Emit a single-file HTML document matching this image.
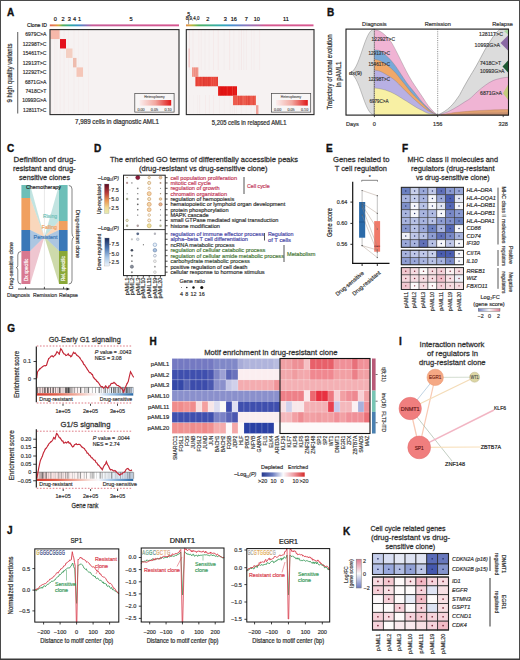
<!DOCTYPE html>
<html><head><meta charset="utf-8"><title>Figure</title>
<style>
html,body{margin:0;padding:0;background:#fff;}
body{width:520px;height:660px;overflow:hidden;}
svg{display:block;font-family:"Liberation Sans",sans-serif;}
</style></head><body>
<svg width="520" height="660" viewBox="0 0 520 660">
<rect x="0.00" y="0.00" width="520.00" height="660.00" fill="#ffffff" />
<text x="7.00" y="16.20" font-size="10" fill="#111" stroke="#111" stroke-width="0.35" font-weight="bold" >A</text>
<text x="55.40" y="20.76" font-size="5.6" text-anchor="middle" stroke="#2a2a2a" stroke-width="0.187" >0</text>
<text x="63.00" y="20.76" font-size="5.6" text-anchor="middle" stroke="#2a2a2a" stroke-width="0.187" >2</text>
<text x="69.20" y="20.76" font-size="5.6" text-anchor="middle" stroke="#2a2a2a" stroke-width="0.187" >3</text>
<text x="74.60" y="20.76" font-size="5.6" text-anchor="middle" stroke="#2a2a2a" stroke-width="0.187" >4</text>
<text x="79.50" y="20.76" font-size="5.6" text-anchor="middle" stroke="#2a2a2a" stroke-width="0.187" >1</text>
<text x="131.00" y="20.76" font-size="5.6" text-anchor="middle" stroke="#2a2a2a" stroke-width="0.187" >5</text>
<text x="47.00" y="27.20" font-size="5.8" text-anchor="end" stroke="#2a2a2a" stroke-width="0.193" textLength="20.00" lengthAdjust="spacingAndGlyphs" >Clone ID</text>
<text x="188.80" y="15.62" font-size="5.2" text-anchor="middle" stroke="#2a2a2a" stroke-width="0.173" >5</text>
<line x1="188.60" y1="15.50" x2="188.60" y2="24.50" stroke="#333" stroke-width="0.5" />
<text x="185.80" y="20.42" font-size="5.2" stroke="#2a2a2a" stroke-width="0.173" textLength="13.60" lengthAdjust="spacingAndGlyphs" >8,9,4,0</text>
<text x="207.80" y="20.76" font-size="5.6" text-anchor="middle" stroke="#2a2a2a" stroke-width="0.187" >2</text>
<text x="225.30" y="20.76" font-size="5.6" text-anchor="middle" stroke="#2a2a2a" stroke-width="0.187" >3</text>
<text x="233.80" y="20.76" font-size="5.6" text-anchor="middle" stroke="#2a2a2a" stroke-width="0.187" textLength="6.23" lengthAdjust="spacingAndGlyphs" >16</text>
<text x="246.30" y="20.76" font-size="5.6" text-anchor="middle" stroke="#2a2a2a" stroke-width="0.187" >7</text>
<text x="256.80" y="20.76" font-size="5.6" text-anchor="middle" stroke="#2a2a2a" stroke-width="0.187" textLength="6.23" lengthAdjust="spacingAndGlyphs" >10</text>
<text x="286.00" y="20.76" font-size="5.6" text-anchor="middle" stroke="#2a2a2a" stroke-width="0.187" textLength="5.81" lengthAdjust="spacingAndGlyphs" >11</text>
<defs>
<linearGradient id="cb1" x1="49.8" x2="179" y1="0" y2="0" gradientUnits="userSpaceOnUse">
<stop offset="0" stop-color="#e06858"/><stop offset="0.045" stop-color="#e88a48"/>
<stop offset="0.07" stop-color="#c8b040"/><stop offset="0.1" stop-color="#58b058"/>
<stop offset="0.16" stop-color="#30a8a0"/><stop offset="0.22" stop-color="#3a90c8"/>
<stop offset="0.28" stop-color="#8870b8"/><stop offset="0.33" stop-color="#c85c98"/>
<stop offset="1" stop-color="#d65690"/></linearGradient>
<linearGradient id="cb2" x1="186" x2="313.5" y1="0" y2="0" gradientUnits="userSpaceOnUse">
<stop offset="0" stop-color="#e08848"/><stop offset="0.03" stop-color="#d8a840"/>
<stop offset="0.06" stop-color="#a0b840"/><stop offset="0.1" stop-color="#50b060"/>
<stop offset="0.2" stop-color="#40b090"/><stop offset="0.29" stop-color="#30a8b8"/>
<stop offset="0.36" stop-color="#4890d0"/><stop offset="0.47" stop-color="#8878c0"/>
<stop offset="0.56" stop-color="#b068a8"/><stop offset="0.62" stop-color="#d65890"/>
<stop offset="1" stop-color="#d85890"/></linearGradient>
<linearGradient id="het" x1="0" x2="1" y1="0" y2="0">
<stop offset="0" stop-color="#fbeeee"/><stop offset="0.5" stop-color="#f2a8a0"/>
<stop offset="1" stop-color="#e01818"/></linearGradient>
</defs>
<rect x="49.80" y="24.40" width="129.20" height="1.90" fill="url(#cb1)" />
<rect x="186.00" y="24.40" width="127.50" height="1.90" fill="url(#cb2)" />
<rect x="50.00" y="29.60" width="129.00" height="85.00" fill="#f6f2f2" />
<rect x="186.30" y="29.60" width="127.70" height="85.00" fill="#f6f2f2" />
<rect x="51.00" y="29.60" width="0.54" height="85.00" fill="#f2dada" opacity="0.31"/>
<rect x="54.48" y="29.60" width="0.76" height="85.00" fill="#f2dada" opacity="0.34"/>
<rect x="56.74" y="29.60" width="0.41" height="85.00" fill="#f2dada" opacity="0.40"/>
<rect x="59.78" y="29.60" width="0.54" height="85.00" fill="#f2dada" opacity="0.45"/>
<rect x="63.66" y="29.60" width="0.90" height="85.00" fill="#f2dada" opacity="0.29"/>
<rect x="68.22" y="29.60" width="0.49" height="85.00" fill="#f2dada" opacity="0.34"/>
<rect x="73.69" y="29.60" width="0.71" height="85.00" fill="#f2dada" opacity="0.37"/>
<rect x="78.37" y="29.60" width="0.44" height="85.00" fill="#f2dada" opacity="0.38"/>
<rect x="82.74" y="29.60" width="0.58" height="85.00" fill="#f2dada" opacity="0.16"/>
<rect x="88.20" y="29.60" width="0.68" height="85.00" fill="#f2dada" opacity="0.37"/>
<rect x="189.00" y="29.60" width="0.83" height="40.40" fill="#f2dada" opacity="0.43"/>
<rect x="192.58" y="29.60" width="0.88" height="40.40" fill="#f2dada" opacity="0.28"/>
<rect x="198.32" y="29.60" width="0.93" height="40.40" fill="#f2dada" opacity="0.18"/>
<rect x="200.87" y="29.60" width="0.53" height="40.40" fill="#f2dada" opacity="0.44"/>
<rect x="204.61" y="29.60" width="0.78" height="40.40" fill="#f2dada" opacity="0.24"/>
<rect x="208.64" y="29.60" width="0.63" height="40.40" fill="#f2dada" opacity="0.26"/>
<rect x="212.98" y="29.60" width="0.75" height="40.40" fill="#f2dada" opacity="0.42"/>
<rect x="217.71" y="29.60" width="0.96" height="40.40" fill="#f2dada" opacity="0.41"/>
<rect x="223.67" y="29.60" width="0.80" height="40.40" fill="#f2dada" opacity="0.20"/>
<rect x="229.11" y="29.60" width="0.98" height="40.40" fill="#f2dada" opacity="0.42"/>
<rect x="233.39" y="29.60" width="0.83" height="40.40" fill="#f2dada" opacity="0.21"/>
<rect x="238.72" y="29.60" width="0.74" height="40.40" fill="#f2dada" opacity="0.24"/>
<rect x="240.97" y="29.60" width="0.91" height="40.40" fill="#f2dada" opacity="0.45"/>
<rect x="243.33" y="29.60" width="0.88" height="40.40" fill="#f2dada" opacity="0.27"/>
<rect x="245.93" y="29.60" width="0.58" height="40.40" fill="#f2dada" opacity="0.38"/>
<rect x="251.42" y="29.60" width="0.43" height="40.40" fill="#f2dada" opacity="0.33"/>
<rect x="253.60" y="29.60" width="0.83" height="40.40" fill="#f2dada" opacity="0.25"/>
<rect x="259.12" y="29.60" width="0.99" height="40.40" fill="#f2dada" opacity="0.30"/>
<rect x="189.00" y="95.00" width="0.59" height="19.60" fill="#f2dada" opacity="0.17"/>
<rect x="193.40" y="95.00" width="0.42" height="19.60" fill="#f2dada" opacity="0.21"/>
<rect x="197.03" y="95.00" width="0.77" height="19.60" fill="#f2dada" opacity="0.20"/>
<rect x="199.20" y="95.00" width="0.92" height="19.60" fill="#f2dada" opacity="0.24"/>
<rect x="205.04" y="95.00" width="0.94" height="19.60" fill="#f2dada" opacity="0.26"/>
<rect x="208.88" y="95.00" width="0.71" height="19.60" fill="#f2dada" opacity="0.34"/>
<rect x="213.26" y="95.00" width="0.74" height="19.60" fill="#f2dada" opacity="0.34"/>
<rect x="219.02" y="95.00" width="0.70" height="19.60" fill="#f2dada" opacity="0.28"/>
<rect x="223.90" y="95.00" width="0.54" height="19.60" fill="#f2dada" opacity="0.24"/>
<rect x="229.81" y="95.00" width="0.71" height="19.60" fill="#f2dada" opacity="0.31"/>
<rect x="231.86" y="95.00" width="0.65" height="19.60" fill="#f2dada" opacity="0.32"/>
<rect x="233.94" y="95.00" width="0.77" height="19.60" fill="#f2dada" opacity="0.34"/>
<rect x="236.18" y="95.00" width="0.78" height="19.60" fill="#f2dada" opacity="0.29"/>
<rect x="240.90" y="95.00" width="0.61" height="19.60" fill="#f2dada" opacity="0.36"/>
<rect x="245.85" y="95.00" width="0.41" height="19.60" fill="#f2dada" opacity="0.17"/>
<rect x="250.55" y="95.00" width="0.98" height="19.60" fill="#f2dada" opacity="0.23"/>
<rect x="254.38" y="95.00" width="0.76" height="19.60" fill="#f2dada" opacity="0.25"/>
<rect x="257.84" y="95.00" width="0.59" height="19.60" fill="#f2dada" opacity="0.26"/>
<rect x="50.30" y="29.60" width="9.30" height="9.44" fill="#f7b8aa" />
<rect x="60.00" y="39.04" width="6.00" height="9.44" fill="#e4101c" />
<rect x="66.00" y="48.49" width="6.50" height="9.44" fill="#f4cfc2" />
<rect x="73.00" y="57.93" width="3.50" height="9.44" fill="#eebcae" />
<rect x="76.50" y="67.38" width="6.50" height="9.44" fill="#f5c6b8" />
<rect x="188.40" y="48.49" width="1.60" height="9.44" fill="#f4cccc" />
<rect x="188.40" y="57.93" width="1.60" height="9.44" fill="#f4cccc" />
<rect x="192.00" y="67.38" width="6.40" height="9.44" fill="#f2a094" />
<rect x="195.40" y="76.82" width="22.60" height="9.44" fill="#e9473c" />
<rect x="218.00" y="86.27" width="19.00" height="9.44" fill="#e41414" />
<rect x="233.00" y="95.71" width="23.00" height="9.44" fill="#ec5a4c" />
<rect x="256.00" y="105.16" width="2.40" height="9.44" fill="#f0a098" />
<rect x="192.50" y="67.38" width="0.43" height="9.44" fill="#f07060" opacity="0.45"/>
<rect x="194.09" y="67.38" width="0.32" height="9.44" fill="#d82820" opacity="0.45"/>
<rect x="195.64" y="67.38" width="0.32" height="9.44" fill="#f07060" opacity="0.45"/>
<rect x="196.70" y="67.38" width="0.47" height="9.44" fill="#d82820" opacity="0.45"/>
<rect x="195.90" y="76.82" width="0.52" height="9.44" fill="#d82820" opacity="0.45"/>
<rect x="198.14" y="76.82" width="0.35" height="9.44" fill="#f07060" opacity="0.45"/>
<rect x="200.09" y="76.82" width="0.53" height="9.44" fill="#d82820" opacity="0.45"/>
<rect x="201.95" y="76.82" width="0.46" height="9.44" fill="#f07060" opacity="0.45"/>
<rect x="203.02" y="76.82" width="0.64" height="9.44" fill="#c81818" opacity="0.45"/>
<rect x="204.65" y="76.82" width="0.52" height="9.44" fill="#c81818" opacity="0.45"/>
<rect x="206.49" y="76.82" width="0.57" height="9.44" fill="#d82820" opacity="0.45"/>
<rect x="208.36" y="76.82" width="0.56" height="9.44" fill="#c81818" opacity="0.45"/>
<rect x="209.51" y="76.82" width="0.58" height="9.44" fill="#d82820" opacity="0.45"/>
<rect x="211.44" y="76.82" width="0.50" height="9.44" fill="#f49080" opacity="0.45"/>
<rect x="213.60" y="76.82" width="0.49" height="9.44" fill="#f49080" opacity="0.45"/>
<rect x="215.15" y="76.82" width="0.40" height="9.44" fill="#f07060" opacity="0.45"/>
<rect x="217.19" y="76.82" width="0.40" height="9.44" fill="#c81818" opacity="0.45"/>
<rect x="218.50" y="86.27" width="0.65" height="9.44" fill="#f49080" opacity="0.45"/>
<rect x="219.93" y="86.27" width="0.69" height="9.44" fill="#d82820" opacity="0.45"/>
<rect x="221.70" y="86.27" width="0.37" height="9.44" fill="#c81818" opacity="0.45"/>
<rect x="222.93" y="86.27" width="0.50" height="9.44" fill="#d82820" opacity="0.45"/>
<rect x="225.37" y="86.27" width="0.33" height="9.44" fill="#c81818" opacity="0.45"/>
<rect x="226.88" y="86.27" width="0.44" height="9.44" fill="#f49080" opacity="0.45"/>
<rect x="228.75" y="86.27" width="0.48" height="9.44" fill="#d82820" opacity="0.45"/>
<rect x="231.17" y="86.27" width="0.49" height="9.44" fill="#d82820" opacity="0.45"/>
<rect x="232.26" y="86.27" width="0.58" height="9.44" fill="#f49080" opacity="0.45"/>
<rect x="233.69" y="86.27" width="0.45" height="9.44" fill="#c81818" opacity="0.45"/>
<rect x="234.72" y="86.27" width="0.48" height="9.44" fill="#f07060" opacity="0.45"/>
<rect x="233.50" y="95.71" width="0.50" height="9.44" fill="#f07060" opacity="0.45"/>
<rect x="235.65" y="95.71" width="0.35" height="9.44" fill="#f07060" opacity="0.45"/>
<rect x="237.25" y="95.71" width="0.67" height="9.44" fill="#f49080" opacity="0.45"/>
<rect x="238.37" y="95.71" width="0.48" height="9.44" fill="#c81818" opacity="0.45"/>
<rect x="240.70" y="95.71" width="0.63" height="9.44" fill="#c81818" opacity="0.45"/>
<rect x="242.75" y="95.71" width="0.69" height="9.44" fill="#f49080" opacity="0.45"/>
<rect x="245.19" y="95.71" width="0.36" height="9.44" fill="#f07060" opacity="0.45"/>
<rect x="246.42" y="95.71" width="0.56" height="9.44" fill="#d82820" opacity="0.45"/>
<rect x="248.15" y="95.71" width="0.54" height="9.44" fill="#c81818" opacity="0.45"/>
<rect x="249.57" y="95.71" width="0.36" height="9.44" fill="#c81818" opacity="0.45"/>
<rect x="251.48" y="95.71" width="0.43" height="9.44" fill="#f07060" opacity="0.45"/>
<rect x="253.52" y="95.71" width="0.51" height="9.44" fill="#d82820" opacity="0.45"/>
<rect x="255.20" y="95.71" width="0.65" height="9.44" fill="#f49080" opacity="0.45"/>
<rect x="50.00" y="29.60" width="129.00" height="85.00" fill="none" stroke="#2a2a2a" stroke-width="1.1" />
<rect x="186.30" y="29.60" width="127.70" height="85.00" fill="none" stroke="#2a2a2a" stroke-width="1.1" />
<rect x="134.80" y="93.50" width="39.30" height="18.60" fill="#f8f6f6" stroke="#444" stroke-width="0.7" />
<rect x="139.40" y="100.00" width="31.80" height="5.60" fill="url(#het)" />
<text x="154.40" y="98.16" font-size="3.3" text-anchor="middle" fill="#555" stroke="#555" stroke-width="0.110" textLength="20.36" lengthAdjust="spacingAndGlyphs" >Heteroplasmy</text>
<text x="141.00" y="110.59" font-size="3.7" text-anchor="middle" fill="#555" stroke="#555" stroke-width="0.123" textLength="7.20" lengthAdjust="spacingAndGlyphs" >0.00</text>
<text x="154.40" y="110.59" font-size="3.7" text-anchor="middle" fill="#555" stroke="#555" stroke-width="0.123" textLength="7.20" lengthAdjust="spacingAndGlyphs" >0.05</text>
<text x="168.00" y="110.59" font-size="3.7" text-anchor="middle" fill="#555" stroke="#555" stroke-width="0.123" textLength="7.20" lengthAdjust="spacingAndGlyphs" >0.10</text>
<rect x="271.40" y="93.50" width="39.30" height="18.60" fill="#f8f6f6" stroke="#444" stroke-width="0.7" />
<rect x="276.00" y="100.00" width="31.80" height="5.60" fill="url(#het)" />
<text x="291.00" y="98.16" font-size="3.3" text-anchor="middle" fill="#555" stroke="#555" stroke-width="0.110" textLength="20.36" lengthAdjust="spacingAndGlyphs" >Heteroplasmy</text>
<text x="277.60" y="110.59" font-size="3.7" text-anchor="middle" fill="#555" stroke="#555" stroke-width="0.123" textLength="7.20" lengthAdjust="spacingAndGlyphs" >0.00</text>
<text x="291.00" y="110.59" font-size="3.7" text-anchor="middle" fill="#555" stroke="#555" stroke-width="0.123" textLength="7.20" lengthAdjust="spacingAndGlyphs" >0.05</text>
<text x="304.60" y="110.59" font-size="3.7" text-anchor="middle" fill="#555" stroke="#555" stroke-width="0.123" textLength="7.20" lengthAdjust="spacingAndGlyphs" >0.10</text>
<text x="46.40" y="36.32" font-size="5.6" text-anchor="end" fill="#333" stroke="#333" stroke-width="0.187" textLength="21.16" lengthAdjust="spacingAndGlyphs" >6979C&gt;A</text>
<text x="46.40" y="45.77" font-size="5.6" text-anchor="end" fill="#333" stroke="#333" stroke-width="0.187" textLength="23.68" lengthAdjust="spacingAndGlyphs" >12298T&gt;C</text>
<text x="46.40" y="55.21" font-size="5.6" text-anchor="end" fill="#333" stroke="#333" stroke-width="0.187" textLength="23.68" lengthAdjust="spacingAndGlyphs" >15461T&gt;C</text>
<text x="46.40" y="64.66" font-size="5.6" text-anchor="end" fill="#333" stroke="#333" stroke-width="0.187" textLength="23.68" lengthAdjust="spacingAndGlyphs" >12913T&gt;C</text>
<text x="46.40" y="74.10" font-size="5.6" text-anchor="end" fill="#333" stroke="#333" stroke-width="0.187" textLength="23.68" lengthAdjust="spacingAndGlyphs" >12292T&gt;C</text>
<text x="46.40" y="83.54" font-size="5.6" text-anchor="end" fill="#333" stroke="#333" stroke-width="0.187" textLength="21.44" lengthAdjust="spacingAndGlyphs" >6871G&gt;A</text>
<text x="46.40" y="92.99" font-size="5.6" text-anchor="end" fill="#333" stroke="#333" stroke-width="0.187" textLength="20.87" lengthAdjust="spacingAndGlyphs" >7418C&gt;T</text>
<text x="46.40" y="102.43" font-size="5.6" text-anchor="end" fill="#333" stroke="#333" stroke-width="0.187" textLength="24.24" lengthAdjust="spacingAndGlyphs" >10993G&gt;A</text>
<text x="46.40" y="111.88" font-size="5.6" text-anchor="end" fill="#333" stroke="#333" stroke-width="0.187" textLength="23.30" lengthAdjust="spacingAndGlyphs" >12811T&gt;C</text>
<line x1="17.70" y1="32.00" x2="17.70" y2="113.50" stroke="#6a6a6a" stroke-width="1.1" />
<text x="12.40" y="73.00" font-size="7.13" text-anchor="middle" fill="#333" stroke="#333" stroke-width="0.238" textLength="59.00" lengthAdjust="spacingAndGlyphs" transform="rotate(-90 12.40 73.00)" >9 high quality variants</text>
<text x="75.00" y="124.41" font-size="7.24" fill="#333" stroke="#333" stroke-width="0.241" textLength="84.00" lengthAdjust="spacingAndGlyphs" >7,989 cells in diagnostic AML1</text>
<text x="211.80" y="124.61" font-size="7.24" fill="#333" stroke="#333" stroke-width="0.241" textLength="74.60" lengthAdjust="spacingAndGlyphs" >5,205 cells in relapsed AML1</text>
<text x="327.00" y="16.20" font-size="10" fill="#111" stroke="#111" stroke-width="0.35" font-weight="bold" >B</text>
<path d="M349,73 C360,73 364,29.1 374.4,29.1 L374.4,115.1 C364,115.1 360,73 349,73 Z" fill="#dcdcdc" stroke="#8a8a8a" stroke-width="0.5" />
<path d="M374.40,29.60 C375.33,29.88 378.18,30.35 380.00,31.30 C381.82,32.25 383.52,33.63 385.30,35.30 C387.08,36.97 388.92,38.73 390.70,41.30 C392.48,43.87 394.23,47.37 396.00,50.70 C397.77,54.03 399.52,57.75 401.30,61.30 C403.08,64.85 404.92,68.67 406.70,72.00 C408.48,75.33 410.23,78.42 412.00,81.30 C413.77,84.18 415.52,86.63 417.30,89.30 C419.08,91.97 420.92,94.63 422.70,97.30 C424.48,99.97 426.23,102.97 428.00,105.30 C429.77,107.63 431.68,109.67 433.30,111.30 C434.92,112.93 436.97,114.47 437.70,115.10 L374.4,115.1 Z" fill="#f0b4d4" stroke="#7a7a7a" stroke-width="0.35" />
<path d="M374.40,50.00 C375.33,50.12 378.18,49.92 380.00,50.70 C381.82,51.48 383.52,53.15 385.30,54.70 C387.08,56.25 388.92,58.00 390.70,60.00 C392.48,62.00 394.23,64.25 396.00,66.70 C397.77,69.15 399.52,72.03 401.30,74.70 C403.08,77.37 404.92,80.27 406.70,82.70 C408.48,85.13 410.23,87.08 412.00,89.30 C413.77,91.52 415.52,93.77 417.30,96.00 C419.08,98.23 420.92,100.70 422.70,102.70 C424.48,104.70 426.23,106.33 428.00,108.00 C429.77,109.67 431.68,111.52 433.30,112.70 C434.92,113.88 436.97,114.70 437.70,115.10 L374.4,115.1 Z" fill="#78a8d8" stroke="#7a7a7a" stroke-width="0.35" />
<path d="M374.40,59.30 C375.33,59.53 378.18,59.92 380.00,60.70 C381.82,61.48 383.52,62.78 385.30,64.00 C387.08,65.22 388.92,66.45 390.70,68.00 C392.48,69.55 394.23,71.30 396.00,73.30 C397.77,75.30 399.52,77.77 401.30,80.00 C403.08,82.23 404.92,84.48 406.70,86.70 C408.48,88.92 410.23,91.30 412.00,93.30 C413.77,95.30 415.52,96.92 417.30,98.70 C419.08,100.48 420.92,102.23 422.70,104.00 C424.48,105.77 426.23,107.80 428.00,109.30 C429.77,110.80 431.68,112.03 433.30,113.00 C434.92,113.97 436.97,114.75 437.70,115.10 L374.4,115.1 Z" fill="#f0a868" stroke="#7a7a7a" stroke-width="0.35" />
<path d="M374.40,70.00 C375.33,70.22 378.18,70.63 380.00,71.30 C381.82,71.97 383.52,73.00 385.30,74.00 C387.08,75.00 388.92,76.08 390.70,77.30 C392.48,78.52 394.23,79.73 396.00,81.30 C397.77,82.87 399.52,84.92 401.30,86.70 C403.08,88.48 404.92,90.23 406.70,92.00 C408.48,93.77 410.23,95.63 412.00,97.30 C413.77,98.97 415.52,100.43 417.30,102.00 C419.08,103.57 420.92,105.25 422.70,106.70 C424.48,108.15 426.23,109.57 428.00,110.70 C429.77,111.83 431.68,112.77 433.30,113.50 C434.92,114.23 436.97,114.83 437.70,115.10 L374.4,115.1 Z" fill="#b8b0e4" stroke="#7a7a7a" stroke-width="0.35" />
<path d="M374.40,88.00 C375.33,88.12 378.18,88.37 380.00,88.70 C381.82,89.03 383.52,89.45 385.30,90.00 C387.08,90.55 388.92,91.22 390.70,92.00 C392.48,92.78 394.23,93.70 396.00,94.70 C397.77,95.70 399.52,96.90 401.30,98.00 C403.08,99.10 404.92,100.18 406.70,101.30 C408.48,102.42 410.23,103.58 412.00,104.70 C413.77,105.82 415.52,107.00 417.30,108.00 C419.08,109.00 420.92,109.82 422.70,110.70 C424.48,111.58 425.50,112.57 428.00,113.30 C430.50,114.03 436.08,114.80 437.70,115.10 L374.4,115.1 Z" fill="#f8f0a4" stroke="#7a7a7a" stroke-width="0.35" />
<path d="M437.70,115.10 C438.87,114.47 442.58,112.70 444.70,111.30 C446.82,109.90 448.68,108.33 450.40,106.70 C452.12,105.07 453.55,103.32 455.00,101.50 C456.45,99.68 457.85,97.80 459.10,95.80 C460.35,93.80 460.85,92.47 462.50,89.50 C464.15,86.53 466.72,81.92 469.00,78.00 C471.28,74.08 473.47,70.83 476.20,66.00 C478.93,61.17 482.93,53.33 485.40,49.00 C487.87,44.67 489.33,42.55 491.00,40.00 C492.67,37.45 493.98,35.47 495.40,33.70 C496.82,31.93 498.82,30.12 499.50,29.40 L508.5,29.1 L508.5,115.1 Z" fill="#dcdcdc" stroke="#7a7a7a" stroke-width="0.5" />
<path d="M439.00,114.80 C440.42,114.32 445.12,112.87 447.50,111.90 C449.88,110.93 451.37,110.05 453.30,109.00 C455.23,107.95 457.17,106.80 459.10,105.60 C461.03,104.40 463.08,102.97 464.90,101.80 C466.72,100.63 467.87,100.33 470.00,98.60 C472.13,96.87 475.13,93.63 477.70,91.40 C480.27,89.17 482.85,87.00 485.40,85.20 C487.95,83.40 490.43,81.75 493.00,80.60 C495.57,79.45 498.73,78.82 500.80,78.30 C502.87,77.78 504.12,77.67 505.40,77.50 C506.68,77.33 507.98,77.33 508.50,77.30 L508.5,115.1 Z" fill="#f0b4d4" stroke="#8a6a8a" stroke-width="0.4" />
<path d="M441.00,115.00 C443.33,114.58 449.33,113.20 455.00,112.50 C460.67,111.80 468.33,111.25 475.00,110.80 C481.67,110.35 489.42,110.02 495.00,109.80 C500.58,109.58 506.25,109.55 508.50,109.50 L508.5,115.1 Z" fill="#e0a070" stroke="#a07050" stroke-width="0.3" />
<path d="M441.00,115.00 C444.17,114.77 452.67,114.00 460.00,113.60 C467.33,113.20 476.92,112.83 485.00,112.60 C493.08,112.37 504.58,112.27 508.50,112.20 L508.5,115.1 Z" fill="#c89070" />
<path d="M500.5,43 L508.5,35 L508.5,51 Z" fill="#8a68a4" />
<path d="M502.5,66.5 L508.5,60 L508.5,73 Z" fill="#1e5a34" />
<path d="M503,93.2 L508.5,83.7 L508.5,100.6 Z" fill="#c4cc7c" />
<path d="M504,31 L508.5,29.3 L508.5,35 Z" fill="#a8d8a0" />
<line x1="374.40" y1="29.10" x2="374.40" y2="115.10" stroke="#333" stroke-width="0.6" stroke-dasharray="1,1.2"/>
<line x1="437.70" y1="29.10" x2="437.70" y2="115.10" stroke="#333" stroke-width="0.6" stroke-dasharray="1,1.2"/>
<rect x="346.00" y="29.10" width="162.50" height="86.00" fill="none" stroke="#1a1a1a" stroke-width="1.1" />
<line x1="374.40" y1="115.10" x2="374.40" y2="117.10" stroke="#222" stroke-width="0.8" />
<line x1="437.70" y1="115.10" x2="437.70" y2="117.10" stroke="#222" stroke-width="0.8" />
<line x1="503.20" y1="115.10" x2="503.20" y2="117.10" stroke="#222" stroke-width="0.8" />
<text x="374.40" y="26.36" font-size="5.6" text-anchor="middle" fill="#333" stroke="#333" stroke-width="0.187" textLength="24.59" lengthAdjust="spacingAndGlyphs" >Diagnosis</text>
<text x="437.70" y="26.16" font-size="5.6" text-anchor="middle" fill="#333" stroke="#333" stroke-width="0.187" textLength="26.14" lengthAdjust="spacingAndGlyphs" >Remission</text>
<text x="502.60" y="26.16" font-size="5.6" text-anchor="middle" fill="#333" stroke="#333" stroke-width="0.187" textLength="20.54" lengthAdjust="spacingAndGlyphs" >Relapse</text>
<text x="346.00" y="126.20" font-size="5.6" fill="#333" stroke="#333" stroke-width="0.187" textLength="12.76" lengthAdjust="spacingAndGlyphs" >Days</text>
<text x="374.40" y="126.16" font-size="5.6" text-anchor="middle" fill="#333" stroke="#333" stroke-width="0.187" >0</text>
<text x="437.70" y="126.16" font-size="5.6" text-anchor="middle" fill="#333" stroke="#333" stroke-width="0.187" textLength="9.34" lengthAdjust="spacingAndGlyphs" >156</text>
<text x="503.20" y="126.16" font-size="5.6" text-anchor="middle" fill="#333" stroke="#333" stroke-width="0.187" textLength="9.34" lengthAdjust="spacingAndGlyphs" >328</text>
<text x="331.80" y="72.00" font-size="6.9" text-anchor="middle" fill="#333" stroke="#333" stroke-width="0.230" textLength="75.00" lengthAdjust="spacingAndGlyphs" transform="rotate(-90 331.80 72.00)" >Trajectory of clonal evolution</text>
<text x="340.80" y="74.30" font-size="6.9" text-anchor="middle" fill="#333" stroke="#333" stroke-width="0.230" textLength="25.50" lengthAdjust="spacingAndGlyphs" transform="rotate(-90 340.80 74.30)" >in pAML1</text>
<text x="371.60" y="40.50" font-size="6.0" fill="#3a3a3a" stroke="#3a3a3a" stroke-width="0.200" textLength="23.40" lengthAdjust="spacingAndGlyphs" >12292T&gt;C</text>
<text x="368.50" y="54.50" font-size="6.0" fill="#3a3a3a" stroke="#3a3a3a" stroke-width="0.200" textLength="21.50" lengthAdjust="spacingAndGlyphs" >12913T&gt;C</text>
<text x="368.50" y="66.30" font-size="6.0" fill="#3a3a3a" stroke="#3a3a3a" stroke-width="0.200" textLength="21.50" lengthAdjust="spacingAndGlyphs" >15461T&gt;C</text>
<text x="368.50" y="80.50" font-size="6.0" fill="#3a3a3a" stroke="#3a3a3a" stroke-width="0.200" textLength="21.50" lengthAdjust="spacingAndGlyphs" >12298T&gt;C</text>
<text x="369.50" y="103.10" font-size="6.0" fill="#3a3a3a" stroke="#3a3a3a" stroke-width="0.200" textLength="19.00" lengthAdjust="spacingAndGlyphs" >6979C&gt;A</text>
<text x="349.00" y="75.10" font-size="6.0" fill="#3a3a3a" stroke="#3a3a3a" stroke-width="0.200" textLength="13.00" lengthAdjust="spacingAndGlyphs" >dx(9)</text>
<text x="479.00" y="36.30" font-size="6.0" fill="#3a3a3a" stroke="#3a3a3a" stroke-width="0.200" textLength="24.00" lengthAdjust="spacingAndGlyphs" >12811T&gt;C</text>
<text x="474.60" y="46.50" font-size="6.0" fill="#3a3a3a" stroke="#3a3a3a" stroke-width="0.200" textLength="25.40" lengthAdjust="spacingAndGlyphs" >10993G&gt;A</text>
<text x="480.00" y="65.10" font-size="6.0" fill="#3a3a3a" stroke="#3a3a3a" stroke-width="0.200" textLength="21.00" lengthAdjust="spacingAndGlyphs" >7418C&gt;T</text>
<text x="480.00" y="72.50" font-size="6.0" fill="#3a3a3a" stroke="#3a3a3a" stroke-width="0.200" textLength="24.50" lengthAdjust="spacingAndGlyphs" >10993G&gt;A</text>
<text x="480.00" y="94.50" font-size="6.0" fill="#3a3a3a" stroke="#3a3a3a" stroke-width="0.200" textLength="22.00" lengthAdjust="spacingAndGlyphs" >6871G&gt;A</text>
<text x="7.00" y="152.20" font-size="10" fill="#111" stroke="#111" stroke-width="0.35" font-weight="bold" >C</text>
<text x="13.60" y="162.36" font-size="7.9" fill="#333" stroke="#333" stroke-width="0.263" textLength="62.40" lengthAdjust="spacingAndGlyphs" >Definition of drug-</text>
<text x="13.00" y="170.96" font-size="7.9" fill="#333" stroke="#333" stroke-width="0.263" textLength="62.60" lengthAdjust="spacingAndGlyphs" >resistant and drug-</text>
<text x="19.00" y="180.16" font-size="7.9" fill="#333" stroke="#333" stroke-width="0.263" textLength="51.00" lengthAdjust="spacingAndGlyphs" >sensitive clones</text>
<path d="M30.2,185 L44.4,237 L30.2,198 Z" fill="#6dbfb8" opacity="0.42"/>
<path d="M30.2,198 L44.4,237 L30.2,230 Z" fill="#f0a060" opacity="0.42"/>
<path d="M30.2,230 L44.4,237 L30.2,251 Z" fill="#3a78b8" opacity="0.42"/>
<path d="M30.2,251 L44.4,237 L30.2,284 Z" fill="#d87890" opacity="0.42"/>
<path d="M59,185 L44.4,237 L59,221 Z" fill="#6dbfb8" opacity="0.42"/>
<path d="M59,221 L44.4,237 L59,230 Z" fill="#f0a060" opacity="0.42"/>
<path d="M59,230 L44.4,237 L59,251 Z" fill="#3a78b8" opacity="0.42"/>
<path d="M59,251 L44.4,237 L59,284 Z" fill="#8aa838" opacity="0.42"/>
<line x1="44.40" y1="185.00" x2="44.40" y2="285.00" stroke="#cfcfcf" stroke-width="0.5" />
<rect x="21.40" y="185.00" width="8.80" height="13.00" fill="#6dbfb8" />
<rect x="21.40" y="198.00" width="8.80" height="32.00" fill="#f0a060" />
<rect x="21.40" y="230.00" width="8.80" height="21.00" fill="#3a78b8" />
<rect x="21.40" y="251.00" width="8.80" height="33.00" fill="#d87890" />
<rect x="59.00" y="185.00" width="8.60" height="36.00" fill="#6dbfb8" />
<rect x="59.00" y="221.00" width="8.60" height="9.00" fill="#f0a060" />
<rect x="59.00" y="230.00" width="8.60" height="21.00" fill="#3a78b8" />
<rect x="59.00" y="251.00" width="8.60" height="33.00" fill="#8aa838" />
<text x="26.00" y="189.29" font-size="5.4" fill="#222" stroke="#222" stroke-width="0.180" textLength="35.00" lengthAdjust="spacingAndGlyphs" >Chemotherapy</text>
<text x="43.00" y="218.10" font-size="6.0" fill="#6dbfb8" stroke="#6dbfb8" stroke-width="0.200" textLength="14.00" lengthAdjust="spacingAndGlyphs" >Rising</text>
<text x="41.80" y="228.60" font-size="6.0" fill="#f0a060" stroke="#f0a060" stroke-width="0.200" textLength="15.00" lengthAdjust="spacingAndGlyphs" >Falling</text>
<text x="33.60" y="238.50" font-size="6.0" fill="#3a78b8" stroke="#3a78b8" stroke-width="0.200" textLength="23.90" lengthAdjust="spacingAndGlyphs" >Persistent</text>
<text x="27.60" y="281.00" font-size="4.6" fill="#fff" stroke="#fff" stroke-width="0.153" textLength="22.24" lengthAdjust="spacingAndGlyphs" transform="rotate(-90 27.60 281.00)" >Dx specific</text>
<text x="65.20" y="281.00" font-size="4.6" fill="#fff" stroke="#fff" stroke-width="0.153" textLength="24.80" lengthAdjust="spacingAndGlyphs" transform="rotate(-90 65.20 281.00)" >Rel. specific</text>
<path d="M21,251.5 Q17.8,251.5 17.8,255 L17.8,265.5 Q17.8,267.5 16.2,267.7 Q17.8,268 17.8,270 L17.8,280.5 Q17.8,284 21,284" fill="none" stroke="#333" stroke-width="0.6" />
<path d="M68.8,185.5 Q72,185.5 72,189 L72,233 Q72,237 73.8,237.3 Q72,237.6 72,241.5 L72,280.5 Q72,284 68.8,284" fill="none" stroke="#333" stroke-width="0.6" />
<text x="12.60" y="265.50" font-size="5.9" text-anchor="middle" fill="#333" stroke="#333" stroke-width="0.197" textLength="47.00" lengthAdjust="spacingAndGlyphs" transform="rotate(-90 12.60 265.50)" >Drug-sensitive clone</text>
<text x="76.20" y="234.00" font-size="5.6" text-anchor="middle" fill="#333" stroke="#333" stroke-width="0.187" textLength="48.00" lengthAdjust="spacingAndGlyphs" transform="rotate(90 76.20 234.00)" >Drug-resistant clone</text>
<line x1="18.00" y1="289.00" x2="68.00" y2="289.00" stroke="#222" stroke-width="0.8" />
<path d="M70,289 L66.5,287.4 L66.5,290.6 Z" fill="#222" />
<line x1="25.60" y1="286.80" x2="25.60" y2="289.00" stroke="#222" stroke-width="0.8" />
<line x1="44.40" y1="286.80" x2="44.40" y2="289.00" stroke="#222" stroke-width="0.8" />
<line x1="63.60" y1="286.80" x2="63.60" y2="289.00" stroke="#222" stroke-width="0.8" />
<text x="7.00" y="297.26" font-size="5.6" fill="#333" stroke="#333" stroke-width="0.187" textLength="23.00" lengthAdjust="spacingAndGlyphs" >Diagnosis</text>
<text x="33.00" y="297.26" font-size="5.6" fill="#333" stroke="#333" stroke-width="0.187" textLength="24.00" lengthAdjust="spacingAndGlyphs" >Remission</text>
<text x="59.00" y="297.26" font-size="5.6" fill="#333" stroke="#333" stroke-width="0.187" textLength="19.00" lengthAdjust="spacingAndGlyphs" >Relapse</text>
<text x="94.00" y="152.20" font-size="10" fill="#111" stroke="#111" stroke-width="0.35" font-weight="bold" >D</text>
<text x="110.00" y="161.76" font-size="7.9" fill="#333" stroke="#333" stroke-width="0.263" textLength="188.00" lengthAdjust="spacingAndGlyphs" >The enriched GO terms of differentially accessible peaks</text>
<text x="139.00" y="170.96" font-size="7.9" fill="#333" stroke="#333" stroke-width="0.263" textLength="128.50" lengthAdjust="spacingAndGlyphs" >(drug-resistant vs drug-sensitive clone)</text>
<circle cx="127.10" cy="177.60" r="0.70" fill="#a08060" />
<circle cx="137.75" cy="177.60" r="2.00" fill="#8e1a3a" stroke="#6a1028" stroke-width="0.6" />
<circle cx="149.20" cy="177.60" r="1.20" fill="#f4e6cc" stroke="#c49658" stroke-width="0.6" />
<circle cx="160.50" cy="177.60" r="1.40" fill="#eccaa0" stroke="#c89060" stroke-width="0.6" />
<circle cx="127.10" cy="182.95" r="1.10" fill="#b89898" />
<circle cx="131.90" cy="182.95" r="0.60" fill="#555" />
<circle cx="149.20" cy="182.95" r="1.60" fill="#f4e6cc" stroke="#c49658" stroke-width="0.6" />
<circle cx="160.50" cy="182.95" r="0.90" fill="#b08870" />
<circle cx="137.75" cy="188.30" r="0.90" fill="#8c8c8c" />
<circle cx="149.20" cy="188.30" r="1.20" fill="#fff" stroke="#c49658" stroke-width="0.6" />
<circle cx="160.50" cy="188.30" r="0.60" fill="#8c8c8c" />
<circle cx="127.10" cy="193.65" r="0.50" fill="#777" />
<circle cx="137.75" cy="193.65" r="0.70" fill="#777" />
<circle cx="149.20" cy="193.65" r="2.00" fill="#f4d6ac" stroke="#d49050" stroke-width="0.6" />
<circle cx="160.50" cy="193.65" r="0.70" fill="#a08868" />
<circle cx="127.10" cy="199.00" r="1.20" fill="#a8b098" />
<circle cx="137.75" cy="199.00" r="1.00" fill="#8c8c8c" />
<circle cx="149.20" cy="199.00" r="1.60" fill="#f4e6cc" stroke="#c49658" stroke-width="0.6" />
<circle cx="160.50" cy="199.00" r="1.30" fill="#ecd0a8" stroke="#c89a68" stroke-width="0.6" />
<circle cx="137.75" cy="204.35" r="0.90" fill="#666" />
<circle cx="149.20" cy="204.35" r="2.00" fill="#f4d6ac" stroke="#d09050" stroke-width="0.6" />
<circle cx="160.50" cy="204.35" r="1.60" fill="#e8b890" stroke="#b07050" stroke-width="0.6" />
<circle cx="137.75" cy="209.70" r="0.80" fill="#666" />
<circle cx="149.20" cy="209.70" r="1.90" fill="#f4d6ac" stroke="#d09050" stroke-width="0.6" />
<circle cx="160.50" cy="209.70" r="0.60" fill="#8c8c8c" />
<circle cx="137.75" cy="215.05" r="0.60" fill="#555" />
<circle cx="149.20" cy="215.05" r="1.30" fill="#fff" stroke="#c49658" stroke-width="0.6" />
<circle cx="160.50" cy="215.05" r="0.60" fill="#8c8c8c" />
<circle cx="127.10" cy="220.40" r="1.20" fill="#f4f0d8" stroke="#a8a070" stroke-width="0.6" />
<circle cx="149.20" cy="220.40" r="1.50" fill="#faf0e0" stroke="#c49658" stroke-width="0.6" />
<circle cx="160.50" cy="220.40" r="0.80" fill="#8c8c8c" />
<circle cx="127.10" cy="225.75" r="1.20" fill="#b0b098" />
<circle cx="137.75" cy="225.75" r="1.20" fill="#b0a0a0" />
<circle cx="149.20" cy="225.75" r="2.00" fill="#f0e0a0" stroke="#c8b060" stroke-width="0.6" />
<circle cx="160.50" cy="225.75" r="1.20" fill="#b8b898" />
<circle cx="137.75" cy="233.80" r="1.40" fill="#5a6a88" />
<circle cx="154.90" cy="233.80" r="1.20" fill="#b4b4bc" />
<circle cx="131.90" cy="239.28" r="1.10" fill="#c4c4c4" />
<circle cx="137.75" cy="239.28" r="1.30" fill="#e0e4ec" stroke="#909aa8" stroke-width="0.45" />
<circle cx="143.40" cy="244.76" r="0.60" fill="#444" />
<circle cx="154.90" cy="244.76" r="1.80" fill="#e8f0f8" stroke="#5a80b0" stroke-width="0.45" />
<circle cx="131.90" cy="250.24" r="1.30" fill="#404858" />
<circle cx="154.90" cy="250.24" r="1.80" fill="#a8c0e0" stroke="#4a6890" stroke-width="0.45" />
<circle cx="131.90" cy="255.72" r="0.90" fill="#666" />
<circle cx="154.90" cy="255.72" r="1.40" fill="#f4f6fa" stroke="#6a7a98" stroke-width="0.45" />
<circle cx="131.90" cy="261.20" r="0.90" fill="#888" />
<circle cx="154.90" cy="261.20" r="1.40" fill="#f0f0f0" stroke="#a0a0a0" stroke-width="0.45" />
<circle cx="131.90" cy="266.68" r="1.60" fill="#8a909c" stroke="#4a5060" stroke-width="0.45" />
<circle cx="154.90" cy="266.68" r="0.90" fill="#999" />
<circle cx="131.90" cy="272.16" r="1.00" fill="#888" />
<circle cx="154.90" cy="272.16" r="1.30" fill="#fafafa" stroke="#909090" stroke-width="0.45" />
<rect x="123.50" y="175.20" width="41.70" height="100.40" fill="none" stroke="#222" stroke-width="1.0" />
<line x1="123.50" y1="229.60" x2="165.20" y2="229.60" stroke="#222" stroke-width="0.9" />
<line x1="165.20" y1="177.60" x2="167.60" y2="177.60" stroke="#222" stroke-width="0.8" />
<line x1="165.20" y1="182.95" x2="167.60" y2="182.95" stroke="#222" stroke-width="0.8" />
<line x1="165.20" y1="188.30" x2="167.60" y2="188.30" stroke="#222" stroke-width="0.8" />
<line x1="165.20" y1="193.65" x2="167.60" y2="193.65" stroke="#222" stroke-width="0.8" />
<line x1="165.20" y1="199.00" x2="167.60" y2="199.00" stroke="#222" stroke-width="0.8" />
<line x1="165.20" y1="204.35" x2="167.60" y2="204.35" stroke="#222" stroke-width="0.8" />
<line x1="165.20" y1="209.70" x2="167.60" y2="209.70" stroke="#222" stroke-width="0.8" />
<line x1="165.20" y1="215.05" x2="167.60" y2="215.05" stroke="#222" stroke-width="0.8" />
<line x1="165.20" y1="220.40" x2="167.60" y2="220.40" stroke="#222" stroke-width="0.8" />
<line x1="165.20" y1="225.75" x2="167.60" y2="225.75" stroke="#222" stroke-width="0.8" />
<line x1="165.20" y1="233.80" x2="167.60" y2="233.80" stroke="#222" stroke-width="0.8" />
<line x1="165.20" y1="239.28" x2="167.60" y2="239.28" stroke="#222" stroke-width="0.8" />
<line x1="165.20" y1="244.76" x2="167.60" y2="244.76" stroke="#222" stroke-width="0.8" />
<line x1="165.20" y1="250.24" x2="167.60" y2="250.24" stroke="#222" stroke-width="0.8" />
<line x1="165.20" y1="255.72" x2="167.60" y2="255.72" stroke="#222" stroke-width="0.8" />
<line x1="165.20" y1="261.20" x2="167.60" y2="261.20" stroke="#222" stroke-width="0.8" />
<line x1="165.20" y1="266.68" x2="167.60" y2="266.68" stroke="#222" stroke-width="0.8" />
<line x1="165.20" y1="272.16" x2="167.60" y2="272.16" stroke="#222" stroke-width="0.8" />
<line x1="127.10" y1="275.60" x2="127.10" y2="277.60" stroke="#222" stroke-width="0.8" />
<text x="129.00" y="277.60" font-size="5.6" text-anchor="end" fill="#333" stroke="#333" stroke-width="0.187" textLength="17.74" lengthAdjust="spacingAndGlyphs" transform="rotate(-90 129.00 277.60)" >pAML1</text>
<line x1="131.90" y1="275.60" x2="131.90" y2="277.60" stroke="#222" stroke-width="0.8" />
<text x="133.80" y="277.60" font-size="5.6" text-anchor="end" fill="#333" stroke="#333" stroke-width="0.187" textLength="17.74" lengthAdjust="spacingAndGlyphs" transform="rotate(-90 133.80 277.60)" >pAML2</text>
<line x1="137.75" y1="275.60" x2="137.75" y2="277.60" stroke="#222" stroke-width="0.8" />
<text x="139.65" y="277.60" font-size="5.6" text-anchor="end" fill="#333" stroke="#333" stroke-width="0.187" textLength="17.74" lengthAdjust="spacingAndGlyphs" transform="rotate(-90 139.65 277.60)" >pAML3</text>
<line x1="143.40" y1="275.60" x2="143.40" y2="277.60" stroke="#222" stroke-width="0.8" />
<text x="145.30" y="277.60" font-size="5.6" text-anchor="end" fill="#333" stroke="#333" stroke-width="0.187" textLength="20.86" lengthAdjust="spacingAndGlyphs" transform="rotate(-90 145.30 277.60)" >pAML10</text>
<line x1="149.20" y1="275.60" x2="149.20" y2="277.60" stroke="#222" stroke-width="0.8" />
<text x="151.10" y="277.60" font-size="5.6" text-anchor="end" fill="#333" stroke="#333" stroke-width="0.187" textLength="20.44" lengthAdjust="spacingAndGlyphs" transform="rotate(-90 151.10 277.60)" >pAML11</text>
<line x1="154.90" y1="275.60" x2="154.90" y2="277.60" stroke="#222" stroke-width="0.8" />
<text x="156.80" y="277.60" font-size="5.6" text-anchor="end" fill="#333" stroke="#333" stroke-width="0.187" textLength="20.86" lengthAdjust="spacingAndGlyphs" transform="rotate(-90 156.80 277.60)" >pAML19</text>
<line x1="160.50" y1="275.60" x2="160.50" y2="277.60" stroke="#222" stroke-width="0.8" />
<text x="162.40" y="277.60" font-size="5.6" text-anchor="end" fill="#333" stroke="#333" stroke-width="0.187" textLength="20.86" lengthAdjust="spacingAndGlyphs" transform="rotate(-90 162.40 277.60)" >pAML20</text>
<text x="170.40" y="179.50" font-size="5.6" fill="#c43c5c" stroke="#c43c5c" stroke-width="0.187" textLength="66.60" lengthAdjust="spacingAndGlyphs" >cell population proliferation</text>
<text x="170.40" y="184.85" font-size="5.6" fill="#c43c5c" stroke="#c43c5c" stroke-width="0.187" textLength="40.44" lengthAdjust="spacingAndGlyphs" >mitotic cell cycle</text>
<text x="170.40" y="190.20" font-size="5.6" fill="#c43c5c" stroke="#c43c5c" stroke-width="0.187" textLength="49.17" lengthAdjust="spacingAndGlyphs" >regulation of growth</text>
<text x="170.40" y="195.55" font-size="5.6" fill="#c43c5c" stroke="#c43c5c" stroke-width="0.187" textLength="56.64" lengthAdjust="spacingAndGlyphs" >chromatin organization</text>
<text x="170.40" y="200.90" font-size="5.6" fill="#333" stroke="#333" stroke-width="0.187" textLength="63.80" lengthAdjust="spacingAndGlyphs" >regulation of hemopoiesis</text>
<text x="170.40" y="206.25" font-size="5.6" fill="#333" stroke="#333" stroke-width="0.187" textLength="114.83" lengthAdjust="spacingAndGlyphs" >hematopoietic or lymphoid organ development</text>
<text x="170.40" y="211.60" font-size="5.6" fill="#333" stroke="#333" stroke-width="0.187" textLength="58.20" lengthAdjust="spacingAndGlyphs" >protein phosphorylation</text>
<text x="170.40" y="216.95" font-size="5.6" fill="#333" stroke="#333" stroke-width="0.187" textLength="38.27" lengthAdjust="spacingAndGlyphs" >MAPK cascade</text>
<text x="170.40" y="222.30" font-size="5.6" fill="#333" stroke="#333" stroke-width="0.187" textLength="107.98" lengthAdjust="spacingAndGlyphs" >small GTPase mediated signal transduction</text>
<text x="170.40" y="227.65" font-size="5.6" fill="#333" stroke="#333" stroke-width="0.187" textLength="49.48" lengthAdjust="spacingAndGlyphs" >histone modification</text>
<text x="170.40" y="235.70" font-size="5.6" fill="#4a4aa8" stroke="#4a4aa8" stroke-width="0.187" textLength="93.56" lengthAdjust="spacingAndGlyphs" >regulation of immune effector process</text>
<text x="170.40" y="241.18" font-size="5.6" fill="#4a4aa8" stroke="#4a4aa8" stroke-width="0.187" textLength="77.50" lengthAdjust="spacingAndGlyphs" >alpha–beta T cell differentiation</text>
<text x="170.40" y="246.66" font-size="5.6" fill="#34403a" stroke="#34403a" stroke-width="0.187" textLength="64.10" lengthAdjust="spacingAndGlyphs" >ncRNA metabolic process</text>
<text x="170.40" y="252.14" font-size="5.6" fill="#4a7a3a" stroke="#4a7a3a" stroke-width="0.187" textLength="94.91" lengthAdjust="spacingAndGlyphs" >regulation of cellular catabolic process</text>
<text x="170.40" y="257.62" font-size="5.6" fill="#4a7a3a" stroke="#4a7a3a" stroke-width="0.187" textLength="113.58" lengthAdjust="spacingAndGlyphs" >regulation of cellular amide metabolic process</text>
<text x="170.40" y="263.10" font-size="5.6" fill="#3a4a3a" stroke="#3a4a3a" stroke-width="0.187" textLength="79.35" lengthAdjust="spacingAndGlyphs" >carbohydrate metabolic process</text>
<text x="170.40" y="268.58" font-size="5.6" fill="#333" stroke="#333" stroke-width="0.187" textLength="76.87" lengthAdjust="spacingAndGlyphs" >positive regulation of cell death</text>
<text x="170.40" y="274.06" font-size="5.6" fill="#333" stroke="#333" stroke-width="0.187" textLength="94.28" lengthAdjust="spacingAndGlyphs" >cellular response to hormone stimulus</text>
<line x1="244.00" y1="177.00" x2="244.00" y2="194.00" stroke="#555" stroke-width="1.0" />
<text x="247.00" y="187.70" font-size="6.0" fill="#c43c5c" stroke="#c43c5c" stroke-width="0.200" textLength="22.60" lengthAdjust="spacingAndGlyphs" >Cell cycle</text>
<line x1="264.50" y1="233.00" x2="264.50" y2="240.50" stroke="#555" stroke-width="1.0" />
<text x="268.00" y="236.10" font-size="6.0" fill="#4a4aa8" stroke="#4a4aa8" stroke-width="0.200" textLength="25.50" lengthAdjust="spacingAndGlyphs" >Regulation</text>
<text x="268.00" y="242.30" font-size="6.0" fill="#4a4aa8" stroke="#4a4aa8" stroke-width="0.200" textLength="23.00" lengthAdjust="spacingAndGlyphs" >of T cells</text>
<line x1="284.00" y1="245.00" x2="284.00" y2="262.00" stroke="#555" stroke-width="1.0" />
<text x="287.00" y="255.80" font-size="6.0" fill="#4a7a3a" stroke="#4a7a3a" stroke-width="0.200" textLength="28.50" lengthAdjust="spacingAndGlyphs" >Metabolism</text>
<defs>
<linearGradient id="dup" x1="0" x2="0" y1="0" y2="1">
<stop offset="0" stop-color="#5a0a22"/><stop offset="0.3" stop-color="#b83a3a"/>
<stop offset="0.55" stop-color="#e89450"/><stop offset="0.8" stop-color="#f2d890"/>
<stop offset="1" stop-color="#e4ecb4"/></linearGradient>
<linearGradient id="ddn" x1="0" x2="0" y1="0" y2="1">
<stop offset="0" stop-color="#1a2a58"/><stop offset="0.35" stop-color="#4a74b0"/>
<stop offset="0.7" stop-color="#a8c8e8"/><stop offset="1" stop-color="#eef4fa"/></linearGradient>
</defs>
<text x="98.00" y="180.00" font-size="5.2" fill="#333" stroke="#333" stroke-width="0.173" textLength="11.57" lengthAdjust="spacingAndGlyphs" >–Log</text>
<text x="108.30" y="181.20" font-size="3.2" fill="#333" stroke="#333" stroke-width="0.107" textLength="3.56" lengthAdjust="spacingAndGlyphs" >10</text>
<text x="112.00" y="180.00" font-size="5.2" fill="#333" stroke="#333" stroke-width="0.173" font-style="italic" textLength="6.93" lengthAdjust="spacingAndGlyphs" >(P)</text>
<rect x="104.40" y="184.00" width="4.60" height="29.60" fill="url(#dup)" stroke="#999" stroke-width="0.3" />
<line x1="109.00" y1="190.00" x2="110.60" y2="190.00" stroke="#333" stroke-width="0.6" />
<text x="111.20" y="191.90" font-size="5.4" fill="#333" stroke="#333" stroke-width="0.180" textLength="7.51" lengthAdjust="spacingAndGlyphs" >7.5</text>
<line x1="109.00" y1="198.60" x2="110.60" y2="198.60" stroke="#333" stroke-width="0.6" />
<text x="111.20" y="200.50" font-size="5.4" fill="#333" stroke="#333" stroke-width="0.180" textLength="7.51" lengthAdjust="spacingAndGlyphs" >5.0</text>
<line x1="109.00" y1="208.00" x2="110.60" y2="208.00" stroke="#333" stroke-width="0.6" />
<text x="111.20" y="209.90" font-size="5.4" fill="#333" stroke="#333" stroke-width="0.180" textLength="7.51" lengthAdjust="spacingAndGlyphs" >2.5</text>
<text x="100.80" y="199.00" font-size="5.2" text-anchor="middle" fill="#333" stroke="#333" stroke-width="0.173" textLength="30.06" lengthAdjust="spacingAndGlyphs" transform="rotate(-90 100.80 199.00)" >Up-regulated</text>
<text x="98.00" y="230.00" font-size="5.2" fill="#333" stroke="#333" stroke-width="0.173" textLength="11.57" lengthAdjust="spacingAndGlyphs" >–Log</text>
<text x="108.30" y="231.20" font-size="3.2" fill="#333" stroke="#333" stroke-width="0.107" textLength="3.56" lengthAdjust="spacingAndGlyphs" >10</text>
<text x="112.00" y="230.00" font-size="5.2" fill="#333" stroke="#333" stroke-width="0.173" font-style="italic" textLength="6.93" lengthAdjust="spacingAndGlyphs" >(P)</text>
<rect x="104.80" y="238.00" width="4.40" height="28.00" fill="url(#ddn)" stroke="#999" stroke-width="0.3" />
<line x1="109.20" y1="244.40" x2="110.80" y2="244.40" stroke="#333" stroke-width="0.6" />
<text x="111.40" y="246.30" font-size="5.4" fill="#333" stroke="#333" stroke-width="0.180" textLength="7.51" lengthAdjust="spacingAndGlyphs" >7.5</text>
<line x1="109.20" y1="253.60" x2="110.80" y2="253.60" stroke="#333" stroke-width="0.6" />
<text x="111.40" y="255.50" font-size="5.4" fill="#333" stroke="#333" stroke-width="0.180" textLength="7.51" lengthAdjust="spacingAndGlyphs" >5.0</text>
<line x1="109.20" y1="262.40" x2="110.80" y2="262.40" stroke="#333" stroke-width="0.6" />
<text x="111.40" y="264.30" font-size="5.4" fill="#333" stroke="#333" stroke-width="0.180" textLength="7.51" lengthAdjust="spacingAndGlyphs" >2.5</text>
<text x="100.80" y="252.00" font-size="5.2" text-anchor="middle" fill="#333" stroke="#333" stroke-width="0.173" textLength="36.71" lengthAdjust="spacingAndGlyphs" transform="rotate(-90 100.80 252.00)" >Down-regulated</text>
<text x="179.60" y="283.16" font-size="5.6" fill="#333" stroke="#333" stroke-width="0.187" textLength="25.40" lengthAdjust="spacingAndGlyphs" >Gene ratio</text>
<circle cx="181.60" cy="287.50" r="0.45" fill="#111" />
<text x="181.60" y="295.79" font-size="5.4" text-anchor="middle" fill="#333" stroke="#333" stroke-width="0.180" >4</text>
<circle cx="186.80" cy="287.50" r="0.80" fill="#111" />
<text x="186.80" y="295.79" font-size="5.4" text-anchor="middle" fill="#333" stroke="#333" stroke-width="0.180" >8</text>
<circle cx="193.50" cy="287.50" r="1.20" fill="#111" />
<text x="193.50" y="295.79" font-size="5.4" text-anchor="middle" fill="#333" stroke="#333" stroke-width="0.180" textLength="6.01" lengthAdjust="spacingAndGlyphs" >12</text>
<circle cx="201.80" cy="287.50" r="1.55" fill="#111" />
<text x="201.80" y="295.79" font-size="5.4" text-anchor="middle" fill="#333" stroke="#333" stroke-width="0.180" textLength="6.01" lengthAdjust="spacingAndGlyphs" >16</text>
<text x="326.00" y="151.80" font-size="10" fill="#111" stroke="#111" stroke-width="0.35" font-weight="bold" >E</text>
<text x="333.00" y="162.06" font-size="7.9" fill="#333" stroke="#333" stroke-width="0.263" textLength="56.50" lengthAdjust="spacingAndGlyphs" >Genes related to</text>
<text x="334.70" y="170.96" font-size="7.9" fill="#333" stroke="#333" stroke-width="0.263" textLength="52.30" lengthAdjust="spacingAndGlyphs" >T cell regulation</text>
<line x1="352.70" y1="181.70" x2="352.70" y2="263.60" stroke="#111" stroke-width="1.2" />
<line x1="352.10" y1="263.30" x2="389.50" y2="263.30" stroke="#111" stroke-width="1.2" />
<line x1="350.40" y1="202.10" x2="352.70" y2="202.10" stroke="#111" stroke-width="0.9" />
<text x="347.20" y="204.00" font-size="5.4" text-anchor="end" fill="#333" stroke="#333" stroke-width="0.180" textLength="10.51" lengthAdjust="spacingAndGlyphs" >0.64</text>
<line x1="350.40" y1="223.40" x2="352.70" y2="223.40" stroke="#111" stroke-width="0.9" />
<text x="347.20" y="225.30" font-size="5.4" text-anchor="end" fill="#333" stroke="#333" stroke-width="0.180" textLength="10.51" lengthAdjust="spacingAndGlyphs" >0.60</text>
<line x1="350.40" y1="244.30" x2="352.70" y2="244.30" stroke="#111" stroke-width="0.9" />
<text x="347.20" y="246.20" font-size="5.4" text-anchor="end" fill="#333" stroke="#333" stroke-width="0.180" textLength="10.51" lengthAdjust="spacingAndGlyphs" >0.56</text>
<line x1="362.10" y1="263.30" x2="362.10" y2="266.00" stroke="#111" stroke-width="0.9" />
<line x1="377.30" y1="263.30" x2="377.30" y2="266.00" stroke="#111" stroke-width="0.9" />
<text x="331.60" y="222.50" font-size="7.2" text-anchor="middle" fill="#333" stroke="#333" stroke-width="0.240" textLength="29.00" lengthAdjust="spacingAndGlyphs" transform="rotate(-90 331.60 222.50)" >Gene score</text>
<path d="M361.7,181.6 L361.7,180.3 L377.5,180.3 L377.5,181.6" fill="none" stroke="#333" stroke-width="0.6" />
<text x="369.70" y="179.35" font-size="5.0" text-anchor="middle" fill="#333" stroke="#333" stroke-width="0.167" >*</text>
<line x1="362.10" y1="190.50" x2="362.10" y2="245.60" stroke="#999" stroke-width="0.6" />
<line x1="377.30" y1="195.70" x2="377.30" y2="258.30" stroke="#999" stroke-width="0.6" />
<rect x="359.10" y="202.00" width="6.10" height="35.70" fill="#2b6aa8" />
<rect x="374.20" y="221.10" width="5.90" height="30.60" fill="#f07a6a" />
<line x1="374.20" y1="246.20" x2="380.10" y2="246.20" stroke="#a02020" stroke-width="0.8" />
<line x1="359.10" y1="222.00" x2="365.20" y2="222.00" stroke="#1a4a80" stroke-width="0.6" />
<line x1="362.10" y1="190.50" x2="377.30" y2="195.70" stroke="#a08878" stroke-width="0.4" />
<circle cx="362.10" cy="190.50" r="0.60" fill="#555" />
<circle cx="377.30" cy="195.70" r="0.60" fill="#555" />
<line x1="362.10" y1="203.00" x2="377.30" y2="213.30" stroke="#a08878" stroke-width="0.4" />
<circle cx="362.10" cy="203.00" r="0.60" fill="#555" />
<circle cx="377.30" cy="213.30" r="0.60" fill="#555" />
<line x1="362.10" y1="205.00" x2="377.30" y2="229.00" stroke="#a08878" stroke-width="0.4" />
<circle cx="362.10" cy="205.00" r="0.60" fill="#555" />
<circle cx="377.30" cy="229.00" r="0.60" fill="#555" />
<line x1="362.10" y1="207.00" x2="377.30" y2="246.50" stroke="#a08878" stroke-width="0.4" />
<circle cx="362.10" cy="207.00" r="0.60" fill="#555" />
<circle cx="377.30" cy="246.50" r="0.60" fill="#555" />
<line x1="362.10" y1="215.00" x2="377.30" y2="252.00" stroke="#a08878" stroke-width="0.4" />
<circle cx="362.10" cy="215.00" r="0.60" fill="#555" />
<circle cx="377.30" cy="252.00" r="0.60" fill="#555" />
<line x1="362.10" y1="245.60" x2="377.30" y2="250.00" stroke="#a08878" stroke-width="0.4" />
<circle cx="362.10" cy="245.60" r="0.60" fill="#555" />
<circle cx="377.30" cy="250.00" r="0.60" fill="#555" />
<line x1="362.10" y1="245.60" x2="377.30" y2="257.50" stroke="#a08878" stroke-width="0.4" />
<circle cx="362.10" cy="245.60" r="0.60" fill="#555" />
<circle cx="377.30" cy="257.50" r="0.60" fill="#555" />
<text x="364.30" y="273.80" font-size="5.7" text-anchor="end" fill="#333" stroke="#333" stroke-width="0.190" textLength="35.00" lengthAdjust="spacingAndGlyphs" transform="rotate(-40 364.30 273.80)" >Drug-sensitive</text>
<text x="381.00" y="273.40" font-size="5.7" text-anchor="end" fill="#333" stroke="#333" stroke-width="0.190" textLength="35.00" lengthAdjust="spacingAndGlyphs" transform="rotate(-40 381.00 273.40)" >Drug-resistant</text>
<text x="402.00" y="152.20" font-size="10" fill="#111" stroke="#111" stroke-width="0.35" font-weight="bold" >F</text>
<text x="407.50" y="162.06" font-size="7.9" fill="#333" stroke="#333" stroke-width="0.263" textLength="90.50" lengthAdjust="spacingAndGlyphs" >MHC class II molecules and</text>
<text x="411.00" y="171.26" font-size="7.9" fill="#333" stroke="#333" stroke-width="0.263" textLength="83.50" lengthAdjust="spacingAndGlyphs" >regulators (drug-resistant</text>
<text x="416.00" y="179.56" font-size="7.9" fill="#333" stroke="#333" stroke-width="0.263" textLength="73.50" lengthAdjust="spacingAndGlyphs" >vs drug-sensitive clone)</text>
<rect x="401.30" y="187.30" width="8.88" height="7.50" fill="#6b80c0" stroke="#3a3a3a" stroke-width="0.55" />
<circle cx="405.74" cy="191.05" r="0.72" fill="#2a3468" />
<rect x="410.19" y="187.30" width="8.88" height="7.50" fill="#c8d0ea" stroke="#3a3a3a" stroke-width="0.55" />
<circle cx="414.63" cy="191.05" r="0.72" fill="#2a3468" />
<rect x="419.07" y="187.30" width="8.88" height="7.50" fill="#9aa8d8" stroke="#3a3a3a" stroke-width="0.55" />
<circle cx="423.51" cy="191.05" r="0.72" fill="#2a3468" />
<rect x="427.96" y="187.30" width="8.88" height="7.50" fill="#c0c8e8" stroke="#3a3a3a" stroke-width="0.55" />
<circle cx="432.40" cy="191.05" r="0.72" fill="#2a3468" />
<rect x="436.84" y="187.30" width="8.88" height="7.50" fill="#6070b8" stroke="#3a3a3a" stroke-width="0.55" />
<circle cx="441.28" cy="191.05" r="0.72" fill="#2a3468" />
<rect x="445.73" y="187.30" width="8.88" height="7.50" fill="#8898d0" stroke="#3a3a3a" stroke-width="0.55" />
<circle cx="450.17" cy="191.05" r="0.72" fill="#2a3468" />
<rect x="454.61" y="187.30" width="8.88" height="7.50" fill="#97a5d6" stroke="#3a3a3a" stroke-width="0.55" />
<circle cx="459.05" cy="191.05" r="0.72" fill="#2a3468" />
<rect x="401.30" y="194.80" width="8.88" height="7.50" fill="#a8b4de" stroke="#3a3a3a" stroke-width="0.55" />
<circle cx="405.74" cy="198.55" r="0.72" fill="#2a3468" />
<rect x="410.19" y="194.80" width="8.88" height="7.50" fill="#c6cfea" stroke="#3a3a3a" stroke-width="0.55" />
<circle cx="414.63" cy="198.55" r="0.72" fill="#2a3468" />
<rect x="419.07" y="194.80" width="8.88" height="7.50" fill="#a8b4de" stroke="#3a3a3a" stroke-width="0.55" />
<circle cx="423.51" cy="198.55" r="0.72" fill="#2a3468" />
<rect x="427.96" y="194.80" width="8.88" height="7.50" fill="#f4f5fa" stroke="#3a3a3a" stroke-width="0.55" />
<circle cx="432.40" cy="198.55" r="0.72" fill="#2a3468" />
<rect x="436.84" y="194.80" width="8.88" height="7.50" fill="#9aa8d8" stroke="#3a3a3a" stroke-width="0.55" />
<circle cx="441.28" cy="198.55" r="0.72" fill="#2a3468" />
<rect x="445.73" y="194.80" width="8.88" height="7.50" fill="#4a5db0" stroke="#3a3a3a" stroke-width="0.55" />
<circle cx="450.17" cy="198.55" r="0.72" fill="#2a3468" />
<rect x="454.61" y="194.80" width="8.88" height="7.50" fill="#e4e8f4" stroke="#3a3a3a" stroke-width="0.55" />
<circle cx="459.05" cy="198.55" r="0.72" fill="#2a3468" />
<rect x="401.30" y="202.30" width="8.88" height="7.50" fill="#7f90c8" stroke="#3a3a3a" stroke-width="0.55" />
<circle cx="405.74" cy="206.05" r="0.72" fill="#2a3468" />
<rect x="410.19" y="202.30" width="8.88" height="7.50" fill="#f6f7fb" stroke="#3a3a3a" stroke-width="0.55" />
<circle cx="414.63" cy="206.05" r="0.72" fill="#2a3468" />
<rect x="419.07" y="202.30" width="8.88" height="7.50" fill="#b8c2e4" stroke="#3a3a3a" stroke-width="0.55" />
<circle cx="423.51" cy="206.05" r="0.72" fill="#2a3468" />
<rect x="427.96" y="202.30" width="8.88" height="7.50" fill="#f6f7fb" stroke="#3a3a3a" stroke-width="0.55" />
<circle cx="432.40" cy="206.05" r="0.72" fill="#2a3468" />
<rect x="436.84" y="202.30" width="8.88" height="7.50" fill="#e0e4f2" stroke="#3a3a3a" stroke-width="0.55" />
<circle cx="441.28" cy="206.05" r="0.72" fill="#2a3468" />
<rect x="445.73" y="202.30" width="8.88" height="7.50" fill="#5568b5" stroke="#3a3a3a" stroke-width="0.55" />
<circle cx="450.17" cy="206.05" r="0.72" fill="#2a3468" />
<rect x="454.61" y="202.30" width="8.88" height="7.50" fill="#f6f7fb" stroke="#3a3a3a" stroke-width="0.55" />
<circle cx="459.05" cy="206.05" r="0.72" fill="#2a3468" />
<rect x="401.30" y="209.80" width="8.88" height="7.50" fill="#a9b5de" stroke="#3a3a3a" stroke-width="0.55" />
<circle cx="405.74" cy="213.55" r="0.72" fill="#2a3468" />
<rect x="410.19" y="209.80" width="8.88" height="7.50" fill="#f6f7fb" stroke="#3a3a3a" stroke-width="0.55" />
<circle cx="414.63" cy="213.55" r="0.72" fill="#2a3468" />
<rect x="419.07" y="209.80" width="8.88" height="7.50" fill="#a8b4de" stroke="#3a3a3a" stroke-width="0.55" />
<circle cx="423.51" cy="213.55" r="0.72" fill="#2a3468" />
<rect x="427.96" y="209.80" width="8.88" height="7.50" fill="#b0bbe2" stroke="#3a3a3a" stroke-width="0.55" />
<circle cx="432.40" cy="213.55" r="0.72" fill="#2a3468" />
<rect x="436.84" y="209.80" width="8.88" height="7.50" fill="#f6f7fb" stroke="#3a3a3a" stroke-width="0.55" />
<circle cx="441.28" cy="213.55" r="0.72" fill="#2a3468" />
<rect x="445.73" y="209.80" width="8.88" height="7.50" fill="#7888c6" stroke="#3a3a3a" stroke-width="0.55" />
<circle cx="450.17" cy="213.55" r="0.72" fill="#2a3468" />
<rect x="454.61" y="209.80" width="8.88" height="7.50" fill="#8a9ad0" stroke="#3a3a3a" stroke-width="0.55" />
<circle cx="459.05" cy="213.55" r="0.72" fill="#2a3468" />
<rect x="401.30" y="217.30" width="8.88" height="7.50" fill="#a8b4de" stroke="#3a3a3a" stroke-width="0.55" />
<circle cx="405.74" cy="221.05" r="0.72" fill="#2a3468" />
<rect x="410.19" y="217.30" width="8.88" height="7.50" fill="#b8c2e4" stroke="#3a3a3a" stroke-width="0.55" />
<circle cx="414.63" cy="221.05" r="0.72" fill="#2a3468" />
<rect x="419.07" y="217.30" width="8.88" height="7.50" fill="#a8b4de" stroke="#3a3a3a" stroke-width="0.55" />
<circle cx="423.51" cy="221.05" r="0.72" fill="#2a3468" />
<rect x="427.96" y="217.30" width="8.88" height="7.50" fill="#b8c2e4" stroke="#3a3a3a" stroke-width="0.55" />
<circle cx="432.40" cy="221.05" r="0.72" fill="#2a3468" />
<rect x="436.84" y="217.30" width="8.88" height="7.50" fill="#8f9ed2" stroke="#3a3a3a" stroke-width="0.55" />
<circle cx="441.28" cy="221.05" r="0.72" fill="#2a3468" />
<rect x="445.73" y="217.30" width="8.88" height="7.50" fill="#8090ca" stroke="#3a3a3a" stroke-width="0.55" />
<circle cx="450.17" cy="221.05" r="0.72" fill="#2a3468" />
<rect x="454.61" y="217.30" width="8.88" height="7.50" fill="#6b80c0" stroke="#3a3a3a" stroke-width="0.55" />
<circle cx="459.05" cy="221.05" r="0.72" fill="#2a3468" />
<rect x="401.30" y="224.80" width="8.88" height="7.50" fill="#8595cc" stroke="#3a3a3a" stroke-width="0.55" />
<circle cx="405.74" cy="228.55" r="0.72" fill="#2a3468" />
<rect x="410.19" y="224.80" width="8.88" height="7.50" fill="#b8c2e4" stroke="#3a3a3a" stroke-width="0.55" />
<circle cx="414.63" cy="228.55" r="0.72" fill="#2a3468" />
<rect x="419.07" y="224.80" width="8.88" height="7.50" fill="#9aa8d8" stroke="#3a3a3a" stroke-width="0.55" />
<circle cx="423.51" cy="228.55" r="0.72" fill="#2a3468" />
<rect x="427.96" y="224.80" width="8.88" height="7.50" fill="#6b80c0" stroke="#3a3a3a" stroke-width="0.55" />
<circle cx="432.40" cy="228.55" r="0.72" fill="#2a3468" />
<rect x="436.84" y="224.80" width="8.88" height="7.50" fill="#a8b4de" stroke="#3a3a3a" stroke-width="0.55" />
<circle cx="441.28" cy="228.55" r="0.72" fill="#2a3468" />
<rect x="445.73" y="224.80" width="8.88" height="7.50" fill="#5568b5" stroke="#3a3a3a" stroke-width="0.55" />
<circle cx="450.17" cy="228.55" r="0.72" fill="#2a3468" />
<rect x="454.61" y="224.80" width="8.88" height="7.50" fill="#f6f7fb" stroke="#3a3a3a" stroke-width="0.55" />
<circle cx="459.05" cy="228.55" r="0.72" fill="#2a3468" />
<rect x="401.30" y="232.30" width="8.88" height="7.50" fill="#eef0f8" stroke="#3a3a3a" stroke-width="0.55" />
<circle cx="405.74" cy="236.05" r="0.72" fill="#2a3468" />
<rect x="410.19" y="232.30" width="8.88" height="7.50" fill="#c0c8e8" stroke="#3a3a3a" stroke-width="0.55" />
<circle cx="414.63" cy="236.05" r="0.72" fill="#2a3468" />
<rect x="419.07" y="232.30" width="8.88" height="7.50" fill="#b8c2e4" stroke="#3a3a3a" stroke-width="0.55" />
<circle cx="423.51" cy="236.05" r="0.72" fill="#2a3468" />
<rect x="427.96" y="232.30" width="8.88" height="7.50" fill="#8f9ed2" stroke="#3a3a3a" stroke-width="0.55" />
<circle cx="432.40" cy="236.05" r="0.72" fill="#2a3468" />
<rect x="436.84" y="232.30" width="8.88" height="7.50" fill="#6070b8" stroke="#3a3a3a" stroke-width="0.55" />
<circle cx="441.28" cy="236.05" r="0.72" fill="#2a3468" />
<rect x="445.73" y="232.30" width="8.88" height="7.50" fill="#7888c6" stroke="#3a3a3a" stroke-width="0.55" />
<circle cx="450.17" cy="236.05" r="0.72" fill="#2a3468" />
<rect x="454.61" y="232.30" width="8.88" height="7.50" fill="#a8b4de" stroke="#3a3a3a" stroke-width="0.55" />
<circle cx="459.05" cy="236.05" r="0.72" fill="#2a3468" />
<rect x="401.30" y="239.80" width="8.88" height="7.50" fill="#9aa8d8" stroke="#3a3a3a" stroke-width="0.55" />
<circle cx="405.74" cy="243.55" r="0.72" fill="#2a3468" />
<rect x="410.19" y="239.80" width="8.88" height="7.50" fill="#a8b4de" stroke="#3a3a3a" stroke-width="0.55" />
<circle cx="414.63" cy="243.55" r="0.72" fill="#2a3468" />
<rect x="419.07" y="239.80" width="8.88" height="7.50" fill="#6070b8" stroke="#3a3a3a" stroke-width="0.55" />
<circle cx="423.51" cy="243.55" r="0.72" fill="#2a3468" />
<rect x="427.96" y="239.80" width="8.88" height="7.50" fill="#b8c2e4" stroke="#3a3a3a" stroke-width="0.55" />
<circle cx="432.40" cy="243.55" r="0.72" fill="#2a3468" />
<rect x="436.84" y="239.80" width="8.88" height="7.50" fill="#f6f7fb" stroke="#3a3a3a" stroke-width="0.55" />
<circle cx="441.28" cy="243.55" r="0.72" fill="#2a3468" />
<rect x="445.73" y="239.80" width="8.88" height="7.50" fill="#c0c8e8" stroke="#3a3a3a" stroke-width="0.55" />
<circle cx="450.17" cy="243.55" r="0.72" fill="#2a3468" />
<rect x="454.61" y="239.80" width="8.88" height="7.50" fill="#f6f7fb" stroke="#3a3a3a" stroke-width="0.55" />
<circle cx="459.05" cy="243.55" r="0.72" fill="#2a3468" />
<rect x="401.30" y="187.30" width="62.20" height="60.00" fill="none" stroke="#2a2a2a" stroke-width="1.0" />
<rect x="401.30" y="250.20" width="8.88" height="7.28" fill="#a8b4de" stroke="#3a3a3a" stroke-width="0.55" />
<circle cx="405.74" cy="253.84" r="0.72" fill="#2a3468" />
<rect x="410.19" y="250.20" width="8.88" height="7.28" fill="#c0c8e8" stroke="#3a3a3a" stroke-width="0.55" />
<circle cx="414.63" cy="253.84" r="0.72" fill="#2a3468" />
<rect x="419.07" y="250.20" width="8.88" height="7.28" fill="#c0c8e8" stroke="#3a3a3a" stroke-width="0.55" />
<circle cx="423.51" cy="253.84" r="0.72" fill="#2a3468" />
<rect x="427.96" y="250.20" width="8.88" height="7.28" fill="#c8d0ea" stroke="#3a3a3a" stroke-width="0.55" />
<circle cx="432.40" cy="253.84" r="0.72" fill="#2a3468" />
<rect x="436.84" y="250.20" width="8.88" height="7.28" fill="#4a5db0" stroke="#3a3a3a" stroke-width="0.55" />
<circle cx="441.28" cy="253.84" r="0.72" fill="#2a3468" />
<rect x="445.73" y="250.20" width="8.88" height="7.28" fill="#4a5db0" stroke="#3a3a3a" stroke-width="0.55" />
<circle cx="450.17" cy="253.84" r="0.72" fill="#2a3468" />
<rect x="454.61" y="250.20" width="8.88" height="7.28" fill="#f6f7fb" stroke="#3a3a3a" stroke-width="0.55" />
<circle cx="459.05" cy="253.84" r="0.72" fill="#2a3468" />
<rect x="401.30" y="257.48" width="8.88" height="7.28" fill="#8f9ed2" stroke="#3a3a3a" stroke-width="0.55" />
<circle cx="405.74" cy="261.12" r="0.72" fill="#2a3468" />
<rect x="410.19" y="257.48" width="8.88" height="7.28" fill="#9aa8d8" stroke="#3a3a3a" stroke-width="0.55" />
<circle cx="414.63" cy="261.12" r="0.72" fill="#2a3468" />
<rect x="419.07" y="257.48" width="8.88" height="7.28" fill="#a8b4de" stroke="#3a3a3a" stroke-width="0.55" />
<circle cx="423.51" cy="261.12" r="0.72" fill="#2a3468" />
<rect x="427.96" y="257.48" width="8.88" height="7.28" fill="#b8c2e4" stroke="#3a3a3a" stroke-width="0.55" />
<circle cx="432.40" cy="261.12" r="0.72" fill="#2a3468" />
<rect x="436.84" y="257.48" width="8.88" height="7.28" fill="#a8b4de" stroke="#3a3a3a" stroke-width="0.55" />
<circle cx="441.28" cy="261.12" r="0.72" fill="#2a3468" />
<rect x="445.73" y="257.48" width="8.88" height="7.28" fill="#7888c6" stroke="#3a3a3a" stroke-width="0.55" />
<circle cx="450.17" cy="261.12" r="0.72" fill="#2a3468" />
<rect x="454.61" y="257.48" width="8.88" height="7.28" fill="#f6f7fb" stroke="#3a3a3a" stroke-width="0.55" />
<circle cx="459.05" cy="261.12" r="0.72" fill="#2a3468" />
<rect x="401.30" y="250.20" width="62.20" height="14.56" fill="none" stroke="#2a2a2a" stroke-width="1.0" />
<rect x="401.30" y="267.60" width="8.88" height="7.30" fill="#f0c8d0" stroke="#3a3a3a" stroke-width="0.55" />
<circle cx="405.74" cy="271.25" r="0.72" fill="#7a2a3a" />
<rect x="410.19" y="267.60" width="8.88" height="7.30" fill="#f5dde2" stroke="#3a3a3a" stroke-width="0.55" />
<circle cx="414.63" cy="271.25" r="0.72" fill="#7a2a3a" />
<rect x="419.07" y="267.60" width="8.88" height="7.30" fill="#fdfafa" stroke="#3a3a3a" stroke-width="0.55" />
<circle cx="423.51" cy="271.25" r="0.72" fill="#7a2a3a" />
<rect x="427.96" y="267.60" width="8.88" height="7.30" fill="#f5dde2" stroke="#3a3a3a" stroke-width="0.55" />
<circle cx="432.40" cy="271.25" r="0.72" fill="#7a2a3a" />
<rect x="436.84" y="267.60" width="8.88" height="7.30" fill="#f3d2da" stroke="#3a3a3a" stroke-width="0.55" />
<circle cx="441.28" cy="271.25" r="0.72" fill="#7a2a3a" />
<rect x="445.73" y="267.60" width="8.88" height="7.30" fill="#faf0f2" stroke="#3a3a3a" stroke-width="0.55" />
<circle cx="450.17" cy="271.25" r="0.72" fill="#7a2a3a" />
<rect x="454.61" y="267.60" width="8.88" height="7.30" fill="#f5dde2" stroke="#3a3a3a" stroke-width="0.55" />
<circle cx="459.05" cy="271.25" r="0.72" fill="#7a2a3a" />
<rect x="401.30" y="274.90" width="8.88" height="7.30" fill="#f5d8de" stroke="#3a3a3a" stroke-width="0.55" />
<circle cx="405.74" cy="278.55" r="0.72" fill="#7a2a3a" />
<rect x="410.19" y="274.90" width="8.88" height="7.30" fill="#f5dde2" stroke="#3a3a3a" stroke-width="0.55" />
<circle cx="414.63" cy="278.55" r="0.72" fill="#7a2a3a" />
<rect x="419.07" y="274.90" width="8.88" height="7.30" fill="#f5dde2" stroke="#3a3a3a" stroke-width="0.55" />
<circle cx="423.51" cy="278.55" r="0.72" fill="#7a2a3a" />
<rect x="427.96" y="274.90" width="8.88" height="7.30" fill="#f5dde2" stroke="#3a3a3a" stroke-width="0.55" />
<circle cx="432.40" cy="278.55" r="0.72" fill="#7a2a3a" />
<rect x="436.84" y="274.90" width="8.88" height="7.30" fill="#efbfca" stroke="#3a3a3a" stroke-width="0.55" />
<circle cx="441.28" cy="278.55" r="0.72" fill="#7a2a3a" />
<rect x="445.73" y="274.90" width="8.88" height="7.30" fill="#f7e0e5" stroke="#3a3a3a" stroke-width="0.55" />
<circle cx="450.17" cy="278.55" r="0.72" fill="#7a2a3a" />
<rect x="454.61" y="274.90" width="8.88" height="7.30" fill="#eef0f8" stroke="#3a3a3a" stroke-width="0.55" />
<circle cx="459.05" cy="278.55" r="0.72" fill="#7a2a3a" />
<rect x="401.30" y="282.20" width="8.88" height="7.30" fill="#f0c8d0" stroke="#3a3a3a" stroke-width="0.55" />
<circle cx="405.74" cy="285.85" r="0.72" fill="#7a2a3a" />
<rect x="410.19" y="282.20" width="8.88" height="7.30" fill="#fdfafa" stroke="#3a3a3a" stroke-width="0.55" />
<circle cx="414.63" cy="285.85" r="0.72" fill="#7a2a3a" />
<rect x="419.07" y="282.20" width="8.88" height="7.30" fill="#f5dde2" stroke="#3a3a3a" stroke-width="0.55" />
<circle cx="423.51" cy="285.85" r="0.72" fill="#7a2a3a" />
<rect x="427.96" y="282.20" width="8.88" height="7.30" fill="#fdfafa" stroke="#3a3a3a" stroke-width="0.55" />
<circle cx="432.40" cy="285.85" r="0.72" fill="#7a2a3a" />
<rect x="436.84" y="282.20" width="8.88" height="7.30" fill="#f3d2da" stroke="#3a3a3a" stroke-width="0.55" />
<circle cx="441.28" cy="285.85" r="0.72" fill="#7a2a3a" />
<rect x="445.73" y="282.20" width="8.88" height="7.30" fill="#f5dde2" stroke="#3a3a3a" stroke-width="0.55" />
<circle cx="450.17" cy="285.85" r="0.72" fill="#7a2a3a" />
<rect x="454.61" y="282.20" width="8.88" height="7.30" fill="#f5dde2" stroke="#3a3a3a" stroke-width="0.55" />
<circle cx="459.05" cy="285.85" r="0.72" fill="#7a2a3a" />
<rect x="401.30" y="267.60" width="62.20" height="21.90" fill="none" stroke="#2a2a2a" stroke-width="1.0" />
<text x="466.50" y="192.40" font-size="5.6" fill="#333" stroke="#333" stroke-width="0.187" font-style="italic" textLength="25.83" lengthAdjust="spacingAndGlyphs" >HLA–DRA</text>
<text x="466.50" y="199.90" font-size="5.6" fill="#333" stroke="#333" stroke-width="0.187" font-style="italic" textLength="29.26" lengthAdjust="spacingAndGlyphs" >HLA–DQA1</text>
<text x="466.50" y="207.40" font-size="5.6" fill="#333" stroke="#333" stroke-width="0.187" font-style="italic" textLength="28.95" lengthAdjust="spacingAndGlyphs" >HLA–DRB1</text>
<text x="466.50" y="214.90" font-size="5.6" fill="#333" stroke="#333" stroke-width="0.187" font-style="italic" textLength="28.64" lengthAdjust="spacingAndGlyphs" >HLA–DPB1</text>
<text x="466.50" y="222.65" font-size="5.6" fill="#333" stroke="#333" stroke-width="0.187" font-style="italic" textLength="28.22" lengthAdjust="spacingAndGlyphs" >HLA–DPA1</text>
<text x="466.50" y="230.40" font-size="5.6" fill="#333" stroke="#333" stroke-width="0.187" font-style="italic" textLength="14.32" lengthAdjust="spacingAndGlyphs" >CD86</text>
<text x="466.50" y="237.90" font-size="5.6" fill="#333" stroke="#333" stroke-width="0.187" font-style="italic" textLength="14.32" lengthAdjust="spacingAndGlyphs" >CD74</text>
<text x="466.50" y="245.20" font-size="5.6" fill="#333" stroke="#333" stroke-width="0.187" font-style="italic" textLength="12.76" lengthAdjust="spacingAndGlyphs" >IFI30</text>
<text x="466.50" y="254.90" font-size="5.6" fill="#333" stroke="#333" stroke-width="0.187" font-style="italic" textLength="13.90" lengthAdjust="spacingAndGlyphs" >CIITA</text>
<text x="466.50" y="262.50" font-size="5.6" fill="#333" stroke="#333" stroke-width="0.187" font-style="italic" textLength="10.90" lengthAdjust="spacingAndGlyphs" >IL10</text>
<text x="466.50" y="272.50" font-size="5.6" fill="#333" stroke="#333" stroke-width="0.187" font-style="italic" textLength="18.67" lengthAdjust="spacingAndGlyphs" >RREB1</text>
<text x="466.50" y="279.90" font-size="5.6" fill="#333" stroke="#333" stroke-width="0.187" font-style="italic" textLength="10.26" lengthAdjust="spacingAndGlyphs" >WIZ</text>
<text x="466.50" y="287.50" font-size="5.6" fill="#333" stroke="#333" stroke-width="0.187" font-style="italic" textLength="21.06" lengthAdjust="spacingAndGlyphs" >FBXO11</text>
<line x1="498.00" y1="187.60" x2="498.00" y2="244.50" stroke="#444" stroke-width="0.9" />
<line x1="498.00" y1="250.00" x2="498.00" y2="266.00" stroke="#444" stroke-width="0.9" />
<line x1="498.00" y1="268.00" x2="498.00" y2="288.80" stroke="#444" stroke-width="0.9" />
<text x="502.40" y="215.00" font-size="5.4" text-anchor="middle" fill="#333" stroke="#333" stroke-width="0.180" textLength="57.00" lengthAdjust="spacingAndGlyphs" transform="rotate(90 502.40 215.00)" >MHC class II molecules</text>
<text x="502.40" y="256.00" font-size="5.4" text-anchor="middle" fill="#333" stroke="#333" stroke-width="0.180" textLength="20.00" lengthAdjust="spacingAndGlyphs" transform="rotate(90 502.40 256.00)" >regulators</text>
<text x="508.60" y="255.00" font-size="5.4" text-anchor="middle" fill="#333" stroke="#333" stroke-width="0.180" textLength="18.00" lengthAdjust="spacingAndGlyphs" transform="rotate(90 508.60 255.00)" >Positive</text>
<text x="502.40" y="282.50" font-size="5.4" text-anchor="middle" fill="#333" stroke="#333" stroke-width="0.180" textLength="22.00" lengthAdjust="spacingAndGlyphs" transform="rotate(90 502.40 282.50)" >regulators</text>
<text x="508.60" y="282.20" font-size="5.4" text-anchor="middle" fill="#333" stroke="#333" stroke-width="0.180" textLength="20.00" lengthAdjust="spacingAndGlyphs" transform="rotate(90 508.60 282.20)" >Negative</text>
<text x="407.54" y="291.80" font-size="5.2" text-anchor="end" fill="#333" stroke="#333" stroke-width="0.173" textLength="16.48" lengthAdjust="spacingAndGlyphs" transform="rotate(-90 407.54 291.80)" >pAML1</text>
<text x="416.43" y="291.80" font-size="5.2" text-anchor="end" fill="#333" stroke="#333" stroke-width="0.173" textLength="16.48" lengthAdjust="spacingAndGlyphs" transform="rotate(-90 416.43 291.80)" >pAML2</text>
<text x="425.31" y="291.80" font-size="5.2" text-anchor="end" fill="#333" stroke="#333" stroke-width="0.173" textLength="16.48" lengthAdjust="spacingAndGlyphs" transform="rotate(-90 425.31 291.80)" >pAML3</text>
<text x="434.20" y="291.80" font-size="5.2" text-anchor="end" fill="#333" stroke="#333" stroke-width="0.173" textLength="19.37" lengthAdjust="spacingAndGlyphs" transform="rotate(-90 434.20 291.80)" >pAML10</text>
<text x="443.08" y="291.80" font-size="5.2" text-anchor="end" fill="#333" stroke="#333" stroke-width="0.173" textLength="18.98" lengthAdjust="spacingAndGlyphs" transform="rotate(-90 443.08 291.80)" >pAML11</text>
<text x="451.97" y="291.80" font-size="5.2" text-anchor="end" fill="#333" stroke="#333" stroke-width="0.173" textLength="19.37" lengthAdjust="spacingAndGlyphs" transform="rotate(-90 451.97 291.80)" >pAML19</text>
<text x="460.85" y="291.80" font-size="5.2" text-anchor="end" fill="#333" stroke="#333" stroke-width="0.173" textLength="19.37" lengthAdjust="spacingAndGlyphs" transform="rotate(-90 460.85 291.80)" >pAML20</text>
<defs><linearGradient id="bwr" x1="0" x2="1" y1="0" y2="0">
<stop offset="0" stop-color="#6a78c0"/><stop offset="0.5" stop-color="#f8f8fa"/>
<stop offset="1" stop-color="#e07a90"/></linearGradient>
<linearGradient id="bwrv" x1="0" x2="0" y1="1" y2="0">
<stop offset="0" stop-color="#6a78c0"/><stop offset="0.5" stop-color="#f8f8fa"/>
<stop offset="1" stop-color="#e07a90"/></linearGradient></defs>
<text x="480.50" y="298.80" font-size="5.6" fill="#333" stroke="#333" stroke-width="0.187" textLength="9.34" lengthAdjust="spacingAndGlyphs" >Log</text>
<text x="490.30" y="300.20" font-size="3.4" fill="#333" stroke="#333" stroke-width="0.113" >2</text>
<text x="492.30" y="298.80" font-size="5.6" fill="#333" stroke="#333" stroke-width="0.187" textLength="7.46" lengthAdjust="spacingAndGlyphs" >FC</text>
<text x="489.00" y="305.96" font-size="5.6" text-anchor="middle" fill="#333" stroke="#333" stroke-width="0.187" textLength="31.43" lengthAdjust="spacingAndGlyphs" >(gene score)</text>
<rect x="478.30" y="308.70" width="21.70" height="2.50" fill="url(#bwr)" stroke="#555" stroke-width="0.4" />
<text x="480.70" y="318.39" font-size="5.4" text-anchor="middle" fill="#333" stroke="#333" stroke-width="0.180" textLength="6.16" lengthAdjust="spacingAndGlyphs" >−2</text>
<text x="489.50" y="318.39" font-size="5.4" text-anchor="middle" fill="#333" stroke="#333" stroke-width="0.180" >0</text>
<text x="498.40" y="318.39" font-size="5.4" text-anchor="middle" fill="#333" stroke="#333" stroke-width="0.180" >2</text>
<text x="7.20" y="332.40" font-size="10" fill="#111" stroke="#111" stroke-width="0.35" font-weight="bold" >G</text>
<text x="48.75" y="341.76" font-size="7.9" fill="#333" stroke="#333" stroke-width="0.263" textLength="72.00" lengthAdjust="spacingAndGlyphs" >G0-Early G1 signaling</text>
<text x="60.60" y="427.37" font-size="7.9" fill="#333" stroke="#333" stroke-width="0.263" textLength="49.80" lengthAdjust="spacingAndGlyphs" >G1/S signaling</text>
<defs><linearGradient id="gsbg" x1="0" x2="1" y1="0" y2="0">
<stop offset="0" stop-color="#f6d8d8"/><stop offset="0.45" stop-color="#fbf4f4"/>
<stop offset="0.6" stop-color="#ffffff"/><stop offset="0.8" stop-color="#e4ecf6"/>
<stop offset="1" stop-color="#c8d8ec"/></linearGradient></defs>
<defs><linearGradient id="gsbar" x1="0" x2="1" y1="0" y2="0">
<stop offset="0" stop-color="#d43a30"/><stop offset="0.2" stop-color="#e0604c"/>
<stop offset="0.4" stop-color="#f0a898"/><stop offset="0.55" stop-color="#f8e4e0"/><stop offset="0.64" stop-color="#f8f8fa"/>
<stop offset="0.76" stop-color="#a8c8e8"/><stop offset="1" stop-color="#2a6aa8"/></linearGradient></defs>
<line x1="36.75" y1="346.00" x2="132.50" y2="346.00" stroke="#d04050" stroke-width="0.7" stroke-dasharray="1.6,1.6"/>
<line x1="36.75" y1="403.00" x2="132.50" y2="403.00" stroke="#d04050" stroke-width="0.7" stroke-dasharray="1.6,1.6"/>
<rect x="36.75" y="387.40" width="96.50" height="5.80" fill="url(#gsbg)" />
<rect x="37.20" y="387.40" width="0.82" height="5.80" fill="rgb(82,82,82)" opacity="0.95"/>
<rect x="39.16" y="387.40" width="0.58" height="5.80" fill="rgb(148,148,148)" opacity="0.95"/>
<rect x="40.55" y="387.40" width="0.41" height="5.80" fill="rgb(107,107,107)" opacity="0.95"/>
<rect x="42.48" y="387.40" width="0.68" height="5.80" fill="rgb(85,85,85)" opacity="0.95"/>
<rect x="44.43" y="387.40" width="0.57" height="5.80" fill="rgb(19,19,19)" opacity="0.95"/>
<rect x="45.23" y="387.40" width="0.79" height="5.80" fill="rgb(109,109,109)" opacity="0.95"/>
<rect x="47.05" y="387.40" width="0.66" height="5.80" fill="rgb(19,19,19)" opacity="0.95"/>
<rect x="48.34" y="387.40" width="0.69" height="5.80" fill="rgb(87,87,87)" opacity="0.95"/>
<rect x="50.07" y="387.40" width="0.67" height="5.80" fill="rgb(40,40,40)" opacity="0.95"/>
<rect x="52.25" y="387.40" width="0.34" height="5.80" fill="rgb(20,20,20)" opacity="0.95"/>
<rect x="53.21" y="387.40" width="0.66" height="5.80" fill="rgb(40,40,40)" opacity="0.95"/>
<rect x="55.36" y="387.40" width="0.56" height="5.80" fill="rgb(66,66,66)" opacity="0.95"/>
<rect x="57.70" y="387.40" width="0.44" height="5.80" fill="rgb(117,117,117)" opacity="0.95"/>
<rect x="58.94" y="387.40" width="0.70" height="5.80" fill="rgb(21,21,21)" opacity="0.95"/>
<rect x="60.55" y="387.40" width="0.54" height="5.80" fill="rgb(67,67,67)" opacity="0.95"/>
<rect x="62.39" y="387.40" width="0.35" height="5.80" fill="rgb(167,167,167)" opacity="0.95"/>
<rect x="63.61" y="387.40" width="0.44" height="5.80" fill="rgb(168,168,168)" opacity="0.95"/>
<rect x="64.94" y="387.40" width="0.64" height="5.80" fill="rgb(21,21,21)" opacity="0.95"/>
<rect x="65.86" y="387.40" width="0.81" height="5.80" fill="rgb(21,21,21)" opacity="0.95"/>
<rect x="67.45" y="387.40" width="0.81" height="5.80" fill="rgb(21,21,21)" opacity="0.95"/>
<rect x="68.15" y="387.40" width="0.86" height="5.80" fill="rgb(44,44,44)" opacity="0.95"/>
<rect x="68.98" y="387.40" width="0.89" height="5.80" fill="rgb(97,97,97)" opacity="0.95"/>
<rect x="70.66" y="387.40" width="0.64" height="5.80" fill="rgb(22,22,22)" opacity="0.95"/>
<rect x="71.88" y="387.40" width="0.46" height="5.80" fill="rgb(152,152,152)" opacity="0.95"/>
<rect x="72.85" y="387.40" width="0.31" height="5.80" fill="rgb(72,72,72)" opacity="0.95"/>
<rect x="74.65" y="387.40" width="0.38" height="5.80" fill="rgb(22,22,22)" opacity="0.95"/>
<rect x="77.28" y="387.40" width="0.34" height="5.80" fill="rgb(22,22,22)" opacity="0.95"/>
<rect x="80.26" y="387.40" width="0.71" height="5.80" fill="rgb(46,46,46)" opacity="0.95"/>
<rect x="81.64" y="387.40" width="0.41" height="5.80" fill="rgb(131,131,131)" opacity="0.95"/>
<rect x="84.64" y="387.40" width="0.55" height="5.80" fill="rgb(47,47,47)" opacity="0.95"/>
<rect x="86.72" y="387.40" width="0.55" height="5.80" fill="rgb(103,103,103)" opacity="0.95"/>
<rect x="88.24" y="387.40" width="0.82" height="5.80" fill="rgb(75,75,75)" opacity="0.95"/>
<rect x="91.96" y="387.40" width="0.48" height="5.80" fill="rgb(129,129,129)" opacity="0.95"/>
<rect x="95.22" y="387.40" width="0.41" height="5.80" fill="rgb(45,45,45)" opacity="0.95"/>
<rect x="98.61" y="387.40" width="0.69" height="5.80" fill="rgb(125,125,125)" opacity="0.95"/>
<rect x="99.60" y="387.40" width="0.43" height="5.80" fill="rgb(44,44,44)" opacity="0.95"/>
<rect x="100.97" y="387.40" width="0.67" height="5.80" fill="rgb(172,172,172)" opacity="0.95"/>
<rect x="103.70" y="387.40" width="0.34" height="5.80" fill="rgb(96,96,96)" opacity="0.95"/>
<rect x="104.60" y="387.40" width="0.68" height="5.80" fill="rgb(121,121,121)" opacity="0.95"/>
<rect x="105.32" y="387.40" width="0.52" height="5.80" fill="rgb(69,69,69)" opacity="0.95"/>
<rect x="107.04" y="387.40" width="0.59" height="5.80" fill="rgb(120,120,120)" opacity="0.95"/>
<rect x="108.99" y="387.40" width="0.53" height="5.80" fill="rgb(166,166,166)" opacity="0.95"/>
<rect x="111.01" y="387.40" width="0.85" height="5.80" fill="rgb(67,67,67)" opacity="0.95"/>
<rect x="113.39" y="387.40" width="0.74" height="5.80" fill="rgb(41,41,41)" opacity="0.95"/>
<rect x="114.33" y="387.40" width="0.86" height="5.80" fill="rgb(140,140,140)" opacity="0.95"/>
<rect x="115.34" y="387.40" width="0.83" height="5.80" fill="rgb(90,90,90)" opacity="0.95"/>
<rect x="117.17" y="387.40" width="0.33" height="5.80" fill="rgb(89,89,89)" opacity="0.95"/>
<rect x="117.98" y="387.40" width="0.88" height="5.80" fill="rgb(113,113,113)" opacity="0.95"/>
<rect x="119.03" y="387.40" width="0.53" height="5.80" fill="rgb(137,137,137)" opacity="0.95"/>
<rect x="120.43" y="387.40" width="0.59" height="5.80" fill="rgb(112,112,112)" opacity="0.95"/>
<rect x="122.00" y="387.40" width="0.89" height="5.80" fill="rgb(135,135,135)" opacity="0.95"/>
<rect x="122.80" y="387.40" width="0.64" height="5.80" fill="rgb(87,87,87)" opacity="0.95"/>
<rect x="124.95" y="387.40" width="0.34" height="5.80" fill="rgb(109,109,109)" opacity="0.95"/>
<rect x="125.88" y="387.40" width="0.75" height="5.80" fill="rgb(39,39,39)" opacity="0.95"/>
<rect x="126.54" y="387.40" width="0.57" height="5.80" fill="rgb(85,85,85)" opacity="0.95"/>
<rect x="127.19" y="387.40" width="0.47" height="5.80" fill="rgb(38,38,38)" opacity="0.95"/>
<rect x="128.67" y="387.40" width="0.36" height="5.80" fill="rgb(38,38,38)" opacity="0.95"/>
<rect x="129.44" y="387.40" width="0.89" height="5.80" fill="rgb(84,84,84)" opacity="0.95"/>
<rect x="131.11" y="387.40" width="0.61" height="5.80" fill="rgb(128,128,128)" opacity="0.95"/>
<rect x="133.26" y="387.40" width="0.32" height="5.80" fill="rgb(104,104,104)" opacity="0.95"/>
<line x1="36.75" y1="387.40" x2="133.30" y2="387.40" stroke="#444" stroke-width="0.5" />
<rect x="36.75" y="393.20" width="96.50" height="2.40" fill="url(#gsbar)" />
<path d="M36.75,378.00 L37.50,372.00 L38.62,370.28 L39.75,369.00 L40.69,368.22 L41.62,367.37 L42.56,366.66 L43.50,366.00 L44.50,365.61 L45.50,365.75 L46.50,365.25 L47.62,361.49 L48.75,358.50 L49.88,357.59 L51.00,356.25 L52.12,355.84 L53.25,357.00 L54.38,355.56 L55.50,354.75 L57.00,351.75 L58.12,352.61 L59.25,354.00 L60.75,348.75 L61.88,350.05 L63.00,352.50 L64.00,353.89 L65.00,354.20 L66.00,355.50 L67.12,355.09 L68.25,353.75 L69.10,355.48 L69.95,355.36 L70.80,356.75 L71.70,355.88 L72.60,354.24 L73.50,352.25 L74.40,353.27 L75.30,352.99 L76.20,354.43 L77.10,355.45 L78.00,356.00 L79.00,356.92 L80.00,358.06 L81.00,359.75 L81.90,360.80 L82.80,362.06 L83.70,364.26 L84.60,364.91 L85.50,366.50 L86.50,367.88 L87.50,369.73 L88.50,371.00 L89.50,372.72 L90.50,372.67 L91.50,374.00 L92.40,374.47 L93.30,377.16 L94.20,378.13 L95.10,379.26 L96.00,380.00 L96.90,381.24 L97.80,381.98 L98.70,383.05 L99.60,384.49 L100.50,386.00 L101.50,386.69 L102.50,386.81 L103.50,388.25 L104.62,387.44 L105.75,386.00 L106.88,387.49 L108.00,388.25 L109.00,385.97 L110.00,385.80 L111.00,383.75 L112.00,383.24 L113.00,383.42 L114.00,382.25 L115.12,383.34 L116.25,384.50 L117.19,385.54 L118.12,385.55 L119.06,386.37 L120.00,386.75 L120.94,388.06 L121.88,388.61 L122.81,390.12 L123.75,392.00 L124.88,388.57 L126.00,386.00 L127.12,383.60 L128.25,381.50 L129.38,376.42 L130.50,371.75 L131.50,373.56 L132.50,375.50 L133.50,377.00" fill="none" stroke="#c42838" stroke-width="1.15" />
<circle cx="36.75" cy="378.00" r="0.50" fill="#c42838" />
<circle cx="39.75" cy="369.00" r="0.50" fill="#c42838" />
<circle cx="42.56" cy="366.66" r="0.50" fill="#c42838" />
<circle cx="45.50" cy="365.75" r="0.50" fill="#c42838" />
<circle cx="48.75" cy="358.50" r="0.50" fill="#c42838" />
<circle cx="52.12" cy="355.84" r="0.50" fill="#c42838" />
<circle cx="55.50" cy="354.75" r="0.50" fill="#c42838" />
<circle cx="59.25" cy="354.00" r="0.50" fill="#c42838" />
<circle cx="63.00" cy="352.50" r="0.50" fill="#c42838" />
<circle cx="66.00" cy="355.50" r="0.50" fill="#c42838" />
<circle cx="69.10" cy="355.48" r="0.50" fill="#c42838" />
<circle cx="71.70" cy="355.88" r="0.50" fill="#c42838" />
<circle cx="74.40" cy="353.27" r="0.50" fill="#c42838" />
<circle cx="77.10" cy="355.45" r="0.50" fill="#c42838" />
<circle cx="80.00" cy="358.06" r="0.50" fill="#c42838" />
<circle cx="82.80" cy="362.06" r="0.50" fill="#c42838" />
<circle cx="85.50" cy="366.50" r="0.50" fill="#c42838" />
<circle cx="88.50" cy="371.00" r="0.50" fill="#c42838" />
<circle cx="91.50" cy="374.00" r="0.50" fill="#c42838" />
<circle cx="94.20" cy="378.13" r="0.50" fill="#c42838" />
<circle cx="96.90" cy="381.24" r="0.50" fill="#c42838" />
<circle cx="99.60" cy="384.49" r="0.50" fill="#c42838" />
<circle cx="102.50" cy="386.81" r="0.50" fill="#c42838" />
<circle cx="105.75" cy="386.00" r="0.50" fill="#c42838" />
<circle cx="109.00" cy="385.97" r="0.50" fill="#c42838" />
<circle cx="112.00" cy="383.24" r="0.50" fill="#c42838" />
<circle cx="115.12" cy="383.34" r="0.50" fill="#c42838" />
<circle cx="118.12" cy="385.55" r="0.50" fill="#c42838" />
<circle cx="120.94" cy="388.06" r="0.50" fill="#c42838" />
<circle cx="123.75" cy="392.00" r="0.50" fill="#c42838" />
<circle cx="127.12" cy="383.60" r="0.50" fill="#c42838" />
<circle cx="130.50" cy="371.75" r="0.50" fill="#c42838" />
<circle cx="133.50" cy="377.00" r="0.50" fill="#c42838" />
<line x1="36.30" y1="346.50" x2="36.30" y2="402.30" stroke="#111" stroke-width="1.1" />
<line x1="33.50" y1="361.50" x2="36.30" y2="361.50" stroke="#111" stroke-width="0.8" />
<text x="30.90" y="363.40" font-size="5.4" text-anchor="end" fill="#333" stroke="#333" stroke-width="0.180" textLength="7.51" lengthAdjust="spacingAndGlyphs" >0.1</text>
<line x1="33.50" y1="378.75" x2="36.30" y2="378.75" stroke="#111" stroke-width="0.8" />
<text x="30.90" y="380.65" font-size="5.4" text-anchor="end" fill="#333" stroke="#333" stroke-width="0.180" >0</text>
<text x="39.30" y="401.00" font-size="5.4" fill="#333" stroke="#333" stroke-width="0.180" textLength="33.40" lengthAdjust="spacingAndGlyphs" >Drug-resistant</text>
<text x="132.00" y="401.30" font-size="5.4" text-anchor="end" fill="#333" stroke="#333" stroke-width="0.180" textLength="32.20" lengthAdjust="spacingAndGlyphs" >Drug-sensitive</text>
<line x1="63.00" y1="403.80" x2="63.00" y2="405.80" stroke="#111" stroke-width="0.8" />
<text x="63.00" y="412.69" font-size="5.4" text-anchor="middle" fill="#333" stroke="#333" stroke-width="0.180" textLength="15.17" lengthAdjust="spacingAndGlyphs" >1e+05</text>
<line x1="90.50" y1="403.80" x2="90.50" y2="405.80" stroke="#111" stroke-width="0.8" />
<text x="90.50" y="412.69" font-size="5.4" text-anchor="middle" fill="#333" stroke="#333" stroke-width="0.180" textLength="15.17" lengthAdjust="spacingAndGlyphs" >2e+05</text>
<line x1="117.50" y1="403.80" x2="117.50" y2="405.80" stroke="#111" stroke-width="0.8" />
<text x="117.50" y="412.69" font-size="5.4" text-anchor="middle" fill="#333" stroke="#333" stroke-width="0.180" textLength="15.17" lengthAdjust="spacingAndGlyphs" >3e+05</text>
<text x="94.70" y="354.10" font-size="5.4" fill="#333" stroke="#333" stroke-width="0.180" font-style="italic" >P</text>
<text x="100.00" y="354.10" font-size="5.4" fill="#333" stroke="#333" stroke-width="0.180" textLength="31.30" lengthAdjust="spacingAndGlyphs" >value = .0043</text>
<text x="94.70" y="360.30" font-size="5.4" fill="#333" stroke="#333" stroke-width="0.180" textLength="27.00" lengthAdjust="spacingAndGlyphs" >NES = 3.08</text>
<text x="18.80" y="374.50" font-size="7.2" text-anchor="middle" fill="#333" stroke="#333" stroke-width="0.240" textLength="47.00" lengthAdjust="spacingAndGlyphs" transform="rotate(-90 18.80 374.50)" >Enrichment score</text>
<line x1="36.75" y1="431.20" x2="132.50" y2="431.20" stroke="#d04050" stroke-width="0.7" stroke-dasharray="1.6,1.6"/>
<line x1="36.75" y1="488.30" x2="132.50" y2="488.30" stroke="#d04050" stroke-width="0.7" stroke-dasharray="1.6,1.6"/>
<rect x="36.75" y="472.20" width="96.50" height="6.60" fill="url(#gsbg)" />
<rect x="37.20" y="472.20" width="0.87" height="6.60" fill="rgb(182,182,182)" opacity="0.71"/>
<rect x="39.22" y="472.20" width="0.31" height="6.60" fill="rgb(54,54,54)" opacity="0.71"/>
<rect x="40.26" y="472.20" width="0.62" height="6.60" fill="rgb(120,120,120)" opacity="0.71"/>
<rect x="41.01" y="472.20" width="0.46" height="6.60" fill="rgb(74,74,74)" opacity="0.71"/>
<rect x="41.55" y="472.20" width="0.57" height="6.60" fill="rgb(143,143,143)" opacity="0.71"/>
<rect x="42.12" y="472.20" width="0.89" height="6.60" fill="rgb(55,55,55)" opacity="0.71"/>
<rect x="43.53" y="472.20" width="0.61" height="6.60" fill="rgb(55,55,55)" opacity="0.71"/>
<rect x="45.40" y="472.20" width="0.76" height="6.60" fill="rgb(98,98,98)" opacity="0.71"/>
<rect x="46.32" y="472.20" width="0.65" height="6.60" fill="rgb(55,55,55)" opacity="0.71"/>
<rect x="48.09" y="472.20" width="0.43" height="6.60" fill="rgb(147,147,147)" opacity="0.71"/>
<rect x="50.04" y="472.20" width="0.76" height="6.60" fill="rgb(148,148,148)" opacity="0.71"/>
<rect x="51.33" y="472.20" width="0.47" height="6.60" fill="rgb(149,149,149)" opacity="0.71"/>
<rect x="53.82" y="472.20" width="0.35" height="6.60" fill="rgb(150,150,150)" opacity="0.71"/>
<rect x="55.37" y="472.20" width="0.59" height="6.60" fill="rgb(176,176,176)" opacity="0.71"/>
<rect x="57.60" y="472.20" width="0.69" height="6.60" fill="rgb(178,178,178)" opacity="0.71"/>
<rect x="58.60" y="472.20" width="0.62" height="6.60" fill="rgb(78,78,78)" opacity="0.71"/>
<rect x="60.67" y="472.20" width="0.42" height="6.60" fill="rgb(154,154,154)" opacity="0.71"/>
<rect x="61.56" y="472.20" width="0.56" height="6.60" fill="rgb(57,57,57)" opacity="0.71"/>
<rect x="63.46" y="472.20" width="0.47" height="6.60" fill="rgb(156,156,156)" opacity="0.71"/>
<rect x="65.46" y="472.20" width="0.52" height="6.60" fill="rgb(57,57,57)" opacity="0.71"/>
<rect x="66.81" y="472.20" width="0.84" height="6.60" fill="rgb(106,106,106)" opacity="0.71"/>
<rect x="68.58" y="472.20" width="0.46" height="6.60" fill="rgb(80,80,80)" opacity="0.71"/>
<rect x="69.55" y="472.20" width="0.37" height="6.60" fill="rgb(209,209,209)" opacity="0.71"/>
<rect x="72.21" y="472.20" width="0.44" height="6.60" fill="rgb(134,134,134)" opacity="0.71"/>
<rect x="74.34" y="472.20" width="0.66" height="6.60" fill="rgb(190,190,190)" opacity="0.71"/>
<rect x="77.59" y="472.20" width="0.57" height="6.60" fill="rgb(82,82,82)" opacity="0.71"/>
<rect x="78.48" y="472.20" width="0.55" height="6.60" fill="rgb(193,193,193)" opacity="0.71"/>
<rect x="79.37" y="472.20" width="0.44" height="6.60" fill="rgb(215,215,215)" opacity="0.71"/>
<rect x="80.23" y="472.20" width="0.78" height="6.60" fill="rgb(82,82,82)" opacity="0.71"/>
<rect x="83.79" y="472.20" width="0.87" height="6.60" fill="rgb(168,168,168)" opacity="0.71"/>
<rect x="86.03" y="472.20" width="0.51" height="6.60" fill="rgb(59,59,59)" opacity="0.71"/>
<rect x="89.88" y="472.20" width="0.59" height="6.60" fill="rgb(138,138,138)" opacity="0.71"/>
<rect x="90.82" y="472.20" width="0.58" height="6.60" fill="rgb(110,110,110)" opacity="0.71"/>
<rect x="92.20" y="472.20" width="0.87" height="6.60" fill="rgb(137,137,137)" opacity="0.71"/>
<rect x="93.61" y="472.20" width="0.63" height="6.60" fill="rgb(58,58,58)" opacity="0.71"/>
<rect x="96.15" y="472.20" width="0.63" height="6.60" fill="rgb(189,189,189)" opacity="0.71"/>
<rect x="99.03" y="472.20" width="0.36" height="6.60" fill="rgb(107,107,107)" opacity="0.71"/>
<rect x="100.17" y="472.20" width="0.57" height="6.60" fill="rgb(58,58,58)" opacity="0.71"/>
<rect x="101.74" y="472.20" width="0.79" height="6.60" fill="rgb(133,133,133)" opacity="0.71"/>
<rect x="104.60" y="472.20" width="0.79" height="6.60" fill="rgb(183,183,183)" opacity="0.71"/>
<rect x="105.44" y="472.20" width="0.84" height="6.60" fill="rgb(204,204,204)" opacity="0.71"/>
<rect x="107.82" y="472.20" width="0.48" height="6.60" fill="rgb(155,155,155)" opacity="0.71"/>
<rect x="109.39" y="472.20" width="0.82" height="6.60" fill="rgb(201,201,201)" opacity="0.71"/>
<rect x="111.36" y="472.20" width="0.80" height="6.60" fill="rgb(57,57,57)" opacity="0.71"/>
<rect x="112.22" y="472.20" width="0.38" height="6.60" fill="rgb(178,178,178)" opacity="0.71"/>
<rect x="114.88" y="472.20" width="0.80" height="6.60" fill="rgb(176,176,176)" opacity="0.71"/>
<rect x="115.99" y="472.20" width="0.35" height="6.60" fill="rgb(175,175,175)" opacity="0.71"/>
<rect x="117.72" y="472.20" width="0.37" height="6.60" fill="rgb(150,150,150)" opacity="0.71"/>
<rect x="120.06" y="472.20" width="0.78" height="6.60" fill="rgb(124,124,124)" opacity="0.71"/>
<rect x="122.55" y="472.20" width="0.30" height="6.60" fill="rgb(99,99,99)" opacity="0.71"/>
<rect x="123.81" y="472.20" width="0.87" height="6.60" fill="rgb(189,189,189)" opacity="0.71"/>
<rect x="125.75" y="472.20" width="0.42" height="6.60" fill="rgb(121,121,121)" opacity="0.71"/>
<rect x="127.53" y="472.20" width="0.69" height="6.60" fill="rgb(74,74,74)" opacity="0.71"/>
<rect x="129.39" y="472.20" width="0.55" height="6.60" fill="rgb(55,55,55)" opacity="0.71"/>
<rect x="130.40" y="472.20" width="0.71" height="6.60" fill="rgb(142,142,142)" opacity="0.71"/>
<rect x="131.85" y="472.20" width="0.41" height="6.60" fill="rgb(141,141,141)" opacity="0.71"/>
<rect x="133.27" y="472.20" width="0.84" height="6.60" fill="rgb(95,95,95)" opacity="0.71"/>
<line x1="36.75" y1="472.20" x2="133.30" y2="472.20" stroke="#444" stroke-width="0.5" />
<rect x="36.75" y="478.80" width="96.50" height="2.20" fill="url(#gsbar)" />
<path d="M36.75,478.00 L37.70,473.80 L38.60,468.71 L39.50,464.28 L40.40,460.40 L41.40,458.36 L42.40,456.00 L43.40,452.98 L44.40,451.00 L45.27,449.08 L46.13,448.28 L47.00,447.00 L47.93,445.50 L48.87,443.81 L49.80,442.90 L50.65,442.03 L51.50,441.50 L52.65,440.05 L53.80,437.50 L55.00,439.00 L56.50,433.50 L57.40,434.24 L58.30,435.67 L59.20,437.50 L60.13,437.91 L61.07,439.42 L62.00,441.00 L62.87,440.99 L63.73,443.04 L64.60,442.90 L65.57,442.30 L66.53,443.08 L67.50,442.00 L68.33,441.71 L69.17,443.25 L70.00,442.90 L70.90,444.28 L71.80,445.94 L72.70,447.00 L73.60,446.33 L74.50,444.77 L75.40,444.20 L76.27,443.87 L77.13,444.69 L78.00,444.50 L78.93,444.28 L79.87,444.45 L80.80,445.60 L81.70,446.83 L82.60,447.41 L83.50,448.00 L84.40,448.62 L85.30,450.03 L86.20,451.00 L87.13,452.99 L88.07,453.31 L89.00,455.00 L89.83,455.30 L90.67,456.67 L91.50,457.70 L92.33,457.93 L93.17,459.02 L94.00,460.00 L94.97,460.25 L95.93,462.42 L96.90,463.00 L97.93,464.82 L98.97,465.46 L100.00,467.00 L101.15,468.20 L102.30,469.80 L103.40,467.01 L104.50,465.00 L105.45,464.08 L106.40,461.70 L107.45,464.45 L108.50,466.00 L109.45,468.16 L110.40,469.80 L111.27,469.51 L112.13,469.74 L113.00,470.50 L113.93,471.16 L114.87,470.47 L115.80,471.20 L116.90,472.65 L118.00,473.50 L118.90,474.22 L119.80,475.20 L120.90,473.85 L122.00,474.00 L122.95,472.77 L123.90,472.50 L124.95,471.66 L126.00,469.50 L126.95,468.72 L127.90,468.50 L128.95,469.78 L130.00,470.50 L131.00,470.57 L132.00,469.80" fill="none" stroke="#c42838" stroke-width="1.15" />
<circle cx="36.75" cy="478.00" r="0.50" fill="#c42838" />
<circle cx="39.50" cy="464.28" r="0.50" fill="#c42838" />
<circle cx="42.40" cy="456.00" r="0.50" fill="#c42838" />
<circle cx="45.27" cy="449.08" r="0.50" fill="#c42838" />
<circle cx="47.93" cy="445.50" r="0.50" fill="#c42838" />
<circle cx="50.65" cy="442.03" r="0.50" fill="#c42838" />
<circle cx="53.80" cy="437.50" r="0.50" fill="#c42838" />
<circle cx="57.40" cy="434.24" r="0.50" fill="#c42838" />
<circle cx="60.13" cy="437.91" r="0.50" fill="#c42838" />
<circle cx="62.87" cy="440.99" r="0.50" fill="#c42838" />
<circle cx="65.57" cy="442.30" r="0.50" fill="#c42838" />
<circle cx="68.33" cy="441.71" r="0.50" fill="#c42838" />
<circle cx="70.90" cy="444.28" r="0.50" fill="#c42838" />
<circle cx="73.60" cy="446.33" r="0.50" fill="#c42838" />
<circle cx="76.27" cy="443.87" r="0.50" fill="#c42838" />
<circle cx="78.93" cy="444.28" r="0.50" fill="#c42838" />
<circle cx="81.70" cy="446.83" r="0.50" fill="#c42838" />
<circle cx="84.40" cy="448.62" r="0.50" fill="#c42838" />
<circle cx="87.13" cy="452.99" r="0.50" fill="#c42838" />
<circle cx="89.83" cy="455.30" r="0.50" fill="#c42838" />
<circle cx="92.33" cy="457.93" r="0.50" fill="#c42838" />
<circle cx="94.97" cy="460.25" r="0.50" fill="#c42838" />
<circle cx="97.93" cy="464.82" r="0.50" fill="#c42838" />
<circle cx="101.15" cy="468.20" r="0.50" fill="#c42838" />
<circle cx="104.50" cy="465.00" r="0.50" fill="#c42838" />
<circle cx="107.45" cy="464.45" r="0.50" fill="#c42838" />
<circle cx="110.40" cy="469.80" r="0.50" fill="#c42838" />
<circle cx="113.00" cy="470.50" r="0.50" fill="#c42838" />
<circle cx="115.80" cy="471.20" r="0.50" fill="#c42838" />
<circle cx="118.90" cy="474.22" r="0.50" fill="#c42838" />
<circle cx="122.00" cy="474.00" r="0.50" fill="#c42838" />
<circle cx="124.95" cy="471.66" r="0.50" fill="#c42838" />
<circle cx="127.90" cy="468.50" r="0.50" fill="#c42838" />
<circle cx="131.00" cy="470.57" r="0.50" fill="#c42838" />
<line x1="36.30" y1="429.30" x2="36.30" y2="487.60" stroke="#111" stroke-width="1.1" />
<line x1="33.20" y1="439.20" x2="36.30" y2="439.20" stroke="#111" stroke-width="0.8" />
<text x="31.20" y="441.10" font-size="5.4" text-anchor="end" fill="#333" stroke="#333" stroke-width="0.180" textLength="10.51" lengthAdjust="spacingAndGlyphs" >0.20</text>
<line x1="33.20" y1="447.50" x2="36.30" y2="447.50" stroke="#111" stroke-width="0.8" />
<text x="31.20" y="449.40" font-size="5.4" text-anchor="end" fill="#333" stroke="#333" stroke-width="0.180" textLength="10.51" lengthAdjust="spacingAndGlyphs" >0.15</text>
<line x1="33.20" y1="456.00" x2="36.30" y2="456.00" stroke="#111" stroke-width="0.8" />
<text x="31.20" y="457.90" font-size="5.4" text-anchor="end" fill="#333" stroke="#333" stroke-width="0.180" textLength="10.51" lengthAdjust="spacingAndGlyphs" >0.10</text>
<line x1="33.20" y1="464.25" x2="36.30" y2="464.25" stroke="#111" stroke-width="0.8" />
<text x="31.20" y="466.15" font-size="5.4" text-anchor="end" fill="#333" stroke="#333" stroke-width="0.180" textLength="10.51" lengthAdjust="spacingAndGlyphs" >0.05</text>
<line x1="33.20" y1="472.50" x2="36.30" y2="472.50" stroke="#111" stroke-width="0.8" />
<text x="31.20" y="474.40" font-size="5.4" text-anchor="end" fill="#333" stroke="#333" stroke-width="0.180" >0</text>
<line x1="33.20" y1="480.75" x2="36.30" y2="480.75" stroke="#111" stroke-width="0.8" />
<text x="31.20" y="482.65" font-size="5.4" text-anchor="end" fill="#333" stroke="#333" stroke-width="0.180" textLength="13.66" lengthAdjust="spacingAndGlyphs" >−0.05</text>
<text x="39.30" y="486.00" font-size="5.4" fill="#333" stroke="#333" stroke-width="0.180" textLength="33.30" lengthAdjust="spacingAndGlyphs" >Drug-resistant</text>
<text x="137.00" y="486.00" font-size="5.4" text-anchor="end" fill="#333" stroke="#333" stroke-width="0.180" textLength="34.30" lengthAdjust="spacingAndGlyphs" >Drug-sensitive</text>
<line x1="63.20" y1="489.00" x2="63.20" y2="491.00" stroke="#111" stroke-width="0.8" />
<text x="63.20" y="498.49" font-size="5.4" text-anchor="middle" fill="#333" stroke="#333" stroke-width="0.180" textLength="15.17" lengthAdjust="spacingAndGlyphs" >1e+05</text>
<line x1="90.60" y1="489.00" x2="90.60" y2="491.00" stroke="#111" stroke-width="0.8" />
<text x="90.60" y="498.49" font-size="5.4" text-anchor="middle" fill="#333" stroke="#333" stroke-width="0.180" textLength="15.17" lengthAdjust="spacingAndGlyphs" >2e+05</text>
<line x1="117.60" y1="489.00" x2="117.60" y2="491.00" stroke="#111" stroke-width="0.8" />
<text x="117.60" y="498.49" font-size="5.4" text-anchor="middle" fill="#333" stroke="#333" stroke-width="0.180" textLength="15.17" lengthAdjust="spacingAndGlyphs" >3e+05</text>
<text x="71.50" y="507.50" font-size="7.56" fill="#333" stroke="#333" stroke-width="0.252" textLength="27.00" lengthAdjust="spacingAndGlyphs" >Gene rank</text>
<text x="92.80" y="440.10" font-size="5.4" fill="#333" stroke="#333" stroke-width="0.180" font-style="italic" >P</text>
<text x="98.10" y="440.10" font-size="5.4" fill="#333" stroke="#333" stroke-width="0.180" textLength="31.70" lengthAdjust="spacingAndGlyphs" >value = .0044</text>
<text x="92.80" y="446.10" font-size="5.4" fill="#333" stroke="#333" stroke-width="0.180" textLength="26.90" lengthAdjust="spacingAndGlyphs" >NES = 2.74</text>
<text x="13.80" y="455.20" font-size="7.2" text-anchor="middle" fill="#333" stroke="#333" stroke-width="0.240" textLength="50.00" lengthAdjust="spacingAndGlyphs" transform="rotate(-90 13.80 455.20)" >Enrichment score</text>
<text x="149.50" y="345.20" font-size="10" fill="#111" stroke="#111" stroke-width="0.35" font-weight="bold" >H</text>
<text x="204.25" y="354.56" font-size="7.9" fill="#333" stroke="#333" stroke-width="0.263" textLength="133.25" lengthAdjust="spacingAndGlyphs" >Motif enrichment in drug-resistant clone</text>
<rect x="172.00" y="358.50" width="6.00" height="10.71" fill="#7479c2" stroke="#ffffff" stroke-width="0.35" stroke-opacity="0.45"/>
<rect x="178.00" y="358.50" width="6.00" height="10.71" fill="#7479c2" stroke="#ffffff" stroke-width="0.35" stroke-opacity="0.45"/>
<rect x="184.00" y="358.50" width="6.00" height="10.71" fill="#7479c2" stroke="#ffffff" stroke-width="0.35" stroke-opacity="0.45"/>
<rect x="190.00" y="358.50" width="6.00" height="10.71" fill="#7479c2" stroke="#ffffff" stroke-width="0.35" stroke-opacity="0.45"/>
<rect x="196.00" y="358.50" width="6.00" height="10.71" fill="#7479c2" stroke="#ffffff" stroke-width="0.35" stroke-opacity="0.45"/>
<rect x="202.00" y="358.50" width="6.00" height="10.71" fill="#7479c2" stroke="#ffffff" stroke-width="0.35" stroke-opacity="0.45"/>
<rect x="208.00" y="358.50" width="6.00" height="10.71" fill="#7479c2" stroke="#ffffff" stroke-width="0.35" stroke-opacity="0.45"/>
<rect x="214.00" y="358.50" width="6.00" height="10.71" fill="#8088c8" stroke="#ffffff" stroke-width="0.35" stroke-opacity="0.45"/>
<rect x="220.00" y="358.50" width="6.00" height="10.71" fill="#8088c8" stroke="#ffffff" stroke-width="0.35" stroke-opacity="0.45"/>
<rect x="226.00" y="358.50" width="6.00" height="10.71" fill="#8088c8" stroke="#ffffff" stroke-width="0.35" stroke-opacity="0.45"/>
<rect x="232.00" y="358.50" width="6.00" height="10.71" fill="#8088c8" stroke="#ffffff" stroke-width="0.35" stroke-opacity="0.45"/>
<rect x="238.00" y="358.50" width="6.00" height="10.71" fill="#a8acd8" stroke="#ffffff" stroke-width="0.35" stroke-opacity="0.45"/>
<rect x="244.00" y="358.50" width="6.00" height="10.71" fill="#b0b4dc" stroke="#ffffff" stroke-width="0.35" stroke-opacity="0.45"/>
<rect x="250.00" y="358.50" width="6.00" height="10.71" fill="#b0b4dc" stroke="#ffffff" stroke-width="0.35" stroke-opacity="0.45"/>
<rect x="256.00" y="358.50" width="6.00" height="10.71" fill="#b0b4dc" stroke="#ffffff" stroke-width="0.35" stroke-opacity="0.45"/>
<rect x="262.00" y="358.50" width="6.00" height="10.71" fill="#b0b4dc" stroke="#ffffff" stroke-width="0.35" stroke-opacity="0.45"/>
<rect x="268.00" y="358.50" width="6.00" height="10.71" fill="#b0b4dc" stroke="#ffffff" stroke-width="0.35" stroke-opacity="0.45"/>
<rect x="274.00" y="358.50" width="6.00" height="10.71" fill="#b8bce0" stroke="#ffffff" stroke-width="0.35" stroke-opacity="0.45"/>
<rect x="280.00" y="358.50" width="6.00" height="10.71" fill="#f0a0a4" stroke="#ffffff" stroke-width="0.35" stroke-opacity="0.45"/>
<rect x="286.00" y="358.50" width="6.00" height="10.71" fill="#f0a0a4" stroke="#ffffff" stroke-width="0.35" stroke-opacity="0.45"/>
<rect x="292.00" y="358.50" width="6.00" height="10.71" fill="#ee9096" stroke="#ffffff" stroke-width="0.35" stroke-opacity="0.45"/>
<rect x="298.00" y="358.50" width="6.00" height="10.71" fill="#ee9096" stroke="#ffffff" stroke-width="0.35" stroke-opacity="0.45"/>
<rect x="304.00" y="358.50" width="6.00" height="10.71" fill="#f6c0c4" stroke="#ffffff" stroke-width="0.35" stroke-opacity="0.45"/>
<rect x="310.00" y="358.50" width="6.00" height="10.71" fill="#e8606a" stroke="#ffffff" stroke-width="0.35" stroke-opacity="0.45"/>
<rect x="316.00" y="358.50" width="6.00" height="10.71" fill="#e8606a" stroke="#ffffff" stroke-width="0.35" stroke-opacity="0.45"/>
<rect x="322.00" y="358.50" width="6.00" height="10.71" fill="#e8606a" stroke="#ffffff" stroke-width="0.35" stroke-opacity="0.45"/>
<rect x="328.00" y="358.50" width="6.00" height="10.71" fill="#e8606a" stroke="#ffffff" stroke-width="0.35" stroke-opacity="0.45"/>
<rect x="334.00" y="358.50" width="6.00" height="10.71" fill="#f09098" stroke="#ffffff" stroke-width="0.35" stroke-opacity="0.45"/>
<rect x="340.00" y="358.50" width="6.00" height="10.71" fill="#f09098" stroke="#ffffff" stroke-width="0.35" stroke-opacity="0.45"/>
<rect x="346.00" y="358.50" width="6.00" height="10.71" fill="#f09098" stroke="#ffffff" stroke-width="0.35" stroke-opacity="0.45"/>
<rect x="352.00" y="358.50" width="6.00" height="10.71" fill="#e8707a" stroke="#ffffff" stroke-width="0.35" stroke-opacity="0.45"/>
<rect x="358.00" y="358.50" width="6.00" height="10.71" fill="#f09098" stroke="#ffffff" stroke-width="0.35" stroke-opacity="0.45"/>
<rect x="364.00" y="358.50" width="6.00" height="10.71" fill="#f09098" stroke="#ffffff" stroke-width="0.35" stroke-opacity="0.45"/>
<rect x="172.00" y="369.21" width="6.00" height="10.71" fill="#3f4fae" stroke="#ffffff" stroke-width="0.35" stroke-opacity="0.45"/>
<rect x="178.00" y="369.21" width="6.00" height="10.71" fill="#3f4fae" stroke="#ffffff" stroke-width="0.35" stroke-opacity="0.45"/>
<rect x="184.00" y="369.21" width="6.00" height="10.71" fill="#3f4fae" stroke="#ffffff" stroke-width="0.35" stroke-opacity="0.45"/>
<rect x="190.00" y="369.21" width="6.00" height="10.71" fill="#3f4fae" stroke="#ffffff" stroke-width="0.35" stroke-opacity="0.45"/>
<rect x="196.00" y="369.21" width="6.00" height="10.71" fill="#3f4fae" stroke="#ffffff" stroke-width="0.35" stroke-opacity="0.45"/>
<rect x="202.00" y="369.21" width="6.00" height="10.71" fill="#3f4fae" stroke="#ffffff" stroke-width="0.35" stroke-opacity="0.45"/>
<rect x="208.00" y="369.21" width="6.00" height="10.71" fill="#4a56b0" stroke="#ffffff" stroke-width="0.35" stroke-opacity="0.45"/>
<rect x="214.00" y="369.21" width="6.00" height="10.71" fill="#7f86c6" stroke="#ffffff" stroke-width="0.35" stroke-opacity="0.45"/>
<rect x="220.00" y="369.21" width="6.00" height="10.71" fill="#9ca0d4" stroke="#ffffff" stroke-width="0.35" stroke-opacity="0.45"/>
<rect x="226.00" y="369.21" width="6.00" height="10.71" fill="#5a64b6" stroke="#ffffff" stroke-width="0.35" stroke-opacity="0.45"/>
<rect x="232.00" y="369.21" width="6.00" height="10.71" fill="#6a72bc" stroke="#ffffff" stroke-width="0.35" stroke-opacity="0.45"/>
<rect x="238.00" y="369.21" width="6.00" height="10.71" fill="#fbeef0" stroke="#ffffff" stroke-width="0.35" stroke-opacity="0.45"/>
<rect x="244.00" y="369.21" width="6.00" height="10.71" fill="#fbeef0" stroke="#ffffff" stroke-width="0.35" stroke-opacity="0.45"/>
<rect x="250.00" y="369.21" width="6.00" height="10.71" fill="#fbeef0" stroke="#ffffff" stroke-width="0.35" stroke-opacity="0.45"/>
<rect x="256.00" y="369.21" width="6.00" height="10.71" fill="#fbeef0" stroke="#ffffff" stroke-width="0.35" stroke-opacity="0.45"/>
<rect x="262.00" y="369.21" width="6.00" height="10.71" fill="#fbeef0" stroke="#ffffff" stroke-width="0.35" stroke-opacity="0.45"/>
<rect x="268.00" y="369.21" width="6.00" height="10.71" fill="#fbeef0" stroke="#ffffff" stroke-width="0.35" stroke-opacity="0.45"/>
<rect x="274.00" y="369.21" width="6.00" height="10.71" fill="#fbeef0" stroke="#ffffff" stroke-width="0.35" stroke-opacity="0.45"/>
<rect x="280.00" y="369.21" width="6.00" height="10.71" fill="#f2a8ac" stroke="#ffffff" stroke-width="0.35" stroke-opacity="0.45"/>
<rect x="286.00" y="369.21" width="6.00" height="10.71" fill="#f2a8ac" stroke="#ffffff" stroke-width="0.35" stroke-opacity="0.45"/>
<rect x="292.00" y="369.21" width="6.00" height="10.71" fill="#f09ca0" stroke="#ffffff" stroke-width="0.35" stroke-opacity="0.45"/>
<rect x="298.00" y="369.21" width="6.00" height="10.71" fill="#f2a8ac" stroke="#ffffff" stroke-width="0.35" stroke-opacity="0.45"/>
<rect x="304.00" y="369.21" width="6.00" height="10.71" fill="#f4a8ac" stroke="#ffffff" stroke-width="0.35" stroke-opacity="0.45"/>
<rect x="310.00" y="369.21" width="6.00" height="10.71" fill="#f08890" stroke="#ffffff" stroke-width="0.35" stroke-opacity="0.45"/>
<rect x="316.00" y="369.21" width="6.00" height="10.71" fill="#f08890" stroke="#ffffff" stroke-width="0.35" stroke-opacity="0.45"/>
<rect x="322.00" y="369.21" width="6.00" height="10.71" fill="#f08890" stroke="#ffffff" stroke-width="0.35" stroke-opacity="0.45"/>
<rect x="328.00" y="369.21" width="6.00" height="10.71" fill="#f08890" stroke="#ffffff" stroke-width="0.35" stroke-opacity="0.45"/>
<rect x="334.00" y="369.21" width="6.00" height="10.71" fill="#f2a0a4" stroke="#ffffff" stroke-width="0.35" stroke-opacity="0.45"/>
<rect x="340.00" y="369.21" width="6.00" height="10.71" fill="#f2a0a4" stroke="#ffffff" stroke-width="0.35" stroke-opacity="0.45"/>
<rect x="346.00" y="369.21" width="6.00" height="10.71" fill="#f2a0a4" stroke="#ffffff" stroke-width="0.35" stroke-opacity="0.45"/>
<rect x="352.00" y="369.21" width="6.00" height="10.71" fill="#ec8088" stroke="#ffffff" stroke-width="0.35" stroke-opacity="0.45"/>
<rect x="358.00" y="369.21" width="6.00" height="10.71" fill="#f2a0a4" stroke="#ffffff" stroke-width="0.35" stroke-opacity="0.45"/>
<rect x="364.00" y="369.21" width="6.00" height="10.71" fill="#f2a0a4" stroke="#ffffff" stroke-width="0.35" stroke-opacity="0.45"/>
<rect x="172.00" y="379.93" width="6.00" height="10.71" fill="#3548a8" stroke="#ffffff" stroke-width="0.35" stroke-opacity="0.45"/>
<rect x="178.00" y="379.93" width="6.00" height="10.71" fill="#3548a8" stroke="#ffffff" stroke-width="0.35" stroke-opacity="0.45"/>
<rect x="184.00" y="379.93" width="6.00" height="10.71" fill="#5663b4" stroke="#ffffff" stroke-width="0.35" stroke-opacity="0.45"/>
<rect x="190.00" y="379.93" width="6.00" height="10.71" fill="#3c4cab" stroke="#ffffff" stroke-width="0.35" stroke-opacity="0.45"/>
<rect x="196.00" y="379.93" width="6.00" height="10.71" fill="#3c4cab" stroke="#ffffff" stroke-width="0.35" stroke-opacity="0.45"/>
<rect x="202.00" y="379.93" width="6.00" height="10.71" fill="#3c4cab" stroke="#ffffff" stroke-width="0.35" stroke-opacity="0.45"/>
<rect x="208.00" y="379.93" width="6.00" height="10.71" fill="#4a58b0" stroke="#ffffff" stroke-width="0.35" stroke-opacity="0.45"/>
<rect x="214.00" y="379.93" width="6.00" height="10.71" fill="#8a90cc" stroke="#ffffff" stroke-width="0.35" stroke-opacity="0.45"/>
<rect x="220.00" y="379.93" width="6.00" height="10.71" fill="#8a90cc" stroke="#ffffff" stroke-width="0.35" stroke-opacity="0.45"/>
<rect x="226.00" y="379.93" width="6.00" height="10.71" fill="#c4c6e6" stroke="#ffffff" stroke-width="0.35" stroke-opacity="0.45"/>
<rect x="232.00" y="379.93" width="6.00" height="10.71" fill="#d0d0ea" stroke="#ffffff" stroke-width="0.35" stroke-opacity="0.45"/>
<rect x="238.00" y="379.93" width="6.00" height="10.71" fill="#f4acb0" stroke="#ffffff" stroke-width="0.35" stroke-opacity="0.45"/>
<rect x="244.00" y="379.93" width="6.00" height="10.71" fill="#f4acb0" stroke="#ffffff" stroke-width="0.35" stroke-opacity="0.45"/>
<rect x="250.00" y="379.93" width="6.00" height="10.71" fill="#f4acb0" stroke="#ffffff" stroke-width="0.35" stroke-opacity="0.45"/>
<rect x="256.00" y="379.93" width="6.00" height="10.71" fill="#f4acb0" stroke="#ffffff" stroke-width="0.35" stroke-opacity="0.45"/>
<rect x="262.00" y="379.93" width="6.00" height="10.71" fill="#f4acb0" stroke="#ffffff" stroke-width="0.35" stroke-opacity="0.45"/>
<rect x="268.00" y="379.93" width="6.00" height="10.71" fill="#f4acb0" stroke="#ffffff" stroke-width="0.35" stroke-opacity="0.45"/>
<rect x="274.00" y="379.93" width="6.00" height="10.71" fill="#f09498" stroke="#ffffff" stroke-width="0.35" stroke-opacity="0.45"/>
<rect x="280.00" y="379.93" width="6.00" height="10.71" fill="#f4b0b4" stroke="#ffffff" stroke-width="0.35" stroke-opacity="0.45"/>
<rect x="286.00" y="379.93" width="6.00" height="10.71" fill="#f4b0b4" stroke="#ffffff" stroke-width="0.35" stroke-opacity="0.45"/>
<rect x="292.00" y="379.93" width="6.00" height="10.71" fill="#f4b0b4" stroke="#ffffff" stroke-width="0.35" stroke-opacity="0.45"/>
<rect x="298.00" y="379.93" width="6.00" height="10.71" fill="#f4b0b4" stroke="#ffffff" stroke-width="0.35" stroke-opacity="0.45"/>
<rect x="304.00" y="379.93" width="6.00" height="10.71" fill="#f4b0b4" stroke="#ffffff" stroke-width="0.35" stroke-opacity="0.45"/>
<rect x="310.00" y="379.93" width="6.00" height="10.71" fill="#f4b0b4" stroke="#ffffff" stroke-width="0.35" stroke-opacity="0.45"/>
<rect x="316.00" y="379.93" width="6.00" height="10.71" fill="#f4b0b4" stroke="#ffffff" stroke-width="0.35" stroke-opacity="0.45"/>
<rect x="322.00" y="379.93" width="6.00" height="10.71" fill="#f4b0b4" stroke="#ffffff" stroke-width="0.35" stroke-opacity="0.45"/>
<rect x="328.00" y="379.93" width="6.00" height="10.71" fill="#f4b0b4" stroke="#ffffff" stroke-width="0.35" stroke-opacity="0.45"/>
<rect x="334.00" y="379.93" width="6.00" height="10.71" fill="#f4b0b4" stroke="#ffffff" stroke-width="0.35" stroke-opacity="0.45"/>
<rect x="340.00" y="379.93" width="6.00" height="10.71" fill="#f4b0b4" stroke="#ffffff" stroke-width="0.35" stroke-opacity="0.45"/>
<rect x="346.00" y="379.93" width="6.00" height="10.71" fill="#f4b0b4" stroke="#ffffff" stroke-width="0.35" stroke-opacity="0.45"/>
<rect x="352.00" y="379.93" width="6.00" height="10.71" fill="#f4b0b4" stroke="#ffffff" stroke-width="0.35" stroke-opacity="0.45"/>
<rect x="358.00" y="379.93" width="6.00" height="10.71" fill="#f4b0b4" stroke="#ffffff" stroke-width="0.35" stroke-opacity="0.45"/>
<rect x="364.00" y="379.93" width="6.00" height="10.71" fill="#f4b0b4" stroke="#ffffff" stroke-width="0.35" stroke-opacity="0.45"/>
<rect x="172.00" y="390.64" width="6.00" height="10.71" fill="#8a90cc" stroke="#ffffff" stroke-width="0.35" stroke-opacity="0.45"/>
<rect x="178.00" y="390.64" width="6.00" height="10.71" fill="#8a90cc" stroke="#ffffff" stroke-width="0.35" stroke-opacity="0.45"/>
<rect x="184.00" y="390.64" width="6.00" height="10.71" fill="#8a90cc" stroke="#ffffff" stroke-width="0.35" stroke-opacity="0.45"/>
<rect x="190.00" y="390.64" width="6.00" height="10.71" fill="#8a90cc" stroke="#ffffff" stroke-width="0.35" stroke-opacity="0.45"/>
<rect x="196.00" y="390.64" width="6.00" height="10.71" fill="#8a90cc" stroke="#ffffff" stroke-width="0.35" stroke-opacity="0.45"/>
<rect x="202.00" y="390.64" width="6.00" height="10.71" fill="#8a90cc" stroke="#ffffff" stroke-width="0.35" stroke-opacity="0.45"/>
<rect x="208.00" y="390.64" width="6.00" height="10.71" fill="#8a90cc" stroke="#ffffff" stroke-width="0.35" stroke-opacity="0.45"/>
<rect x="214.00" y="390.64" width="6.00" height="10.71" fill="#8a90cc" stroke="#ffffff" stroke-width="0.35" stroke-opacity="0.45"/>
<rect x="220.00" y="390.64" width="6.00" height="10.71" fill="#8a90cc" stroke="#ffffff" stroke-width="0.35" stroke-opacity="0.45"/>
<rect x="226.00" y="390.64" width="6.00" height="10.71" fill="#8a90cc" stroke="#ffffff" stroke-width="0.35" stroke-opacity="0.45"/>
<rect x="232.00" y="390.64" width="6.00" height="10.71" fill="#8a90cc" stroke="#ffffff" stroke-width="0.35" stroke-opacity="0.45"/>
<rect x="238.00" y="390.64" width="6.00" height="10.71" fill="#8a90cc" stroke="#ffffff" stroke-width="0.35" stroke-opacity="0.45"/>
<rect x="244.00" y="390.64" width="6.00" height="10.71" fill="#8a90cc" stroke="#ffffff" stroke-width="0.35" stroke-opacity="0.45"/>
<rect x="250.00" y="390.64" width="6.00" height="10.71" fill="#8a90cc" stroke="#ffffff" stroke-width="0.35" stroke-opacity="0.45"/>
<rect x="256.00" y="390.64" width="6.00" height="10.71" fill="#8a90cc" stroke="#ffffff" stroke-width="0.35" stroke-opacity="0.45"/>
<rect x="262.00" y="390.64" width="6.00" height="10.71" fill="#8a90cc" stroke="#ffffff" stroke-width="0.35" stroke-opacity="0.45"/>
<rect x="268.00" y="390.64" width="6.00" height="10.71" fill="#8a90cc" stroke="#ffffff" stroke-width="0.35" stroke-opacity="0.45"/>
<rect x="274.00" y="390.64" width="6.00" height="10.71" fill="#8a90cc" stroke="#ffffff" stroke-width="0.35" stroke-opacity="0.45"/>
<rect x="280.00" y="390.64" width="6.00" height="10.71" fill="#ee8088" stroke="#ffffff" stroke-width="0.35" stroke-opacity="0.45"/>
<rect x="286.00" y="390.64" width="6.00" height="10.71" fill="#ee8088" stroke="#ffffff" stroke-width="0.35" stroke-opacity="0.45"/>
<rect x="292.00" y="390.64" width="6.00" height="10.71" fill="#ee8088" stroke="#ffffff" stroke-width="0.35" stroke-opacity="0.45"/>
<rect x="298.00" y="390.64" width="6.00" height="10.71" fill="#ee8088" stroke="#ffffff" stroke-width="0.35" stroke-opacity="0.45"/>
<rect x="304.00" y="390.64" width="6.00" height="10.71" fill="#fbe8ea" stroke="#ffffff" stroke-width="0.35" stroke-opacity="0.45"/>
<rect x="310.00" y="390.64" width="6.00" height="10.71" fill="#ec6870" stroke="#ffffff" stroke-width="0.35" stroke-opacity="0.45"/>
<rect x="316.00" y="390.64" width="6.00" height="10.71" fill="#e83040" stroke="#ffffff" stroke-width="0.35" stroke-opacity="0.45"/>
<rect x="322.00" y="390.64" width="6.00" height="10.71" fill="#e83040" stroke="#ffffff" stroke-width="0.35" stroke-opacity="0.45"/>
<rect x="328.00" y="390.64" width="6.00" height="10.71" fill="#ee7880" stroke="#ffffff" stroke-width="0.35" stroke-opacity="0.45"/>
<rect x="334.00" y="390.64" width="6.00" height="10.71" fill="#f8d0d4" stroke="#ffffff" stroke-width="0.35" stroke-opacity="0.45"/>
<rect x="340.00" y="390.64" width="6.00" height="10.71" fill="#f2a0a4" stroke="#ffffff" stroke-width="0.35" stroke-opacity="0.45"/>
<rect x="346.00" y="390.64" width="6.00" height="10.71" fill="#f09098" stroke="#ffffff" stroke-width="0.35" stroke-opacity="0.45"/>
<rect x="352.00" y="390.64" width="6.00" height="10.71" fill="#ee8890" stroke="#ffffff" stroke-width="0.35" stroke-opacity="0.45"/>
<rect x="358.00" y="390.64" width="6.00" height="10.71" fill="#f8d0d4" stroke="#ffffff" stroke-width="0.35" stroke-opacity="0.45"/>
<rect x="364.00" y="390.64" width="6.00" height="10.71" fill="#f2a0a4" stroke="#ffffff" stroke-width="0.35" stroke-opacity="0.45"/>
<rect x="172.00" y="401.36" width="6.00" height="10.71" fill="#f08c8c" stroke="#ffffff" stroke-width="0.35" stroke-opacity="0.45"/>
<rect x="178.00" y="401.36" width="6.00" height="10.71" fill="#f08c8c" stroke="#ffffff" stroke-width="0.35" stroke-opacity="0.45"/>
<rect x="184.00" y="401.36" width="6.00" height="10.71" fill="#f29494" stroke="#ffffff" stroke-width="0.35" stroke-opacity="0.45"/>
<rect x="190.00" y="401.36" width="6.00" height="10.71" fill="#f08c8c" stroke="#ffffff" stroke-width="0.35" stroke-opacity="0.45"/>
<rect x="196.00" y="401.36" width="6.00" height="10.71" fill="#f8e0e0" stroke="#ffffff" stroke-width="0.35" stroke-opacity="0.45"/>
<rect x="202.00" y="401.36" width="6.00" height="10.71" fill="#f4a0a0" stroke="#ffffff" stroke-width="0.35" stroke-opacity="0.45"/>
<rect x="208.00" y="401.36" width="6.00" height="10.71" fill="#f8e6e8" stroke="#ffffff" stroke-width="0.35" stroke-opacity="0.45"/>
<rect x="214.00" y="401.36" width="6.00" height="10.71" fill="#dcdcf0" stroke="#ffffff" stroke-width="0.35" stroke-opacity="0.45"/>
<rect x="220.00" y="401.36" width="6.00" height="10.71" fill="#fafaf6" stroke="#ffffff" stroke-width="0.35" stroke-opacity="0.45"/>
<rect x="226.00" y="401.36" width="6.00" height="10.71" fill="#3f4fae" stroke="#ffffff" stroke-width="0.35" stroke-opacity="0.45"/>
<rect x="232.00" y="401.36" width="6.00" height="10.71" fill="#e0e0f2" stroke="#ffffff" stroke-width="0.35" stroke-opacity="0.45"/>
<rect x="238.00" y="401.36" width="6.00" height="10.71" fill="#3f4fae" stroke="#ffffff" stroke-width="0.35" stroke-opacity="0.45"/>
<rect x="244.00" y="401.36" width="6.00" height="10.71" fill="#3f4fae" stroke="#ffffff" stroke-width="0.35" stroke-opacity="0.45"/>
<rect x="250.00" y="401.36" width="6.00" height="10.71" fill="#3f4fae" stroke="#ffffff" stroke-width="0.35" stroke-opacity="0.45"/>
<rect x="256.00" y="401.36" width="6.00" height="10.71" fill="#3f4fae" stroke="#ffffff" stroke-width="0.35" stroke-opacity="0.45"/>
<rect x="262.00" y="401.36" width="6.00" height="10.71" fill="#3f4fae" stroke="#ffffff" stroke-width="0.35" stroke-opacity="0.45"/>
<rect x="268.00" y="401.36" width="6.00" height="10.71" fill="#3f4fae" stroke="#ffffff" stroke-width="0.35" stroke-opacity="0.45"/>
<rect x="274.00" y="401.36" width="6.00" height="10.71" fill="#3f4fae" stroke="#ffffff" stroke-width="0.35" stroke-opacity="0.45"/>
<rect x="280.00" y="401.36" width="6.00" height="10.71" fill="#f8e0e4" stroke="#ffffff" stroke-width="0.35" stroke-opacity="0.45"/>
<rect x="286.00" y="401.36" width="6.00" height="10.71" fill="#d0d0ea" stroke="#ffffff" stroke-width="0.35" stroke-opacity="0.45"/>
<rect x="292.00" y="401.36" width="6.00" height="10.71" fill="#f8e8ea" stroke="#ffffff" stroke-width="0.35" stroke-opacity="0.45"/>
<rect x="298.00" y="401.36" width="6.00" height="10.71" fill="#f8e8ea" stroke="#ffffff" stroke-width="0.35" stroke-opacity="0.45"/>
<rect x="304.00" y="401.36" width="6.00" height="10.71" fill="#f4b0b4" stroke="#ffffff" stroke-width="0.35" stroke-opacity="0.45"/>
<rect x="310.00" y="401.36" width="6.00" height="10.71" fill="#f4b0b4" stroke="#ffffff" stroke-width="0.35" stroke-opacity="0.45"/>
<rect x="316.00" y="401.36" width="6.00" height="10.71" fill="#f4b0b4" stroke="#ffffff" stroke-width="0.35" stroke-opacity="0.45"/>
<rect x="322.00" y="401.36" width="6.00" height="10.71" fill="#f4b0b4" stroke="#ffffff" stroke-width="0.35" stroke-opacity="0.45"/>
<rect x="328.00" y="401.36" width="6.00" height="10.71" fill="#e84050" stroke="#ffffff" stroke-width="0.35" stroke-opacity="0.45"/>
<rect x="334.00" y="401.36" width="6.00" height="10.71" fill="#c8c8ea" stroke="#ffffff" stroke-width="0.35" stroke-opacity="0.45"/>
<rect x="340.00" y="401.36" width="6.00" height="10.71" fill="#f4b8bc" stroke="#ffffff" stroke-width="0.35" stroke-opacity="0.45"/>
<rect x="346.00" y="401.36" width="6.00" height="10.71" fill="#f4b8bc" stroke="#ffffff" stroke-width="0.35" stroke-opacity="0.45"/>
<rect x="352.00" y="401.36" width="6.00" height="10.71" fill="#fcf0f2" stroke="#ffffff" stroke-width="0.35" stroke-opacity="0.45"/>
<rect x="358.00" y="401.36" width="6.00" height="10.71" fill="#a8b0dc" stroke="#ffffff" stroke-width="0.35" stroke-opacity="0.45"/>
<rect x="364.00" y="401.36" width="6.00" height="10.71" fill="#f09098" stroke="#ffffff" stroke-width="0.35" stroke-opacity="0.45"/>
<rect x="172.00" y="412.07" width="6.00" height="10.71" fill="#3f4fae" stroke="#ffffff" stroke-width="0.35" stroke-opacity="0.45"/>
<rect x="178.00" y="412.07" width="6.00" height="10.71" fill="#3f4fae" stroke="#ffffff" stroke-width="0.35" stroke-opacity="0.45"/>
<rect x="184.00" y="412.07" width="6.00" height="10.71" fill="#3f4fae" stroke="#ffffff" stroke-width="0.35" stroke-opacity="0.45"/>
<rect x="190.00" y="412.07" width="6.00" height="10.71" fill="#3f4fae" stroke="#ffffff" stroke-width="0.35" stroke-opacity="0.45"/>
<rect x="196.00" y="412.07" width="6.00" height="10.71" fill="#3f4fae" stroke="#ffffff" stroke-width="0.35" stroke-opacity="0.45"/>
<rect x="202.00" y="412.07" width="6.00" height="10.71" fill="#3f4fae" stroke="#ffffff" stroke-width="0.35" stroke-opacity="0.45"/>
<rect x="208.00" y="412.07" width="6.00" height="10.71" fill="#4050ae" stroke="#ffffff" stroke-width="0.35" stroke-opacity="0.45"/>
<rect x="214.00" y="412.07" width="6.00" height="10.71" fill="#7a82c6" stroke="#ffffff" stroke-width="0.35" stroke-opacity="0.45"/>
<rect x="220.00" y="412.07" width="6.00" height="10.71" fill="#7a82c6" stroke="#ffffff" stroke-width="0.35" stroke-opacity="0.45"/>
<rect x="226.00" y="412.07" width="6.00" height="10.71" fill="#5c66b8" stroke="#ffffff" stroke-width="0.35" stroke-opacity="0.45"/>
<rect x="232.00" y="412.07" width="6.00" height="10.71" fill="#4a56b0" stroke="#ffffff" stroke-width="0.35" stroke-opacity="0.45"/>
<rect x="238.00" y="412.07" width="6.00" height="10.71" fill="#fbeef0" stroke="#ffffff" stroke-width="0.35" stroke-opacity="0.45"/>
<rect x="244.00" y="412.07" width="6.00" height="10.71" fill="#fbeef0" stroke="#ffffff" stroke-width="0.35" stroke-opacity="0.45"/>
<rect x="250.00" y="412.07" width="6.00" height="10.71" fill="#fbeef0" stroke="#ffffff" stroke-width="0.35" stroke-opacity="0.45"/>
<rect x="256.00" y="412.07" width="6.00" height="10.71" fill="#fbeef0" stroke="#ffffff" stroke-width="0.35" stroke-opacity="0.45"/>
<rect x="262.00" y="412.07" width="6.00" height="10.71" fill="#fbeef0" stroke="#ffffff" stroke-width="0.35" stroke-opacity="0.45"/>
<rect x="268.00" y="412.07" width="6.00" height="10.71" fill="#fbeef0" stroke="#ffffff" stroke-width="0.35" stroke-opacity="0.45"/>
<rect x="274.00" y="412.07" width="6.00" height="10.71" fill="#fbeef0" stroke="#ffffff" stroke-width="0.35" stroke-opacity="0.45"/>
<rect x="280.00" y="412.07" width="6.00" height="10.71" fill="#f4b8bc" stroke="#ffffff" stroke-width="0.35" stroke-opacity="0.45"/>
<rect x="286.00" y="412.07" width="6.00" height="10.71" fill="#f4b8bc" stroke="#ffffff" stroke-width="0.35" stroke-opacity="0.45"/>
<rect x="292.00" y="412.07" width="6.00" height="10.71" fill="#f2a0a4" stroke="#ffffff" stroke-width="0.35" stroke-opacity="0.45"/>
<rect x="298.00" y="412.07" width="6.00" height="10.71" fill="#ee8c92" stroke="#ffffff" stroke-width="0.35" stroke-opacity="0.45"/>
<rect x="304.00" y="412.07" width="6.00" height="10.71" fill="#f2a0a4" stroke="#ffffff" stroke-width="0.35" stroke-opacity="0.45"/>
<rect x="310.00" y="412.07" width="6.00" height="10.71" fill="#f2a0a4" stroke="#ffffff" stroke-width="0.35" stroke-opacity="0.45"/>
<rect x="316.00" y="412.07" width="6.00" height="10.71" fill="#f09ca0" stroke="#ffffff" stroke-width="0.35" stroke-opacity="0.45"/>
<rect x="322.00" y="412.07" width="6.00" height="10.71" fill="#f2a0a4" stroke="#ffffff" stroke-width="0.35" stroke-opacity="0.45"/>
<rect x="328.00" y="412.07" width="6.00" height="10.71" fill="#f2a0a4" stroke="#ffffff" stroke-width="0.35" stroke-opacity="0.45"/>
<rect x="334.00" y="412.07" width="6.00" height="10.71" fill="#f09098" stroke="#ffffff" stroke-width="0.35" stroke-opacity="0.45"/>
<rect x="340.00" y="412.07" width="6.00" height="10.71" fill="#f2a0a4" stroke="#ffffff" stroke-width="0.35" stroke-opacity="0.45"/>
<rect x="346.00" y="412.07" width="6.00" height="10.71" fill="#f09098" stroke="#ffffff" stroke-width="0.35" stroke-opacity="0.45"/>
<rect x="352.00" y="412.07" width="6.00" height="10.71" fill="#f09098" stroke="#ffffff" stroke-width="0.35" stroke-opacity="0.45"/>
<rect x="358.00" y="412.07" width="6.00" height="10.71" fill="#f09098" stroke="#ffffff" stroke-width="0.35" stroke-opacity="0.45"/>
<rect x="364.00" y="412.07" width="6.00" height="10.71" fill="#ec7078" stroke="#ffffff" stroke-width="0.35" stroke-opacity="0.45"/>
<rect x="172.00" y="422.79" width="6.00" height="10.71" fill="#f09090" stroke="#ffffff" stroke-width="0.35" stroke-opacity="0.45"/>
<rect x="178.00" y="422.79" width="6.00" height="10.71" fill="#f09090" stroke="#ffffff" stroke-width="0.35" stroke-opacity="0.45"/>
<rect x="184.00" y="422.79" width="6.00" height="10.71" fill="#f09494" stroke="#ffffff" stroke-width="0.35" stroke-opacity="0.45"/>
<rect x="190.00" y="422.79" width="6.00" height="10.71" fill="#ee8c8c" stroke="#ffffff" stroke-width="0.35" stroke-opacity="0.45"/>
<rect x="196.00" y="422.79" width="6.00" height="10.71" fill="#f09090" stroke="#ffffff" stroke-width="0.35" stroke-opacity="0.45"/>
<rect x="202.00" y="422.79" width="6.00" height="10.71" fill="#ee8888" stroke="#ffffff" stroke-width="0.35" stroke-opacity="0.45"/>
<rect x="208.00" y="422.79" width="6.00" height="10.71" fill="#f09090" stroke="#ffffff" stroke-width="0.35" stroke-opacity="0.45"/>
<rect x="214.00" y="422.79" width="6.00" height="10.71" fill="#f4acac" stroke="#ffffff" stroke-width="0.35" stroke-opacity="0.45"/>
<rect x="220.00" y="422.79" width="6.00" height="10.71" fill="#f4acac" stroke="#ffffff" stroke-width="0.35" stroke-opacity="0.45"/>
<rect x="226.00" y="422.79" width="6.00" height="10.71" fill="#fdfafa" stroke="#ffffff" stroke-width="0.35" stroke-opacity="0.45"/>
<rect x="232.00" y="422.79" width="6.00" height="10.71" fill="#f4a8a8" stroke="#ffffff" stroke-width="0.35" stroke-opacity="0.45"/>
<rect x="238.00" y="422.79" width="6.00" height="10.71" fill="#fdfafa" stroke="#ffffff" stroke-width="0.35" stroke-opacity="0.45"/>
<rect x="244.00" y="422.79" width="6.00" height="10.71" fill="#2a40a4" stroke="#ffffff" stroke-width="0.35" stroke-opacity="0.45"/>
<rect x="250.00" y="422.79" width="6.00" height="10.71" fill="#2a40a4" stroke="#ffffff" stroke-width="0.35" stroke-opacity="0.45"/>
<rect x="256.00" y="422.79" width="6.00" height="10.71" fill="#2a40a4" stroke="#ffffff" stroke-width="0.35" stroke-opacity="0.45"/>
<rect x="262.00" y="422.79" width="6.00" height="10.71" fill="#2a40a4" stroke="#ffffff" stroke-width="0.35" stroke-opacity="0.45"/>
<rect x="268.00" y="422.79" width="6.00" height="10.71" fill="#2a40a4" stroke="#ffffff" stroke-width="0.35" stroke-opacity="0.45"/>
<rect x="274.00" y="422.79" width="6.00" height="10.71" fill="#fdfafa" stroke="#ffffff" stroke-width="0.35" stroke-opacity="0.45"/>
<rect x="280.00" y="422.79" width="6.00" height="10.71" fill="#fdfafa" stroke="#ffffff" stroke-width="0.35" stroke-opacity="0.45"/>
<rect x="286.00" y="422.79" width="6.00" height="10.71" fill="#fdfafa" stroke="#ffffff" stroke-width="0.35" stroke-opacity="0.45"/>
<rect x="292.00" y="422.79" width="6.00" height="10.71" fill="#fdfafa" stroke="#ffffff" stroke-width="0.35" stroke-opacity="0.45"/>
<rect x="298.00" y="422.79" width="6.00" height="10.71" fill="#fdfafa" stroke="#ffffff" stroke-width="0.35" stroke-opacity="0.45"/>
<rect x="304.00" y="422.79" width="6.00" height="10.71" fill="#fdfafa" stroke="#ffffff" stroke-width="0.35" stroke-opacity="0.45"/>
<rect x="310.00" y="422.79" width="6.00" height="10.71" fill="#fdfafa" stroke="#ffffff" stroke-width="0.35" stroke-opacity="0.45"/>
<rect x="316.00" y="422.79" width="6.00" height="10.71" fill="#fdfafa" stroke="#ffffff" stroke-width="0.35" stroke-opacity="0.45"/>
<rect x="322.00" y="422.79" width="6.00" height="10.71" fill="#fdfafa" stroke="#ffffff" stroke-width="0.35" stroke-opacity="0.45"/>
<rect x="328.00" y="422.79" width="6.00" height="10.71" fill="#fdfafa" stroke="#ffffff" stroke-width="0.35" stroke-opacity="0.45"/>
<rect x="334.00" y="422.79" width="6.00" height="10.71" fill="#fdfafa" stroke="#ffffff" stroke-width="0.35" stroke-opacity="0.45"/>
<rect x="340.00" y="422.79" width="6.00" height="10.71" fill="#fdfafa" stroke="#ffffff" stroke-width="0.35" stroke-opacity="0.45"/>
<rect x="346.00" y="422.79" width="6.00" height="10.71" fill="#fdfafa" stroke="#ffffff" stroke-width="0.35" stroke-opacity="0.45"/>
<rect x="352.00" y="422.79" width="6.00" height="10.71" fill="#fdfafa" stroke="#ffffff" stroke-width="0.35" stroke-opacity="0.45"/>
<rect x="358.00" y="422.79" width="6.00" height="10.71" fill="#fdfafa" stroke="#ffffff" stroke-width="0.35" stroke-opacity="0.45"/>
<rect x="364.00" y="422.79" width="6.00" height="10.71" fill="#fdfafa" stroke="#ffffff" stroke-width="0.35" stroke-opacity="0.45"/>
<rect x="280.00" y="358.50" width="90.00" height="75.00" fill="none" stroke="#111" stroke-width="1.1" />
<text x="169.20" y="365.86" font-size="5.8" text-anchor="end" fill="#333" stroke="#333" stroke-width="0.193" textLength="18.38" lengthAdjust="spacingAndGlyphs" >pAML1</text>
<text x="169.20" y="376.57" font-size="5.8" text-anchor="end" fill="#333" stroke="#333" stroke-width="0.193" textLength="18.38" lengthAdjust="spacingAndGlyphs" >pAML2</text>
<text x="169.20" y="387.29" font-size="5.8" text-anchor="end" fill="#333" stroke="#333" stroke-width="0.193" textLength="18.38" lengthAdjust="spacingAndGlyphs" >pAML3</text>
<text x="169.20" y="398.00" font-size="5.8" text-anchor="end" fill="#333" stroke="#333" stroke-width="0.193" textLength="21.60" lengthAdjust="spacingAndGlyphs" >pAML10</text>
<text x="169.20" y="408.71" font-size="5.8" text-anchor="end" fill="#333" stroke="#333" stroke-width="0.193" textLength="21.17" lengthAdjust="spacingAndGlyphs" >pAML11</text>
<text x="169.20" y="419.43" font-size="5.8" text-anchor="end" fill="#333" stroke="#333" stroke-width="0.193" textLength="21.60" lengthAdjust="spacingAndGlyphs" >pAML19</text>
<text x="169.20" y="430.14" font-size="5.8" text-anchor="end" fill="#333" stroke="#333" stroke-width="0.193" textLength="21.60" lengthAdjust="spacingAndGlyphs" >pAML20</text>
<text x="176.80" y="435.60" font-size="5.0" text-anchor="end" fill="#333" stroke="#333" stroke-width="0.167" textLength="24.45" lengthAdjust="spacingAndGlyphs" transform="rotate(-90 176.80 435.60)" >SMARCC1</text>
<text x="182.80" y="435.60" font-size="5.0" text-anchor="end" fill="#333" stroke="#333" stroke-width="0.167" textLength="15.84" lengthAdjust="spacingAndGlyphs" transform="rotate(-90 182.80 435.60)" >FOSL1</text>
<text x="188.80" y="435.60" font-size="5.0" text-anchor="end" fill="#333" stroke="#333" stroke-width="0.167" textLength="10.28" lengthAdjust="spacingAndGlyphs" transform="rotate(-90 188.80 435.60)" >FOS</text>
<text x="194.80" y="435.60" font-size="5.0" text-anchor="end" fill="#333" stroke="#333" stroke-width="0.167" textLength="13.06" lengthAdjust="spacingAndGlyphs" transform="rotate(-90 194.80 435.60)" >JUNB</text>
<text x="200.80" y="435.60" font-size="5.0" text-anchor="end" fill="#333" stroke="#333" stroke-width="0.167" textLength="15.84" lengthAdjust="spacingAndGlyphs" transform="rotate(-90 200.80 435.60)" >FOSL2</text>
<text x="206.80" y="435.60" font-size="5.0" text-anchor="end" fill="#333" stroke="#333" stroke-width="0.167" textLength="13.33" lengthAdjust="spacingAndGlyphs" transform="rotate(-90 206.80 435.60)" >JUND</text>
<text x="212.80" y="435.60" font-size="5.0" text-anchor="end" fill="#333" stroke="#333" stroke-width="0.167" textLength="9.72" lengthAdjust="spacingAndGlyphs" transform="rotate(-90 212.80 435.60)" >JUN</text>
<text x="218.80" y="435.60" font-size="5.0" text-anchor="end" fill="#333" stroke="#333" stroke-width="0.167" textLength="16.67" lengthAdjust="spacingAndGlyphs" transform="rotate(-90 218.80 435.60)" >BACH1</text>
<text x="224.80" y="435.60" font-size="5.0" text-anchor="end" fill="#333" stroke="#333" stroke-width="0.167" textLength="16.67" lengthAdjust="spacingAndGlyphs" transform="rotate(-90 224.80 435.60)" >BACH2</text>
<text x="230.80" y="435.60" font-size="5.0" text-anchor="end" fill="#333" stroke="#333" stroke-width="0.167" textLength="13.61" lengthAdjust="spacingAndGlyphs" transform="rotate(-90 230.80 435.60)" >FOSB</text>
<text x="236.80" y="435.60" font-size="5.0" text-anchor="end" fill="#333" stroke="#333" stroke-width="0.167" textLength="12.23" lengthAdjust="spacingAndGlyphs" transform="rotate(-90 236.80 435.60)" >JDP2</text>
<text x="242.80" y="435.60" font-size="5.0" text-anchor="end" fill="#333" stroke="#333" stroke-width="0.167" textLength="9.45" lengthAdjust="spacingAndGlyphs" transform="rotate(-90 242.80 435.60)" >HLF</text>
<text x="248.80" y="435.60" font-size="5.0" text-anchor="end" fill="#333" stroke="#333" stroke-width="0.167" textLength="12.79" lengthAdjust="spacingAndGlyphs" transform="rotate(-90 248.80 435.60)" >PBX3</text>
<text x="254.80" y="435.60" font-size="5.0" text-anchor="end" fill="#333" stroke="#333" stroke-width="0.167" textLength="13.34" lengthAdjust="spacingAndGlyphs" transform="rotate(-90 254.80 435.60)" >NFYB</text>
<text x="260.80" y="435.60" font-size="5.0" text-anchor="end" fill="#333" stroke="#333" stroke-width="0.167" textLength="16.86" lengthAdjust="spacingAndGlyphs" transform="rotate(-90 260.80 435.60)" >GABPA</text>
<text x="266.80" y="435.60" font-size="5.0" text-anchor="end" fill="#333" stroke="#333" stroke-width="0.167" textLength="10.00" lengthAdjust="spacingAndGlyphs" transform="rotate(-90 266.80 435.60)" >FLI1</text>
<text x="272.80" y="435.60" font-size="5.0" text-anchor="end" fill="#333" stroke="#333" stroke-width="0.167" textLength="12.23" lengthAdjust="spacingAndGlyphs" transform="rotate(-90 272.80 435.60)" >ELK4</text>
<text x="278.80" y="435.60" font-size="5.0" text-anchor="end" fill="#333" stroke="#333" stroke-width="0.167" textLength="18.06" lengthAdjust="spacingAndGlyphs" transform="rotate(-90 278.80 435.60)" >ARID3A</text>
<text x="284.80" y="435.60" font-size="5.0" text-anchor="end" fill="#333" stroke="#333" stroke-width="0.167" textLength="14.73" lengthAdjust="spacingAndGlyphs" transform="rotate(-90 284.80 435.60)" >KLF16</text>
<text x="290.80" y="435.60" font-size="5.0" text-anchor="end" fill="#333" stroke="#333" stroke-width="0.167" textLength="11.95" lengthAdjust="spacingAndGlyphs" transform="rotate(-90 290.80 435.60)" >KLF7</text>
<text x="296.80" y="435.60" font-size="5.0" text-anchor="end" fill="#333" stroke="#333" stroke-width="0.167" textLength="11.95" lengthAdjust="spacingAndGlyphs" transform="rotate(-90 296.80 435.60)" >KLF6</text>
<text x="302.80" y="435.60" font-size="5.0" text-anchor="end" fill="#333" stroke="#333" stroke-width="0.167" textLength="11.95" lengthAdjust="spacingAndGlyphs" transform="rotate(-90 302.80 435.60)" >KLF5</text>
<text x="308.80" y="435.60" font-size="5.0" text-anchor="end" fill="#333" stroke="#333" stroke-width="0.167" textLength="18.06" lengthAdjust="spacingAndGlyphs" transform="rotate(-90 308.80 435.60)" >ZNF263</text>
<text x="314.80" y="435.60" font-size="5.0" text-anchor="end" fill="#333" stroke="#333" stroke-width="0.167" textLength="18.06" lengthAdjust="spacingAndGlyphs" transform="rotate(-90 314.80 435.60)" >ZNF148</text>
<text x="320.80" y="435.60" font-size="5.0" text-anchor="end" fill="#333" stroke="#333" stroke-width="0.167" textLength="9.45" lengthAdjust="spacingAndGlyphs" transform="rotate(-90 320.80 435.60)" >SP1</text>
<text x="326.80" y="435.60" font-size="5.0" text-anchor="end" fill="#333" stroke="#333" stroke-width="0.167" textLength="9.45" lengthAdjust="spacingAndGlyphs" transform="rotate(-90 326.80 435.60)" >SP2</text>
<text x="332.80" y="435.60" font-size="5.0" text-anchor="end" fill="#333" stroke="#333" stroke-width="0.167" textLength="10.55" lengthAdjust="spacingAndGlyphs" transform="rotate(-90 332.80 435.60)" >WT1</text>
<text x="338.80" y="435.60" font-size="5.0" text-anchor="end" fill="#333" stroke="#333" stroke-width="0.167" textLength="17.22" lengthAdjust="spacingAndGlyphs" transform="rotate(-90 338.80 435.60)" >DNMT1</text>
<text x="344.80" y="435.60" font-size="5.0" text-anchor="end" fill="#333" stroke="#333" stroke-width="0.167" textLength="13.62" lengthAdjust="spacingAndGlyphs" transform="rotate(-90 344.80 435.60)" >EGR1</text>
<text x="350.80" y="435.60" font-size="5.0" text-anchor="end" fill="#333" stroke="#333" stroke-width="0.167" textLength="9.44" lengthAdjust="spacingAndGlyphs" transform="rotate(-90 350.80 435.60)" >ZFX</text>
<text x="356.80" y="435.60" font-size="5.0" text-anchor="end" fill="#333" stroke="#333" stroke-width="0.167" textLength="18.89" lengthAdjust="spacingAndGlyphs" transform="rotate(-90 356.80 435.60)" >ZBTB7A</text>
<text x="362.80" y="435.60" font-size="5.0" text-anchor="end" fill="#333" stroke="#333" stroke-width="0.167" textLength="17.23" lengthAdjust="spacingAndGlyphs" transform="rotate(-90 362.80 435.60)" >SMAD5</text>
<text x="368.80" y="435.60" font-size="5.0" text-anchor="end" fill="#333" stroke="#333" stroke-width="0.167" textLength="10.55" lengthAdjust="spacingAndGlyphs" transform="rotate(-90 368.80 435.60)" >MAZ</text>
<rect x="372.00" y="358.50" width="3.60" height="32.10" fill="#b85a78" />
<rect x="372.00" y="390.60" width="3.60" height="21.30" fill="#78c4b4" />
<rect x="372.00" y="411.90" width="3.60" height="21.60" fill="#4a80b0" />
<line x1="375.60" y1="374.50" x2="377.60" y2="374.50" stroke="#333" stroke-width="0.7" />
<line x1="375.60" y1="401.20" x2="377.60" y2="401.20" stroke="#333" stroke-width="0.7" />
<line x1="375.60" y1="422.70" x2="377.60" y2="422.70" stroke="#333" stroke-width="0.7" />
<text x="381.80" y="374.50" font-size="5.0" text-anchor="middle" fill="#333" stroke="#333" stroke-width="0.167" textLength="14.45" lengthAdjust="spacingAndGlyphs" transform="rotate(90 381.80 374.50)" >t(8;21)</text>
<text x="381.80" y="400.30" font-size="5.0" text-anchor="middle" fill="#333" stroke="#333" stroke-width="0.167" textLength="15.28" lengthAdjust="spacingAndGlyphs" transform="rotate(90 381.80 400.30)" >inv(16)</text>
<text x="381.80" y="421.70" font-size="5.0" text-anchor="middle" fill="#333" stroke="#333" stroke-width="0.167" textLength="21.02" lengthAdjust="spacingAndGlyphs" transform="rotate(90 381.80 421.70)" >FLT3-ITD</text>
<defs><linearGradient id="hleg" x1="0" x2="1" y1="0" y2="0">
<stop offset="0" stop-color="#26398e"/><stop offset="0.25" stop-color="#6a7cc0"/>
<stop offset="0.5" stop-color="#fbfbfd"/><stop offset="0.75" stop-color="#ee9aa0"/>
<stop offset="1" stop-color="#d42a2a"/></linearGradient></defs>
<text x="261.00" y="468.73" font-size="5.8" fill="#333" stroke="#333" stroke-width="0.193" textLength="22.00" lengthAdjust="spacingAndGlyphs" >Depleted</text>
<text x="288.00" y="468.73" font-size="5.8" fill="#333" stroke="#333" stroke-width="0.193" textLength="20.00" lengthAdjust="spacingAndGlyphs" >Enriched</text>
<text x="234.30" y="476.40" font-size="5.4" fill="#333" stroke="#333" stroke-width="0.180" textLength="12.01" lengthAdjust="spacingAndGlyphs" >–Log</text>
<text x="245.30" y="477.80" font-size="3.3" fill="#333" stroke="#333" stroke-width="0.110" textLength="3.67" lengthAdjust="spacingAndGlyphs" >10</text>
<text x="249.20" y="476.40" font-size="5.4" fill="#333" stroke="#333" stroke-width="0.180" font-style="italic" textLength="7.20" lengthAdjust="spacingAndGlyphs" >(P)</text>
<rect x="261.70" y="472.40" width="43.00" height="4.30" fill="url(#hleg)" />
<text x="262.70" y="483.49" font-size="5.4" text-anchor="middle" fill="#333" stroke="#333" stroke-width="0.180" textLength="9.16" lengthAdjust="spacingAndGlyphs" >&gt;20</text>
<text x="273.40" y="483.49" font-size="5.4" text-anchor="middle" fill="#333" stroke="#333" stroke-width="0.180" textLength="6.01" lengthAdjust="spacingAndGlyphs" >10</text>
<text x="282.00" y="483.49" font-size="5.4" text-anchor="middle" fill="#333" stroke="#333" stroke-width="0.180" >0</text>
<text x="295.50" y="483.49" font-size="5.4" text-anchor="middle" fill="#333" stroke="#333" stroke-width="0.180" textLength="6.01" lengthAdjust="spacingAndGlyphs" >10</text>
<text x="304.00" y="483.49" font-size="5.4" text-anchor="middle" fill="#333" stroke="#333" stroke-width="0.180" textLength="9.16" lengthAdjust="spacingAndGlyphs" >&gt;20</text>
<text x="399.00" y="345.20" font-size="10" fill="#111" stroke="#111" stroke-width="0.35" font-weight="bold" >I</text>
<text x="419.60" y="347.16" font-size="7.9" fill="#333" stroke="#333" stroke-width="0.263" textLength="64.80" lengthAdjust="spacingAndGlyphs" >Interaction network</text>
<text x="427.00" y="356.37" font-size="7.9" fill="#333" stroke="#333" stroke-width="0.263" textLength="51.00" lengthAdjust="spacingAndGlyphs" >of regulators in</text>
<text x="419.00" y="364.96" font-size="7.9" fill="#333" stroke="#333" stroke-width="0.263" textLength="66.60" lengthAdjust="spacingAndGlyphs" >drug-resistant clone</text>
<line x1="435.20" y1="377.40" x2="474.60" y2="377.20" stroke="#c8d4c4" stroke-width="0.8" />
<line x1="435.20" y1="377.40" x2="410.20" y2="408.50" stroke="#b8cee0" stroke-width="0.9" />
<line x1="435.20" y1="377.40" x2="419.20" y2="447.40" stroke="#f8cab4" stroke-width="1.2" />
<line x1="410.20" y1="408.50" x2="474.60" y2="377.20" stroke="#f4dcb8" stroke-width="1.2" />
<line x1="410.20" y1="408.50" x2="419.20" y2="447.40" stroke="#f8c8b4" stroke-width="1.3" />
<line x1="410.20" y1="408.50" x2="452.00" y2="461.00" stroke="#a8b8a8" stroke-width="0.7" />
<line x1="419.20" y1="447.40" x2="494.00" y2="410.00" stroke="#f2b6c4" stroke-width="1.6" />
<line x1="419.20" y1="447.40" x2="480.50" y2="447.00" stroke="#f8e0bc" stroke-width="1.1" />
<circle cx="435.20" cy="377.40" r="8.20" fill="#f5a884" stroke="#e8946c" stroke-width="0.5" />
<circle cx="474.60" cy="377.20" r="5.00" fill="#dcd6a4" stroke="#bcb488" stroke-width="0.5" />
<circle cx="410.20" cy="408.50" r="11.20" fill="#f07e7e" stroke="#e27070" stroke-width="0.5" />
<circle cx="419.20" cy="447.40" r="11.40" fill="#f07e7e" stroke="#e27070" stroke-width="0.5" />
<text x="435.20" y="379.43" font-size="5.8" text-anchor="middle" fill="#7a2a1a" stroke="#7a2a1a" stroke-width="0.193" textLength="12.40" lengthAdjust="spacingAndGlyphs" >EGR1</text>
<text x="474.60" y="379.02" font-size="5.2" text-anchor="middle" fill="#555" stroke="#555" stroke-width="0.173" textLength="8.40" lengthAdjust="spacingAndGlyphs" >WT1</text>
<text x="410.20" y="410.60" font-size="6.0" text-anchor="middle" fill="#6a1a1a" stroke="#6a1a1a" stroke-width="0.200" textLength="19.00" lengthAdjust="spacingAndGlyphs" >DNMT1</text>
<text x="419.20" y="449.50" font-size="6.0" text-anchor="middle" fill="#6a1a1a" stroke="#6a1a1a" stroke-width="0.200" textLength="9.00" lengthAdjust="spacingAndGlyphs" >SP1</text>
<text x="494.00" y="410.15" font-size="5.0" fill="#222" stroke="#222" stroke-width="0.167" textLength="12.00" lengthAdjust="spacingAndGlyphs" >KLF6</text>
<text x="480.70" y="448.55" font-size="5.0" fill="#222" stroke="#222" stroke-width="0.167" textLength="20.30" lengthAdjust="spacingAndGlyphs" >ZBTB7A</text>
<text x="445.00" y="466.15" font-size="5.0" fill="#222" stroke="#222" stroke-width="0.167" textLength="20.00" lengthAdjust="spacingAndGlyphs" >ZNF148</text>
<text x="7.00" y="534.30" font-size="10" fill="#111" stroke="#111" stroke-width="0.35" font-weight="bold" >J</text>
<text x="76.30" y="542.85" font-size="7.0" text-anchor="middle" fill="#222" stroke="#222" stroke-width="0.233" textLength="11.60" lengthAdjust="spacingAndGlyphs" >SP1</text>
<path d="M34.80,590.75 L35.51,589.76 L36.21,590.85 L36.92,590.48 L37.63,589.37 L38.33,589.43 L39.04,588.33 L39.75,588.05 L40.45,587.87 L41.16,588.31 L41.87,587.15 L42.57,588.22 L43.28,586.31 L43.99,586.23 L44.69,585.75 L45.40,586.69 L46.14,585.44 L46.88,585.10 L47.62,584.32 L48.35,584.36 L49.09,583.41 L49.83,582.54 L50.57,582.41 L51.31,581.66 L52.05,580.79 L52.78,581.55 L53.52,580.77 L54.26,580.22 L55.00,580.09 L55.74,578.55 L56.48,577.86 L57.22,577.28 L57.95,576.58 L58.69,576.40 L59.43,574.54 L60.17,574.70 L60.91,574.17 L61.65,573.17 L62.38,571.92 L63.12,572.49 L63.86,570.58 L64.60,570.92 L65.32,569.70 L66.05,569.01 L66.78,568.80 L67.50,568.12 L68.22,567.80 L68.95,568.28 L69.68,567.89 L70.40,566.75 L71.17,565.94 L71.93,564.29 L72.70,563.00 L73.65,566.58 L74.60,568.80" fill="none" stroke="#3a9a5a" stroke-width="1.0" stroke-opacity="0.9"/>
<path d="M78.00,564.66 L78.80,565.33 L79.60,564.68 L80.40,564.33 L81.13,563.79 L81.86,564.61 L82.59,565.20 L83.32,566.44 L84.05,568.20 L84.78,568.76 L85.51,569.37 L86.24,568.75 L86.97,570.49 L87.70,571.29 L88.44,571.95 L89.18,572.51 L89.92,571.93 L90.65,572.59 L91.39,574.29 L92.13,574.78 L92.87,575.65 L93.61,575.44 L94.35,576.83 L95.08,576.07 L95.82,578.14 L96.56,578.60 L97.30,578.21 L98.05,578.24 L98.79,579.62 L99.54,580.39 L100.28,580.29 L101.03,580.28 L101.78,581.19 L102.52,582.69 L103.27,581.89 L104.02,583.93 L104.76,583.20 L105.51,583.64 L106.25,583.99 L107.00,586.07 L107.74,586.44 L108.47,585.91 L109.21,586.03 L109.95,587.55 L110.69,588.49 L111.42,587.43 L112.16,589.07 L112.90,589.99 L113.64,589.79 L114.38,590.51 L115.11,591.45 L115.85,590.95 L116.59,591.54 L117.33,592.75 L118.06,593.08 L118.80,593.50" fill="none" stroke="#3a9a5a" stroke-width="1.0" stroke-opacity="0.9"/>
<path d="M34.80,590.36 L35.51,589.54 L36.21,590.15 L36.92,588.52 L37.63,588.76 L38.33,588.68 L39.04,587.32 L39.75,586.23 L40.45,586.06 L41.16,585.32 L41.87,585.00 L42.57,584.48 L43.28,584.42 L43.99,584.00 L44.69,583.67 L45.40,583.60 L46.14,583.03 L46.88,582.45 L47.62,581.28 L48.35,581.22 L49.09,580.43 L49.83,579.08 L50.57,579.24 L51.31,578.23 L52.05,578.29 L52.78,577.80 L53.52,576.32 L54.26,576.08 L55.00,575.52 L55.74,574.42 L56.48,573.14 L57.22,572.34 L57.95,573.23 L58.69,571.95 L59.43,570.60 L60.17,570.19 L60.91,568.66 L61.65,568.64 L62.38,568.26 L63.12,567.12 L63.86,565.75 L64.60,565.87 L65.34,565.12 L66.09,562.92 L66.83,562.91 L67.58,562.34 L68.32,561.37 L69.07,561.34 L69.81,559.85 L70.56,560.29 L71.30,559.84 L72.30,551.71 L73.05,555.75 L73.80,557.88 L74.50,562.40 L75.20,566.00" fill="none" stroke="#d83a4a" stroke-width="1.0" stroke-opacity="0.9"/>
<path d="M78.00,559.54 L78.80,559.42 L79.60,558.47 L80.40,557.01 L81.17,558.27 L81.94,557.78 L82.71,559.36 L83.49,559.38 L84.26,559.66 L85.03,560.17 L85.80,560.69 L86.54,562.32 L87.28,561.64 L88.02,562.47 L88.75,562.98 L89.49,563.51 L90.23,565.12 L90.97,565.45 L91.71,566.17 L92.45,567.18 L93.18,566.95 L93.92,566.80 L94.66,567.66 L95.40,568.83 L96.16,569.96 L96.92,571.09 L97.68,571.13 L98.44,571.39 L99.20,572.82 L99.96,574.20 L100.72,573.89 L101.48,575.74 L102.24,576.46 L103.00,576.64 L103.71,577.17 L104.42,577.23 L105.13,577.90 L105.84,578.47 L106.55,580.20 L107.25,581.08 L107.96,582.29 L108.67,582.28 L109.38,583.69 L110.09,583.33 L110.80,583.54 L111.53,584.30 L112.25,585.60 L112.98,586.93 L113.71,588.64 L114.44,588.29 L115.16,589.07 L115.89,590.84 L116.62,591.13 L117.35,592.32 L118.07,592.48 L118.80,594.00" fill="none" stroke="#d83a4a" stroke-width="1.0" stroke-opacity="0.9"/>
<path d="M74.60,568.80 L76.60,603.40 L78.00,565.00" fill="none" stroke="#3a9a5a" stroke-width="0.7" />
<path d="M75.20,566.00 L76.35,622.00 L76.85,622.00 L78.00,559.20" fill="none" stroke="#d83a4a" stroke-width="0.8" />
<rect x="34.80" y="548.90" width="84.00" height="73.20" fill="none" stroke="#111" stroke-width="1.0" />
<line x1="32.40" y1="568.60" x2="34.80" y2="568.60" stroke="#111" stroke-width="0.8" />
<text x="30.00" y="570.50" font-size="5.6" text-anchor="end" fill="#333" stroke="#333" stroke-width="0.187" textLength="7.78" lengthAdjust="spacingAndGlyphs" >0.5</text>
<line x1="32.40" y1="590.10" x2="34.80" y2="590.10" stroke="#111" stroke-width="0.8" />
<text x="30.00" y="592.00" font-size="5.6" text-anchor="end" fill="#333" stroke="#333" stroke-width="0.187" textLength="7.78" lengthAdjust="spacingAndGlyphs" >0.0</text>
<line x1="32.40" y1="610.90" x2="34.80" y2="610.90" stroke="#111" stroke-width="0.8" />
<text x="30.00" y="612.80" font-size="5.6" text-anchor="end" fill="#333" stroke="#333" stroke-width="0.187" textLength="11.05" lengthAdjust="spacingAndGlyphs" >−0.5</text>
<line x1="43.60" y1="622.10" x2="43.60" y2="624.50" stroke="#111" stroke-width="0.8" />
<text x="43.60" y="633.86" font-size="5.6" text-anchor="middle" fill="#333" stroke="#333" stroke-width="0.187" textLength="12.61" lengthAdjust="spacingAndGlyphs" >−200</text>
<line x1="60.10" y1="622.10" x2="60.10" y2="624.50" stroke="#111" stroke-width="0.8" />
<text x="60.10" y="633.86" font-size="5.6" text-anchor="middle" fill="#333" stroke="#333" stroke-width="0.187" textLength="12.61" lengthAdjust="spacingAndGlyphs" >−100</text>
<line x1="76.60" y1="622.10" x2="76.60" y2="624.50" stroke="#111" stroke-width="0.8" />
<text x="76.60" y="633.86" font-size="5.6" text-anchor="middle" fill="#333" stroke="#333" stroke-width="0.187" >0</text>
<line x1="93.10" y1="622.10" x2="93.10" y2="624.50" stroke="#111" stroke-width="0.8" />
<text x="93.10" y="633.86" font-size="5.6" text-anchor="middle" fill="#333" stroke="#333" stroke-width="0.187" textLength="9.34" lengthAdjust="spacingAndGlyphs" >100</text>
<line x1="109.60" y1="622.10" x2="109.60" y2="624.50" stroke="#111" stroke-width="0.8" />
<text x="109.60" y="633.86" font-size="5.6" text-anchor="middle" fill="#333" stroke="#333" stroke-width="0.187" textLength="9.34" lengthAdjust="spacingAndGlyphs" >200</text>
<text x="40.30" y="643.17" font-size="7.08" fill="#333" stroke="#333" stroke-width="0.236" textLength="73.00" lengthAdjust="spacingAndGlyphs" >Distance to motif center (bp)</text>
<text x="36.60" y="555.00" font-size="6.9" fill="#b8a030" stroke="#b8a030" stroke-width="0.230" textLength="2.91" lengthAdjust="spacingAndGlyphs" >G</text>
<text x="39.77" y="555.00" font-size="6.9" fill="#2a3a78" stroke="#2a3a78" stroke-width="0.230" textLength="2.91" lengthAdjust="spacingAndGlyphs" >G</text>
<text x="42.93" y="555.00" font-size="6.9" fill="#2a3a78" stroke="#2a3a78" stroke-width="0.230" textLength="2.91" lengthAdjust="spacingAndGlyphs" >G</text>
<text x="46.10" y="555.00" font-size="6.9" fill="#2a3a78" stroke="#2a3a78" stroke-width="0.230" textLength="2.91" lengthAdjust="spacingAndGlyphs" >G</text>
<text x="49.27" y="555.00" font-size="6.9" fill="#24306a" stroke="#24306a" stroke-width="0.230" textLength="2.91" lengthAdjust="spacingAndGlyphs" >C</text>
<text x="52.43" y="555.00" font-size="6.9" fill="#2a3a78" stroke="#2a3a78" stroke-width="0.230" textLength="2.91" lengthAdjust="spacingAndGlyphs" >G</text>
<text x="55.60" y="555.00" font-size="6.9" fill="#2a3a78" stroke="#2a3a78" stroke-width="0.230" textLength="2.91" lengthAdjust="spacingAndGlyphs" >G</text>
<text x="58.77" y="555.00" font-size="6.9" fill="#2a3a78" stroke="#2a3a78" stroke-width="0.230" textLength="2.91" lengthAdjust="spacingAndGlyphs" >G</text>
<text x="61.93" y="555.00" font-size="6.9" fill="#2a3a78" stroke="#2a3a78" stroke-width="0.230" textLength="2.91" lengthAdjust="spacingAndGlyphs" >G</text>
<text x="95.00" y="561.39" font-size="5.4" fill="#d83a4a" stroke="#d83a4a" stroke-width="0.180" textLength="22.00" lengthAdjust="spacingAndGlyphs" >Resistant</text>
<text x="95.00" y="567.69" font-size="5.4" fill="#d83a4a" stroke="#d83a4a" stroke-width="0.180" textLength="13.00" lengthAdjust="spacingAndGlyphs" >clone</text>
<line x1="99.00" y1="568.00" x2="96.00" y2="574.00" stroke="#d83a4a" stroke-width="0.5" />
<text x="55.00" y="585.89" font-size="5.4" fill="#3a9a5a" stroke="#3a9a5a" stroke-width="0.180" textLength="21.00" lengthAdjust="spacingAndGlyphs" >Sensitive</text>
<text x="55.00" y="592.19" font-size="5.4" fill="#3a9a5a" stroke="#3a9a5a" stroke-width="0.180" textLength="13.00" lengthAdjust="spacingAndGlyphs" >clone</text>
<line x1="66.50" y1="580.50" x2="66.50" y2="570.00" stroke="#3a9a5a" stroke-width="0.5" />
<text x="12.60" y="585.40" font-size="7.2" text-anchor="middle" fill="#333" stroke="#333" stroke-width="0.240" textLength="58.00" lengthAdjust="spacingAndGlyphs" transform="rotate(-90 12.60 585.40)" >Normalized insertions</text>
<text x="182.40" y="543.05" font-size="7.0" text-anchor="middle" fill="#222" stroke="#222" stroke-width="0.233" textLength="25.30" lengthAdjust="spacingAndGlyphs" >DNMT1</text>
<path d="M141.20,561.30 L141.93,562.07 L142.67,561.01 L143.40,561.93 L144.13,561.55 L144.87,560.94 L145.60,561.23 L146.33,560.97 L147.07,559.75 L147.80,560.56 L148.53,560.57 L149.27,560.21 L150.00,560.76 L150.71,560.36 L151.43,559.54 L152.14,559.13 L152.86,558.83 L153.57,560.08 L154.29,559.74 L155.00,559.47 L155.71,559.03 L156.43,559.04 L157.14,558.37 L157.86,558.88 L158.57,558.00 L159.29,558.85 L160.00,558.76 L160.71,558.70 L161.43,557.71 L162.14,557.26 L162.86,557.59 L163.57,558.16 L164.29,557.66 L165.00,558.00 L165.71,557.22 L166.43,557.01 L167.14,557.89 L167.86,556.26 L168.57,556.20 L169.29,556.82 L170.00,556.76 L170.75,556.18 L171.50,556.24 L172.25,555.82 L173.00,556.09 L173.75,556.34 L174.50,556.03 L175.25,555.47 L176.00,554.94 L176.75,555.52 L177.50,554.14 L178.25,554.13 L179.00,554.24 L179.90,553.12 L180.80,552.00" fill="none" stroke="#3a9a5a" stroke-width="1.0" stroke-opacity="0.9"/>
<path d="M184.50,551.28 L185.33,552.65 L186.17,553.03 L187.00,554.33 L187.73,553.93 L188.45,553.93 L189.18,554.99 L189.91,554.28 L190.64,554.21 L191.36,555.47 L192.09,555.66 L192.82,554.30 L193.55,554.28 L194.27,556.03 L195.00,556.27 L195.71,555.27 L196.43,555.01 L197.14,555.87 L197.86,556.38 L198.57,554.93 L199.29,555.40 L200.00,555.83 L200.71,554.94 L201.43,555.33 L202.14,554.79 L202.86,555.46 L203.57,554.96 L204.29,554.66 L205.00,555.28 L205.71,554.80 L206.43,554.74 L207.14,554.80 L207.86,555.34 L208.57,555.14 L209.29,555.96 L210.00,555.33 L210.71,554.99 L211.43,554.88 L212.14,555.09 L212.86,555.99 L213.57,554.90 L214.29,555.43 L215.00,556.11 L215.75,556.33 L216.50,555.76 L217.25,556.69 L218.00,556.45 L218.75,555.79 L219.50,555.69 L220.25,556.01 L221.00,557.41 L221.75,556.78 L222.50,557.84 L223.25,558.27 L224.00,557.50" fill="none" stroke="#3a9a5a" stroke-width="1.0" stroke-opacity="0.9"/>
<path d="M141.20,563.84 L141.93,562.73 L142.67,561.60 L143.40,561.93 L144.13,561.60 L144.87,562.26 L145.60,562.15 L146.33,562.38 L147.07,561.74 L147.80,562.04 L148.53,561.19 L149.27,560.66 L150.00,561.17 L150.71,559.87 L151.43,560.70 L152.14,560.42 L152.86,560.52 L153.57,558.73 L154.29,558.81 L155.00,560.15 L155.71,558.36 L156.43,558.80 L157.14,558.92 L157.86,558.50 L158.57,559.12 L159.29,559.09 L160.00,557.68 L160.71,557.09 L161.43,558.47 L162.14,557.37 L162.86,556.78 L163.57,556.38 L164.29,555.95 L165.00,556.92 L165.71,556.13 L166.43,556.51 L167.14,557.06 L167.86,556.00 L168.57,556.76 L169.29,554.81 L170.00,556.02 L170.75,555.76 L171.50,555.92 L172.25,553.81 L173.00,554.51 L173.75,554.36 L174.50,554.20 L175.25,553.69 L176.00,553.05 L176.75,553.81 L177.50,553.26 L178.25,552.40 L179.00,552.42 L179.90,550.61 L180.80,549.50" fill="none" stroke="#d83a4a" stroke-width="1.0" stroke-opacity="0.9"/>
<path d="M184.50,547.86 L185.33,549.52 L186.17,548.78 L187.00,550.50 L187.73,550.43 L188.45,549.69 L189.18,549.71 L189.91,549.68 L190.64,550.04 L191.36,551.77 L192.09,550.41 L192.82,551.86 L193.55,550.50 L194.27,551.04 L195.00,551.44 L195.71,551.25 L196.43,552.50 L197.14,551.09 L197.86,551.61 L198.57,551.09 L199.29,550.93 L200.00,552.13 L200.71,551.46 L201.43,551.80 L202.14,552.24 L202.86,551.07 L203.57,551.04 L204.29,552.34 L205.00,552.99 L205.71,551.14 L206.43,552.12 L207.14,553.31 L207.86,553.09 L208.57,553.51 L209.29,552.70 L210.00,553.69 L210.71,551.97 L211.43,552.91 L212.14,553.77 L212.86,552.96 L213.57,553.17 L214.29,553.29 L215.00,553.26 L215.75,554.46 L216.50,555.11 L217.25,553.96 L218.00,554.48 L218.75,555.77 L219.50,555.99 L220.25,556.46 L221.00,556.53 L221.75,557.33 L222.50,557.52 L223.25,557.43 L224.00,557.50" fill="none" stroke="#d83a4a" stroke-width="1.0" stroke-opacity="0.9"/>
<path d="M180.80,552.00 L182.45,595.00 L184.50,551.50" fill="none" stroke="#3a9a5a" stroke-width="0.7" />
<path d="M180.80,549.50 L182.20,622.00 L182.70,622.00 L184.50,548.70" fill="none" stroke="#d83a4a" stroke-width="0.8" />
<rect x="141.20" y="548.00" width="82.80" height="74.00" fill="none" stroke="#111" stroke-width="1.0" />
<line x1="138.80" y1="557.50" x2="141.20" y2="557.50" stroke="#111" stroke-width="0.8" />
<text x="136.40" y="559.40" font-size="5.6" text-anchor="end" fill="#333" stroke="#333" stroke-width="0.187" textLength="7.78" lengthAdjust="spacingAndGlyphs" >0.0</text>
<line x1="138.80" y1="569.60" x2="141.20" y2="569.60" stroke="#111" stroke-width="0.8" />
<text x="136.40" y="571.50" font-size="5.6" text-anchor="end" fill="#333" stroke="#333" stroke-width="0.187" textLength="11.05" lengthAdjust="spacingAndGlyphs" >−0.5</text>
<line x1="138.80" y1="581.80" x2="141.20" y2="581.80" stroke="#111" stroke-width="0.8" />
<text x="136.40" y="583.70" font-size="5.6" text-anchor="end" fill="#333" stroke="#333" stroke-width="0.187" textLength="11.05" lengthAdjust="spacingAndGlyphs" >−1.0</text>
<line x1="138.80" y1="593.90" x2="141.20" y2="593.90" stroke="#111" stroke-width="0.8" />
<text x="136.40" y="595.80" font-size="5.6" text-anchor="end" fill="#333" stroke="#333" stroke-width="0.187" textLength="11.05" lengthAdjust="spacingAndGlyphs" >−1.5</text>
<line x1="138.80" y1="606.20" x2="141.20" y2="606.20" stroke="#111" stroke-width="0.8" />
<text x="136.40" y="608.10" font-size="5.6" text-anchor="end" fill="#333" stroke="#333" stroke-width="0.187" textLength="11.05" lengthAdjust="spacingAndGlyphs" >−2.0</text>
<line x1="138.80" y1="618.40" x2="141.20" y2="618.40" stroke="#111" stroke-width="0.8" />
<text x="136.40" y="620.30" font-size="5.6" text-anchor="end" fill="#333" stroke="#333" stroke-width="0.187" textLength="11.05" lengthAdjust="spacingAndGlyphs" >−2.5</text>
<line x1="149.69" y1="622.00" x2="149.69" y2="624.40" stroke="#111" stroke-width="0.8" />
<text x="149.69" y="633.76" font-size="5.6" text-anchor="middle" fill="#333" stroke="#333" stroke-width="0.187" textLength="12.61" lengthAdjust="spacingAndGlyphs" >−200</text>
<line x1="166.07" y1="622.00" x2="166.07" y2="624.40" stroke="#111" stroke-width="0.8" />
<text x="166.07" y="633.76" font-size="5.6" text-anchor="middle" fill="#333" stroke="#333" stroke-width="0.187" textLength="12.61" lengthAdjust="spacingAndGlyphs" >−100</text>
<line x1="182.45" y1="622.00" x2="182.45" y2="624.40" stroke="#111" stroke-width="0.8" />
<text x="182.45" y="633.76" font-size="5.6" text-anchor="middle" fill="#333" stroke="#333" stroke-width="0.187" >0</text>
<line x1="198.83" y1="622.00" x2="198.83" y2="624.40" stroke="#111" stroke-width="0.8" />
<text x="198.83" y="633.76" font-size="5.6" text-anchor="middle" fill="#333" stroke="#333" stroke-width="0.187" textLength="9.34" lengthAdjust="spacingAndGlyphs" >100</text>
<line x1="215.21" y1="622.00" x2="215.21" y2="624.40" stroke="#111" stroke-width="0.8" />
<text x="215.21" y="633.76" font-size="5.6" text-anchor="middle" fill="#333" stroke="#333" stroke-width="0.187" textLength="9.34" lengthAdjust="spacingAndGlyphs" >200</text>
<text x="146.70" y="643.17" font-size="7.08" fill="#333" stroke="#333" stroke-width="0.236" textLength="71.80" lengthAdjust="spacingAndGlyphs" >Distance to motif center (bp)</text>
<text x="142.00" y="554.60" font-size="6.9" fill="#8aa890" stroke="#8aa890" stroke-width="0.230" textLength="3.28" lengthAdjust="spacingAndGlyphs" >A</text>
<text x="145.56" y="554.60" font-size="6.9" fill="#6aa890" stroke="#6aa890" stroke-width="0.230" textLength="3.28" lengthAdjust="spacingAndGlyphs" >G</text>
<text x="149.12" y="554.60" font-size="6.9" fill="#3a9870" stroke="#3a9870" stroke-width="0.230" textLength="3.28" lengthAdjust="spacingAndGlyphs" >G</text>
<text x="152.69" y="554.60" font-size="6.9" fill="#6a8890" stroke="#6a8890" stroke-width="0.230" textLength="3.28" lengthAdjust="spacingAndGlyphs" >C</text>
<text x="156.25" y="554.60" font-size="6.9" fill="#d8a060" stroke="#d8a060" stroke-width="0.230" textLength="3.28" lengthAdjust="spacingAndGlyphs" >G</text>
<text x="159.81" y="554.60" font-size="6.9" fill="#e0a070" stroke="#e0a070" stroke-width="0.230" textLength="3.28" lengthAdjust="spacingAndGlyphs" >C</text>
<text x="163.38" y="554.60" font-size="6.9" fill="#e8b080" stroke="#e8b080" stroke-width="0.230" textLength="3.28" lengthAdjust="spacingAndGlyphs" >T</text>
<text x="166.94" y="554.60" font-size="6.9" fill="#d0a080" stroke="#d0a080" stroke-width="0.230" textLength="3.28" lengthAdjust="spacingAndGlyphs" >G</text>
<text x="144.00" y="571.69" font-size="5.4" fill="#d83a4a" stroke="#d83a4a" stroke-width="0.180" textLength="36.00" lengthAdjust="spacingAndGlyphs" >Resistant clone</text>
<line x1="177.00" y1="566.50" x2="182.00" y2="557.00" stroke="#d83a4a" stroke-width="0.5" />
<text x="195.00" y="565.89" font-size="5.4" fill="#3a9a5a" stroke="#3a9a5a" stroke-width="0.180" textLength="21.00" lengthAdjust="spacingAndGlyphs" >Sensitive</text>
<text x="195.00" y="572.49" font-size="5.4" fill="#3a9a5a" stroke="#3a9a5a" stroke-width="0.180" textLength="13.00" lengthAdjust="spacingAndGlyphs" >clone</text>
<line x1="203.00" y1="560.50" x2="203.00" y2="556.00" stroke="#3a9a5a" stroke-width="0.5" />
<text x="288.50" y="543.85" font-size="7.0" text-anchor="middle" fill="#222" stroke="#222" stroke-width="0.233" textLength="19.00" lengthAdjust="spacingAndGlyphs" >EGR1</text>
<path d="M246.80,571.25 L247.55,569.66 L248.29,570.11 L249.04,569.93 L249.78,568.35 L250.53,567.77 L251.27,568.90 L252.02,567.43 L252.76,567.88 L253.51,568.97 L254.25,568.69 L255.00,566.51 L255.71,566.16 L256.43,566.28 L257.14,567.60 L257.86,565.26 L258.57,565.54 L259.29,564.98 L260.00,564.78 L260.71,565.56 L261.43,564.43 L262.14,564.76 L262.86,565.36 L263.57,565.08 L264.29,564.03 L265.00,564.74 L265.71,563.97 L266.43,564.42 L267.14,562.70 L267.86,562.80 L268.57,563.14 L269.29,563.87 L270.00,562.81 L270.71,562.22 L271.43,561.42 L272.14,561.29 L272.86,560.90 L273.57,562.69 L274.29,562.22 L275.00,562.03 L275.70,560.87 L276.40,561.14 L277.10,559.87 L277.80,560.15 L278.50,559.08 L279.20,559.59 L279.90,558.96 L280.60,558.36 L281.30,560.29 L282.00,557.95 L282.70,559.41 L283.40,558.72 L284.10,556.73 L284.80,557.36 L285.50,558.29 L286.25,557.27 L287.00,555.00" fill="none" stroke="#3a9a5a" stroke-width="1.0" stroke-opacity="0.9"/>
<path d="M290.00,555.16 L291.00,556.21 L292.00,556.54 L292.73,555.82 L293.45,556.86 L294.18,557.34 L294.91,557.18 L295.64,558.65 L296.36,558.04 L297.09,559.19 L297.82,557.78 L298.55,559.13 L299.27,558.45 L300.00,560.38 L300.71,561.08 L301.43,560.33 L302.14,560.49 L302.86,560.75 L303.57,559.83 L304.29,560.35 L305.00,560.95 L305.71,561.24 L306.43,560.65 L307.14,561.01 L307.86,560.74 L308.57,561.43 L309.29,561.85 L310.00,561.05 L310.71,562.16 L311.43,562.76 L312.14,562.13 L312.86,563.46 L313.57,561.90 L314.29,563.66 L315.00,561.92 L315.71,562.57 L316.43,563.93 L317.14,562.07 L317.86,563.76 L318.57,564.61 L319.29,564.98 L320.00,564.47 L320.75,564.06 L321.49,564.49 L322.24,565.73 L322.98,564.72 L323.73,565.08 L324.48,567.76 L325.22,567.56 L325.97,566.82 L326.72,567.97 L327.46,568.07 L328.21,570.04 L328.95,568.98 L329.70,570.00" fill="none" stroke="#3a9a5a" stroke-width="1.0" stroke-opacity="0.9"/>
<path d="M246.80,570.58 L247.55,570.27 L248.29,568.80 L249.04,568.26 L249.78,568.60 L250.53,567.92 L251.27,568.06 L252.02,567.01 L252.76,567.86 L253.51,566.52 L254.25,565.42 L255.00,566.71 L255.71,566.67 L256.43,565.76 L257.14,565.05 L257.86,565.54 L258.57,565.34 L259.29,562.58 L260.00,563.47 L260.71,561.89 L261.43,562.35 L262.14,561.76 L262.86,561.97 L263.57,562.18 L264.29,562.30 L265.00,560.38 L265.71,559.44 L266.43,561.73 L267.14,560.88 L267.86,559.99 L268.57,558.56 L269.29,558.12 L270.00,560.13 L270.71,558.79 L271.43,559.36 L272.14,558.88 L272.86,558.51 L273.57,558.37 L274.29,556.64 L275.00,556.34 L275.70,556.63 L276.40,557.30 L277.10,557.17 L277.80,556.87 L278.50,556.21 L279.20,555.74 L279.90,554.81 L280.60,555.83 L281.30,555.60 L282.00,555.04 L282.70,554.99 L283.40,555.05 L284.10,554.35 L284.80,551.58 L285.50,551.45 L286.25,550.29 L287.00,548.00" fill="none" stroke="#d83a4a" stroke-width="1.0" stroke-opacity="0.9"/>
<path d="M290.00,549.49 L291.00,549.19 L292.00,551.62 L292.73,550.81 L293.45,552.01 L294.18,550.56 L294.91,551.56 L295.64,551.30 L296.36,553.71 L297.09,553.42 L297.82,554.95 L298.55,554.46 L299.27,554.14 L300.00,554.63 L300.71,554.89 L301.43,554.64 L302.14,554.62 L302.86,556.25 L303.57,555.59 L304.29,556.17 L305.00,557.04 L305.71,556.13 L306.43,556.77 L307.14,556.68 L307.86,556.90 L308.57,558.00 L309.29,556.74 L310.00,557.74 L310.71,557.27 L311.43,559.01 L312.14,558.33 L312.86,560.35 L313.57,559.38 L314.29,560.14 L315.00,560.06 L315.71,561.12 L316.43,561.09 L317.14,561.22 L317.86,559.93 L318.57,560.50 L319.29,562.37 L320.00,561.77 L320.75,563.78 L321.49,563.43 L322.24,564.46 L322.98,564.79 L323.73,565.90 L324.48,565.64 L325.22,566.91 L325.97,566.11 L326.72,566.24 L327.46,566.37 L328.21,567.28 L328.95,569.49 L329.70,569.00" fill="none" stroke="#d83a4a" stroke-width="1.0" stroke-opacity="0.9"/>
<path d="M287.00,555.00 L288.45,595.00 L290.00,555.00" fill="none" stroke="#3a9a5a" stroke-width="0.7" />
<path d="M287.00,548.00 L288.20,619.00 L288.70,619.00 L290.00,549.00" fill="none" stroke="#d83a4a" stroke-width="0.8" />
<rect x="246.80" y="548.60" width="82.90" height="73.40" fill="none" stroke="#111" stroke-width="1.0" />
<line x1="244.40" y1="550.00" x2="246.80" y2="550.00" stroke="#111" stroke-width="0.8" />
<text x="242.00" y="551.90" font-size="5.6" text-anchor="end" fill="#333" stroke="#333" stroke-width="0.187" textLength="7.78" lengthAdjust="spacingAndGlyphs" >0.5</text>
<line x1="244.40" y1="567.70" x2="246.80" y2="567.70" stroke="#111" stroke-width="0.8" />
<text x="242.00" y="569.60" font-size="5.6" text-anchor="end" fill="#333" stroke="#333" stroke-width="0.187" textLength="7.78" lengthAdjust="spacingAndGlyphs" >0.0</text>
<line x1="244.40" y1="584.60" x2="246.80" y2="584.60" stroke="#111" stroke-width="0.8" />
<text x="242.00" y="586.50" font-size="5.6" text-anchor="end" fill="#333" stroke="#333" stroke-width="0.187" textLength="11.05" lengthAdjust="spacingAndGlyphs" >−0.5</text>
<line x1="244.40" y1="602.00" x2="246.80" y2="602.00" stroke="#111" stroke-width="0.8" />
<text x="242.00" y="603.90" font-size="5.6" text-anchor="end" fill="#333" stroke="#333" stroke-width="0.187" textLength="11.05" lengthAdjust="spacingAndGlyphs" >−1.0</text>
<line x1="244.40" y1="619.30" x2="246.80" y2="619.30" stroke="#111" stroke-width="0.8" />
<text x="242.00" y="621.20" font-size="5.6" text-anchor="end" fill="#333" stroke="#333" stroke-width="0.187" textLength="11.05" lengthAdjust="spacingAndGlyphs" >−1.5</text>
<line x1="254.59" y1="622.00" x2="254.59" y2="624.40" stroke="#111" stroke-width="0.8" />
<text x="254.59" y="633.76" font-size="5.6" text-anchor="middle" fill="#333" stroke="#333" stroke-width="0.187" textLength="12.61" lengthAdjust="spacingAndGlyphs" >−200</text>
<line x1="271.52" y1="622.00" x2="271.52" y2="624.40" stroke="#111" stroke-width="0.8" />
<text x="271.52" y="633.76" font-size="5.6" text-anchor="middle" fill="#333" stroke="#333" stroke-width="0.187" textLength="12.61" lengthAdjust="spacingAndGlyphs" >−100</text>
<line x1="288.45" y1="622.00" x2="288.45" y2="624.40" stroke="#111" stroke-width="0.8" />
<text x="288.45" y="633.76" font-size="5.6" text-anchor="middle" fill="#333" stroke="#333" stroke-width="0.187" >0</text>
<line x1="305.38" y1="622.00" x2="305.38" y2="624.40" stroke="#111" stroke-width="0.8" />
<text x="305.38" y="633.76" font-size="5.6" text-anchor="middle" fill="#333" stroke="#333" stroke-width="0.187" textLength="9.34" lengthAdjust="spacingAndGlyphs" >100</text>
<line x1="322.31" y1="622.00" x2="322.31" y2="624.40" stroke="#111" stroke-width="0.8" />
<text x="322.31" y="633.76" font-size="5.6" text-anchor="middle" fill="#333" stroke="#333" stroke-width="0.187" textLength="9.34" lengthAdjust="spacingAndGlyphs" >200</text>
<text x="252.30" y="643.17" font-size="7.08" fill="#333" stroke="#333" stroke-width="0.236" textLength="71.90" lengthAdjust="spacingAndGlyphs" >Distance to motif center (bp)</text>
<text x="247.40" y="555.00" font-size="6.9" fill="#909090" stroke="#909090" stroke-width="0.230" textLength="2.91" lengthAdjust="spacingAndGlyphs" >G</text>
<text x="250.57" y="555.00" font-size="6.9" fill="#a0a0a0" stroke="#a0a0a0" stroke-width="0.230" textLength="2.91" lengthAdjust="spacingAndGlyphs" >C</text>
<text x="253.73" y="555.00" font-size="6.9" fill="#d8a050" stroke="#d8a050" stroke-width="0.230" textLength="2.91" lengthAdjust="spacingAndGlyphs" >G</text>
<text x="256.90" y="555.00" font-size="6.9" fill="#e0a040" stroke="#e0a040" stroke-width="0.230" textLength="2.91" lengthAdjust="spacingAndGlyphs" >T</text>
<text x="260.07" y="555.00" font-size="6.9" fill="#e8b040" stroke="#e8b040" stroke-width="0.230" textLength="2.91" lengthAdjust="spacingAndGlyphs" >G</text>
<text x="263.23" y="555.00" font-size="6.9" fill="#e0a040" stroke="#e0a040" stroke-width="0.230" textLength="2.91" lengthAdjust="spacingAndGlyphs" >G</text>
<text x="266.40" y="555.00" font-size="6.9" fill="#d89840" stroke="#d89840" stroke-width="0.230" textLength="2.91" lengthAdjust="spacingAndGlyphs" >G</text>
<text x="269.57" y="555.00" font-size="6.9" fill="#c8a060" stroke="#c8a060" stroke-width="0.230" textLength="2.91" lengthAdjust="spacingAndGlyphs" >C</text>
<text x="272.73" y="555.00" font-size="6.9" fill="#a0a0a0" stroke="#a0a0a0" stroke-width="0.230" textLength="2.91" lengthAdjust="spacingAndGlyphs" >G</text>
<text x="249.00" y="577.39" font-size="5.4" fill="#d83a4a" stroke="#d83a4a" stroke-width="0.180" textLength="36.00" lengthAdjust="spacingAndGlyphs" >Resistant clone</text>
<line x1="282.00" y1="572.50" x2="285.00" y2="562.00" stroke="#d83a4a" stroke-width="0.5" />
<text x="298.00" y="576.29" font-size="5.4" fill="#3a9a5a" stroke="#3a9a5a" stroke-width="0.180" textLength="21.00" lengthAdjust="spacingAndGlyphs" >Sensitive</text>
<text x="298.00" y="582.29" font-size="5.4" fill="#3a9a5a" stroke="#3a9a5a" stroke-width="0.180" textLength="13.00" lengthAdjust="spacingAndGlyphs" >clone</text>
<text x="343.00" y="535.20" font-size="10" fill="#111" stroke="#111" stroke-width="0.35" font-weight="bold" >K</text>
<text x="370.50" y="531.26" font-size="7.9" fill="#333" stroke="#333" stroke-width="0.263" textLength="75.10" lengthAdjust="spacingAndGlyphs" >Cell cycle related genes</text>
<text x="371.00" y="540.26" font-size="7.9" fill="#333" stroke="#333" stroke-width="0.263" textLength="79.00" lengthAdjust="spacingAndGlyphs" >(drug-resistant vs drug-</text>
<text x="385.50" y="549.26" font-size="7.9" fill="#333" stroke="#333" stroke-width="0.263" textLength="49.70" lengthAdjust="spacingAndGlyphs" >sensitive clone)</text>
<rect x="372.50" y="553.50" width="10.86" height="10.50" fill="#c4cdea" stroke="#2a2a2a" stroke-width="0.8" />
<circle cx="377.93" cy="558.75" r="0.85" fill="#2a3468" />
<rect x="383.36" y="553.50" width="10.86" height="10.50" fill="#d8def2" stroke="#2a2a2a" stroke-width="0.8" />
<rect x="394.21" y="553.50" width="10.86" height="10.50" fill="#e4e8f4" stroke="#2a2a2a" stroke-width="0.8" />
<rect x="405.07" y="553.50" width="10.86" height="10.50" fill="#dde2f2" stroke="#2a2a2a" stroke-width="0.8" />
<rect x="415.93" y="553.50" width="10.86" height="10.50" fill="#e0e4f2" stroke="#2a2a2a" stroke-width="0.8" />
<rect x="426.79" y="553.50" width="10.86" height="10.50" fill="#5a6cb8" stroke="#2a2a2a" stroke-width="0.8" />
<circle cx="432.21" cy="558.75" r="0.85" fill="#2a3468" />
<rect x="437.64" y="553.50" width="10.86" height="10.50" fill="#6878bc" stroke="#2a2a2a" stroke-width="0.8" />
<circle cx="443.07" cy="558.75" r="0.85" fill="#2a3468" />
<rect x="372.50" y="564.00" width="10.86" height="10.50" fill="#b4c0e6" stroke="#2a2a2a" stroke-width="0.8" />
<circle cx="377.93" cy="569.25" r="0.85" fill="#2a3468" />
<rect x="383.36" y="564.00" width="10.86" height="10.50" fill="#98a8dc" stroke="#2a2a2a" stroke-width="0.8" />
<circle cx="388.79" cy="569.25" r="0.85" fill="#2a3468" />
<rect x="394.21" y="564.00" width="10.86" height="10.50" fill="#b0bce2" stroke="#2a2a2a" stroke-width="0.8" />
<circle cx="399.64" cy="569.25" r="0.85" fill="#2a3468" />
<rect x="405.07" y="564.00" width="10.86" height="10.50" fill="#90a0d4" stroke="#2a2a2a" stroke-width="0.8" />
<circle cx="410.50" cy="569.25" r="0.85" fill="#2a3468" />
<rect x="415.93" y="564.00" width="10.86" height="10.50" fill="#bcc6e6" stroke="#2a2a2a" stroke-width="0.8" />
<circle cx="421.36" cy="569.25" r="0.85" fill="#2a3468" />
<rect x="426.79" y="564.00" width="10.86" height="10.50" fill="#4458ae" stroke="#2a2a2a" stroke-width="0.8" />
<circle cx="432.21" cy="569.25" r="0.85" fill="#2a3468" />
<rect x="437.64" y="564.00" width="10.86" height="10.50" fill="#8494cc" stroke="#2a2a2a" stroke-width="0.8" />
<circle cx="443.07" cy="569.25" r="0.85" fill="#2a3468" />
<rect x="372.50" y="553.50" width="76.00" height="21.00" fill="none" stroke="#222" stroke-width="1.1" />
<rect x="372.50" y="577.00" width="10.86" height="8.83" fill="#f8dce2" stroke="#2a2a2a" stroke-width="0.8" />
<circle cx="377.93" cy="581.42" r="0.85" fill="#7a2a3a" />
<rect x="383.36" y="577.00" width="10.86" height="8.83" fill="#f4c8d0" stroke="#2a2a2a" stroke-width="0.8" />
<circle cx="388.79" cy="581.42" r="0.85" fill="#7a2a3a" />
<rect x="394.21" y="577.00" width="10.86" height="8.83" fill="#fdf8f8" stroke="#2a2a2a" stroke-width="0.8" />
<rect x="405.07" y="577.00" width="10.86" height="8.83" fill="#f8e4e8" stroke="#2a2a2a" stroke-width="0.8" />
<circle cx="410.50" cy="581.42" r="0.85" fill="#7a2a3a" />
<rect x="415.93" y="577.00" width="10.86" height="8.83" fill="#f2b8c4" stroke="#2a2a2a" stroke-width="0.8" />
<circle cx="421.36" cy="581.42" r="0.85" fill="#7a2a3a" />
<rect x="426.79" y="577.00" width="10.86" height="8.83" fill="#f6d4dc" stroke="#2a2a2a" stroke-width="0.8" />
<circle cx="432.21" cy="581.42" r="0.85" fill="#7a2a3a" />
<rect x="437.64" y="577.00" width="10.86" height="8.83" fill="#f8dce2" stroke="#2a2a2a" stroke-width="0.8" />
<circle cx="443.07" cy="581.42" r="0.85" fill="#7a2a3a" />
<rect x="372.50" y="585.83" width="10.86" height="8.83" fill="#f6d0d8" stroke="#2a2a2a" stroke-width="0.8" />
<circle cx="377.93" cy="590.25" r="0.85" fill="#7a2a3a" />
<rect x="383.36" y="585.83" width="10.86" height="8.83" fill="#f8e0e4" stroke="#2a2a2a" stroke-width="0.8" />
<circle cx="388.79" cy="590.25" r="0.85" fill="#7a2a3a" />
<rect x="394.21" y="585.83" width="10.86" height="8.83" fill="#fdfafa" stroke="#2a2a2a" stroke-width="0.8" />
<rect x="405.07" y="585.83" width="10.86" height="8.83" fill="#fdfafa" stroke="#2a2a2a" stroke-width="0.8" />
<rect x="415.93" y="585.83" width="10.86" height="8.83" fill="#f6d4dc" stroke="#2a2a2a" stroke-width="0.8" />
<circle cx="421.36" cy="590.25" r="0.85" fill="#7a2a3a" />
<rect x="426.79" y="585.83" width="10.86" height="8.83" fill="#e0e4f4" stroke="#2a2a2a" stroke-width="0.8" />
<rect x="437.64" y="585.83" width="10.86" height="8.83" fill="#f8e0e4" stroke="#2a2a2a" stroke-width="0.8" />
<rect x="372.50" y="594.67" width="10.86" height="8.83" fill="#fdf8fa" stroke="#2a2a2a" stroke-width="0.8" />
<rect x="383.36" y="594.67" width="10.86" height="8.83" fill="#f6d0d8" stroke="#2a2a2a" stroke-width="0.8" />
<circle cx="388.79" cy="599.08" r="0.85" fill="#7a2a3a" />
<rect x="394.21" y="594.67" width="10.86" height="8.83" fill="#fdfafa" stroke="#2a2a2a" stroke-width="0.8" />
<rect x="405.07" y="594.67" width="10.86" height="8.83" fill="#e8ecf6" stroke="#2a2a2a" stroke-width="0.8" />
<rect x="415.93" y="594.67" width="10.86" height="8.83" fill="#f2bcc6" stroke="#2a2a2a" stroke-width="0.8" />
<circle cx="421.36" cy="599.08" r="0.85" fill="#7a2a3a" />
<rect x="426.79" y="594.67" width="10.86" height="8.83" fill="#fdfafa" stroke="#2a2a2a" stroke-width="0.8" />
<rect x="437.64" y="594.67" width="10.86" height="8.83" fill="#f8e0e4" stroke="#2a2a2a" stroke-width="0.8" />
<circle cx="443.07" cy="599.08" r="0.85" fill="#7a2a3a" />
<rect x="372.50" y="603.50" width="10.86" height="8.83" fill="#fdfafa" stroke="#2a2a2a" stroke-width="0.8" />
<rect x="383.36" y="603.50" width="10.86" height="8.83" fill="#fdfafa" stroke="#2a2a2a" stroke-width="0.8" />
<rect x="394.21" y="603.50" width="10.86" height="8.83" fill="#f6d0d8" stroke="#2a2a2a" stroke-width="0.8" />
<circle cx="399.64" cy="607.92" r="0.85" fill="#7a2a3a" />
<rect x="405.07" y="603.50" width="10.86" height="8.83" fill="#fdfafa" stroke="#2a2a2a" stroke-width="0.8" />
<rect x="415.93" y="603.50" width="10.86" height="8.83" fill="#f6d4dc" stroke="#2a2a2a" stroke-width="0.8" />
<circle cx="421.36" cy="607.92" r="0.85" fill="#7a2a3a" />
<rect x="426.79" y="603.50" width="10.86" height="8.83" fill="#dce2f2" stroke="#2a2a2a" stroke-width="0.8" />
<rect x="437.64" y="603.50" width="10.86" height="8.83" fill="#f8e0e4" stroke="#2a2a2a" stroke-width="0.8" />
<circle cx="443.07" cy="607.92" r="0.85" fill="#7a2a3a" />
<rect x="372.50" y="612.33" width="10.86" height="8.83" fill="#f6d0d8" stroke="#2a2a2a" stroke-width="0.8" />
<circle cx="377.93" cy="616.75" r="0.85" fill="#7a2a3a" />
<rect x="383.36" y="612.33" width="10.86" height="8.83" fill="#f8dce2" stroke="#2a2a2a" stroke-width="0.8" />
<circle cx="388.79" cy="616.75" r="0.85" fill="#7a2a3a" />
<rect x="394.21" y="612.33" width="10.86" height="8.83" fill="#fdfafa" stroke="#2a2a2a" stroke-width="0.8" />
<rect x="405.07" y="612.33" width="10.86" height="8.83" fill="#f6d4dc" stroke="#2a2a2a" stroke-width="0.8" />
<circle cx="410.50" cy="616.75" r="0.85" fill="#7a2a3a" />
<rect x="415.93" y="612.33" width="10.86" height="8.83" fill="#f4c8d0" stroke="#2a2a2a" stroke-width="0.8" />
<circle cx="421.36" cy="616.75" r="0.85" fill="#7a2a3a" />
<rect x="426.79" y="612.33" width="10.86" height="8.83" fill="#f6d4dc" stroke="#2a2a2a" stroke-width="0.8" />
<circle cx="432.21" cy="616.75" r="0.85" fill="#7a2a3a" />
<rect x="437.64" y="612.33" width="10.86" height="8.83" fill="#f6d4dc" stroke="#2a2a2a" stroke-width="0.8" />
<circle cx="443.07" cy="616.75" r="0.85" fill="#7a2a3a" />
<rect x="372.50" y="621.17" width="10.86" height="8.83" fill="#f6d4dc" stroke="#2a2a2a" stroke-width="0.8" />
<circle cx="377.93" cy="625.58" r="0.85" fill="#7a2a3a" />
<rect x="383.36" y="621.17" width="10.86" height="8.83" fill="#fdfafa" stroke="#2a2a2a" stroke-width="0.8" />
<rect x="394.21" y="621.17" width="10.86" height="8.83" fill="#faeaee" stroke="#2a2a2a" stroke-width="0.8" />
<rect x="405.07" y="621.17" width="10.86" height="8.83" fill="#faeaee" stroke="#2a2a2a" stroke-width="0.8" />
<rect x="415.93" y="621.17" width="10.86" height="8.83" fill="#f8e0e4" stroke="#2a2a2a" stroke-width="0.8" />
<rect x="426.79" y="621.17" width="10.86" height="8.83" fill="#f6d4dc" stroke="#2a2a2a" stroke-width="0.8" />
<circle cx="432.21" cy="625.58" r="0.85" fill="#7a2a3a" />
<rect x="437.64" y="621.17" width="10.86" height="8.83" fill="#f2bcc6" stroke="#2a2a2a" stroke-width="0.8" />
<circle cx="443.07" cy="625.58" r="0.85" fill="#7a2a3a" />
<rect x="372.50" y="577.00" width="76.00" height="53.00" fill="none" stroke="#222" stroke-width="1.1" />
<text x="452.00" y="561.10" font-size="5.6" fill="#333" stroke="#333" stroke-width="0.187" font-style="italic" textLength="35.70" lengthAdjust="spacingAndGlyphs" >CDKN2A (p16)</text>
<text x="452.00" y="571.20" font-size="5.6" fill="#333" stroke="#333" stroke-width="0.187" font-style="italic" textLength="35.70" lengthAdjust="spacingAndGlyphs" >CDKN2B (p15)</text>
<text x="452.00" y="583.10" font-size="5.6" fill="#333" stroke="#333" stroke-width="0.187" font-style="italic" textLength="8.71" lengthAdjust="spacingAndGlyphs" >ID1</text>
<text x="452.00" y="591.90" font-size="5.6" fill="#333" stroke="#333" stroke-width="0.187" font-style="italic" textLength="15.56" lengthAdjust="spacingAndGlyphs" >EGFR</text>
<text x="452.00" y="600.70" font-size="5.6" fill="#333" stroke="#333" stroke-width="0.187" font-style="italic" textLength="18.98" lengthAdjust="spacingAndGlyphs" >STMN3</text>
<text x="452.00" y="609.20" font-size="5.6" fill="#333" stroke="#333" stroke-width="0.187" font-style="italic" textLength="18.36" lengthAdjust="spacingAndGlyphs" >GSPT1</text>
<text x="452.00" y="617.90" font-size="5.6" fill="#333" stroke="#333" stroke-width="0.187" font-style="italic" textLength="19.29" lengthAdjust="spacingAndGlyphs" >CCND1</text>
<text x="452.00" y="626.90" font-size="5.6" fill="#333" stroke="#333" stroke-width="0.187" font-style="italic" textLength="14.94" lengthAdjust="spacingAndGlyphs" >CDK4</text>
<line x1="490.00" y1="556.50" x2="490.00" y2="571.00" stroke="#333" stroke-width="1.0" />
<line x1="490.00" y1="578.00" x2="490.00" y2="626.50" stroke="#333" stroke-width="1.0" />
<text x="501.60" y="564.00" font-size="5.4" text-anchor="middle" fill="#333" stroke="#333" stroke-width="0.180" textLength="18.60" lengthAdjust="spacingAndGlyphs" transform="rotate(90 501.60 564.00)" >DNMT1</text>
<text x="495.40" y="564.00" font-size="5.4" text-anchor="middle" fill="#333" stroke="#333" stroke-width="0.180" textLength="22.52" lengthAdjust="spacingAndGlyphs" transform="rotate(90 495.40 564.00)" >regulated</text>
<text x="501.60" y="602.00" font-size="5.4" text-anchor="middle" fill="#333" stroke="#333" stroke-width="0.180" textLength="14.70" lengthAdjust="spacingAndGlyphs" transform="rotate(90 501.60 602.00)" >EGR1</text>
<text x="495.40" y="602.00" font-size="5.4" text-anchor="middle" fill="#333" stroke="#333" stroke-width="0.180" textLength="22.52" lengthAdjust="spacingAndGlyphs" transform="rotate(90 495.40 602.00)" >regulated</text>
<text x="379.73" y="633.80" font-size="5.4" text-anchor="end" fill="#333" stroke="#333" stroke-width="0.180" textLength="17.11" lengthAdjust="spacingAndGlyphs" transform="rotate(-90 379.73 633.80)" >pAML1</text>
<text x="390.59" y="633.80" font-size="5.4" text-anchor="end" fill="#333" stroke="#333" stroke-width="0.180" textLength="17.11" lengthAdjust="spacingAndGlyphs" transform="rotate(-90 390.59 633.80)" >pAML2</text>
<text x="401.44" y="633.80" font-size="5.4" text-anchor="end" fill="#333" stroke="#333" stroke-width="0.180" textLength="17.11" lengthAdjust="spacingAndGlyphs" transform="rotate(-90 401.44 633.80)" >pAML3</text>
<text x="412.30" y="633.80" font-size="5.4" text-anchor="end" fill="#333" stroke="#333" stroke-width="0.180" textLength="20.11" lengthAdjust="spacingAndGlyphs" transform="rotate(-90 412.30 633.80)" >pAML10</text>
<text x="423.16" y="633.80" font-size="5.4" text-anchor="end" fill="#333" stroke="#333" stroke-width="0.180" textLength="19.71" lengthAdjust="spacingAndGlyphs" transform="rotate(-90 423.16 633.80)" >pAML11</text>
<text x="434.01" y="633.80" font-size="5.4" text-anchor="end" fill="#333" stroke="#333" stroke-width="0.180" textLength="20.11" lengthAdjust="spacingAndGlyphs" transform="rotate(-90 434.01 633.80)" >pAML19</text>
<text x="444.87" y="633.80" font-size="5.4" text-anchor="end" fill="#333" stroke="#333" stroke-width="0.180" textLength="20.11" lengthAdjust="spacingAndGlyphs" transform="rotate(-90 444.87 633.80)" >pAML20</text>
<rect x="356.20" y="559.20" width="5.00" height="28.80" fill="url(#bwrv)" stroke="#777" stroke-width="0.5" />
<text x="364.60" y="563.09" font-size="5.4" text-anchor="middle" fill="#333" stroke="#333" stroke-width="0.180" >2</text>
<text x="364.60" y="576.49" font-size="5.4" text-anchor="middle" fill="#333" stroke="#333" stroke-width="0.180" >0</text>
<text x="366.60" y="589.59" font-size="5.4" text-anchor="middle" fill="#333" stroke="#333" stroke-width="0.180" textLength="6.16" lengthAdjust="spacingAndGlyphs" >−2</text>
<text x="348.00" y="583.00" font-size="5.4" fill="#333" stroke="#333" stroke-width="0.180" textLength="8.60" lengthAdjust="spacingAndGlyphs" transform="rotate(-90 348.00 583.00)" >Log</text>
<text x="347.00" y="574.20" font-size="3.4" fill="#333" stroke="#333" stroke-width="0.113" transform="rotate(-90 347.00 574.20)" >2</text>
<text x="348.00" y="572.60" font-size="5.4" fill="#333" stroke="#333" stroke-width="0.180" textLength="6.40" lengthAdjust="spacingAndGlyphs" transform="rotate(-90 348.00 572.60)" >FC</text>
<text x="353.00" y="573.80" font-size="5.2" text-anchor="middle" fill="#333" stroke="#333" stroke-width="0.173" textLength="29.00" lengthAdjust="spacingAndGlyphs" transform="rotate(-90 353.00 573.80)" >(gene score)</text>
<rect x="0.50" y="0.50" width="519.00" height="659.00" fill="none" stroke="#4a4a4a" stroke-width="1.0" />
<line x1="0.00" y1="659.20" x2="520.00" y2="659.20" stroke="#3a3a3a" stroke-width="1.6" />
</svg>
</body></html>
